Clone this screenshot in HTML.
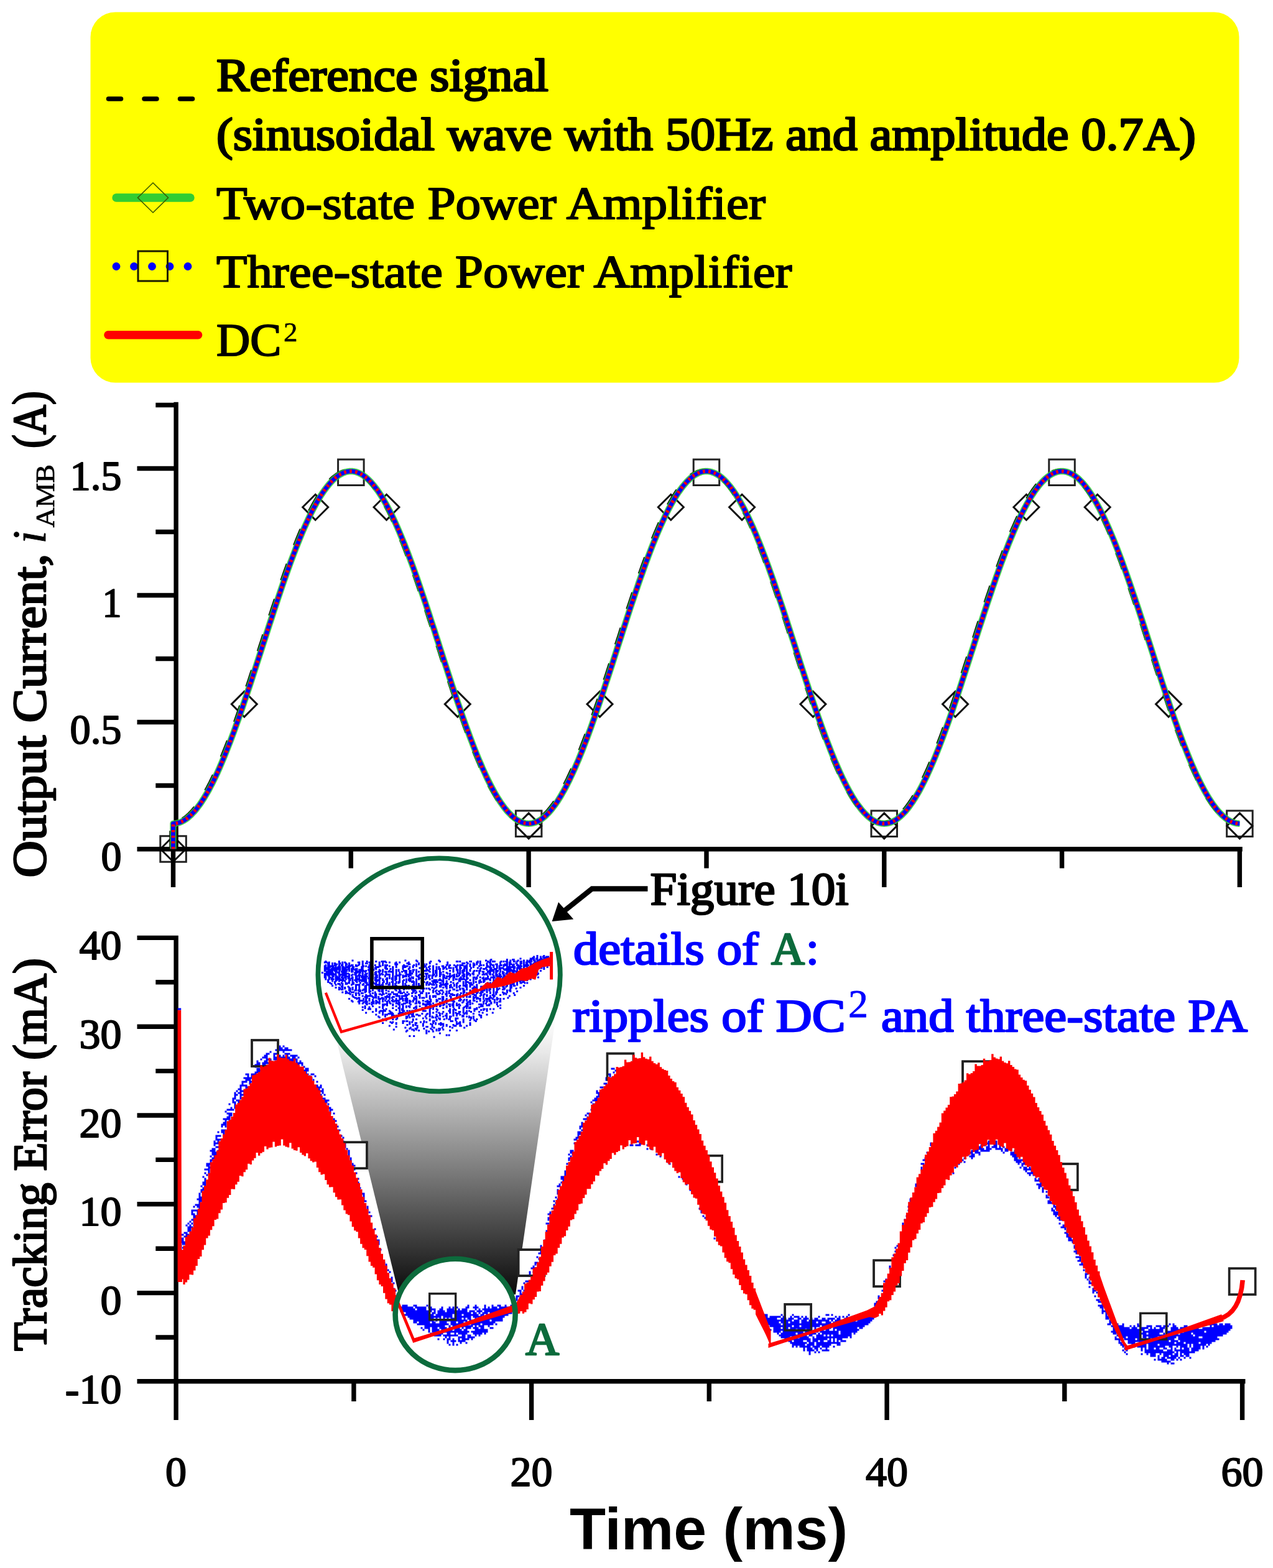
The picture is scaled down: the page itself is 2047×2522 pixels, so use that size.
<!DOCTYPE html>
<html lang="en"><head><meta charset="utf-8"><title>Tracking performance</title>
<style>
html,body{margin:0;padding:0;background:#fff}
body{width:2047px;height:2522px;overflow:hidden}
svg{display:block}
text{font-family:'Liberation Serif','DejaVu Serif',serif;font-weight:normal;fill:#000;stroke:#000;stroke-width:2px;stroke-linejoin:round}
.b{fill:#0000ff;stroke:#0000ff}
.g{fill:#0c6b3c;stroke:#0c6b3c}
.lg{font-size:75px;stroke-width:2.1px}
.lb{font-size:75px;stroke-width:2.9px}
.lw{font-size:75px;stroke-width:2.6px}
.sup{font-size:45px;stroke-width:0.6px}
.sup2{font-size:64px;stroke:#0000ff;stroke-width:0.8px}
.tk{font-size:68px;stroke-width:2px}
.yl{font-size:76px;stroke-width:2.6px}
.it{font-style:italic;stroke-width:0.8px}
.sub{font-size:43px;stroke-width:0.8px}
.xl{font-family:'Liberation Sans','DejaVu Sans',sans-serif;font-weight:bold;font-size:95px;stroke:none}
</style></head>
<body>
<svg width="2047" height="2522" viewBox="0 0 2047 2522">
<rect width="2047" height="2522" fill="#fff"/>
<rect x="145.5" y="19.5" width="1847" height="596" rx="40" ry="40" fill="#ffff00"/>
<path d="M174.5 159H194.5M232 159H252M289.5 159H309.5" stroke="#000" stroke-width="7.5" stroke-linecap="round" fill="none"/>
<path d="M187 318H306" stroke="#32cd32" stroke-width="13.4" stroke-linecap="round" fill="none"/>
<path d="M246 294L270.5 318L246 342L221.5 318Z" stroke="#3a5a00" stroke-width="1.6" fill="none"/>
<circle cx="187" cy="428.5" r="6.4" fill="#0000ff"/>
<circle cx="215.5" cy="428.5" r="6.4" fill="#0000ff"/>
<circle cx="244.5" cy="428.5" r="6.4" fill="#0000ff"/>
<circle cx="273" cy="428.5" r="6.4" fill="#0000ff"/>
<circle cx="302" cy="428.5" r="6.4" fill="#0000ff"/>
<rect x="222" y="404" width="47.5" height="48" stroke="#1a1a00" stroke-width="3" fill="none"/>
<path d="M174 538.8H318.5" stroke="#ff0000" stroke-width="13.6" stroke-linecap="round" fill="none"/>
<text x="348" y="146" class="lb" textLength="534" lengthAdjust="spacingAndGlyphs">Reference signal</text>
<text x="348" y="241" class="lb" textLength="1575" lengthAdjust="spacingAndGlyphs">(sinusoidal wave with 50Hz and amplitude 0.7A)</text>
<text x="348" y="352" class="lg" textLength="883" lengthAdjust="spacingAndGlyphs">Two-state Power Amplifier</text>
<text x="348" y="462" class="lg" textLength="925.5" lengthAdjust="spacingAndGlyphs">Three-state Power Amplifier</text>
<text x="348" y="572" class="lg">DC</text>
<text x="456" y="549" class="sup">2</text>
<path d="M257.8 1344.8h41.5v41.5h-41.5zM543.6 738.9h41.5v41.5h-41.5zM829.4 1304h41.5v41.5h-41.5zM1115.2 738.9h41.5v41.5h-41.5zM1401 1304h41.5v41.5h-41.5zM1686.8 738.9h41.5v41.5h-41.5zM1972.7 1304h41.5v41.5h-41.5z" stroke="#222" stroke-width="3" fill="none"/>
<path d="M278.5 1345l20.5 20.5l-20.5 20.5l-20.5 -20.5zM392.8 1112.1l20.5 20.5l-20.5 20.5l-20.5 -20.5zM507.2 795.3l20.5 20.5l-20.5 20.5l-20.5 -20.5zM621.5 795.3l20.5 20.5l-20.5 20.5l-20.5 -20.5zM735.8 1112.1l20.5 20.5l-20.5 20.5l-20.5 -20.5zM850.1 1307.9l20.5 20.5l-20.5 20.5l-20.5 -20.5zM964.5 1112.1l20.5 20.5l-20.5 20.5l-20.5 -20.5zM1078.8 795.3l20.5 20.5l-20.5 20.5l-20.5 -20.5zM1193.1 795.3l20.5 20.5l-20.5 20.5l-20.5 -20.5zM1307.4 1112.1l20.5 20.5l-20.5 20.5l-20.5 -20.5zM1421.8 1307.9l20.5 20.5l-20.5 20.5l-20.5 -20.5zM1536.1 1112.1l20.5 20.5l-20.5 20.5l-20.5 -20.5zM1650.4 795.3l20.5 20.5l-20.5 20.5l-20.5 -20.5zM1764.7 795.3l20.5 20.5l-20.5 20.5l-20.5 -20.5zM1879.1 1112.1l20.5 20.5l-20.5 20.5l-20.5 -20.5zM1993.4 1307.9l20.5 20.5l-20.5 20.5l-20.5 -20.5z" stroke="#111" stroke-width="3" fill="none"/>
<path d="M283.1 646.8V1369.2M220.5 1365.8H1997.8M220.5 1161.5H283M220.5 957.5H283M220.5 753.5H283M250.3 1263.5H283M250.3 1059.5H283M250.3 855.5H283M250.3 651.5H283M278.5 1365.5V1427M850.1 1365.5V1427M1421.8 1365.5V1427M1993.4 1365.5V1427M564.3 1365.5V1396.5M1136 1365.5V1396.5M1707.6 1365.5V1396.5" stroke="#000" stroke-width="7.4" fill="none"/>
<text x="162.5" y="1399.5" class="tk" textLength="33" lengthAdjust="spacingAndGlyphs">0</text>
<text x="112.5" y="1195.5" class="tk" textLength="83" lengthAdjust="spacingAndGlyphs">0.5</text>
<text x="164.5" y="991.5" class="tk" textLength="31" lengthAdjust="spacingAndGlyphs">1</text>
<text x="112.5" y="787.5" class="tk" textLength="83" lengthAdjust="spacingAndGlyphs">1.5</text>
<path d="M278.5 1365.5L278.5 1324.7L281.4 1324.6L284.2 1324.1L287.1 1323.4L289.9 1322.5L292.8 1321.2L295.6 1319.7L298.5 1317.9L301.4 1315.8L304.2 1313.4L307.1 1310.8L309.9 1307.9L312.8 1304.8L315.7 1301.4L318.5 1297.7L321.4 1293.8L324.2 1289.7L327.1 1285.2L329.9 1280.6L332.8 1275.7L335.7 1270.6L338.5 1265.2L341.4 1259.7L344.2 1253.9L347.1 1247.9L350 1241.7L352.8 1235.3L355.7 1228.7L358.5 1222L361.4 1215L364.2 1207.9L367.1 1200.6L370 1193.2L372.8 1185.6L375.7 1177.9L378.5 1170L381.4 1162L384.3 1153.9L387.1 1145.7L390 1137.3L392.8 1128.9L395.7 1120.4L398.5 1111.8L401.4 1103.2L404.3 1094.4L407.1 1085.7L410 1076.9L412.8 1068L415.7 1059.1L418.6 1050.2L421.4 1041.3L424.3 1032.4L427.1 1023.6L430 1014.7L432.8 1005.8L435.7 997L438.6 988.2L441.4 979.5L444.3 970.9L447.1 962.3L450 953.8L452.8 945.4L455.7 937L458.6 928.8L461.4 920.7L464.3 912.7L467.1 904.8L470 897.1L472.9 889.5L475.7 882.1L478.6 874.8L481.4 867.7L484.3 860.7L487.1 854L490 847.4L492.9 841L495.7 834.8L498.6 828.8L501.4 823L504.3 817.4L507.2 812.1L510 807L512.9 802.1L515.7 797.4L518.6 793L521.4 788.9L524.3 785L527.2 781.3L530 777.9L532.9 774.7L535.7 771.9L538.6 769.2L541.5 766.9L544.3 764.8L547.2 763L550 761.5L552.9 760.2L555.7 759.2L558.6 758.5L561.5 758.1L564.3 758L567.2 758.1L570 758.5L572.9 759.2L575.7 760.2L578.6 761.5L581.5 763L584.3 764.8L587.2 766.9L590 769.2L592.9 771.9L595.8 774.7L598.6 777.9L601.5 781.3L604.3 785L607.2 788.9L610 793L612.9 797.4L615.8 802.1L618.6 807L621.5 812.1L624.3 817.4L627.2 823L630.1 828.8L632.9 834.8L635.8 841L638.6 847.4L641.5 854L644.3 860.7L647.2 867.7L650.1 874.8L652.9 882.1L655.8 889.5L658.6 897.1L661.5 904.8L664.4 912.7L667.2 920.7L670.1 928.8L672.9 937L675.8 945.4L678.6 953.8L681.5 962.3L684.4 970.9L687.2 979.5L690.1 988.2L692.9 997L695.8 1005.8L698.7 1014.7L701.5 1023.6L704.4 1032.4L707.2 1041.3L710.1 1050.2L712.9 1059.1L715.8 1068L718.7 1076.9L721.5 1085.7L724.4 1094.4L727.2 1103.2L730.1 1111.8L732.9 1120.4L735.8 1128.9L738.7 1137.3L741.5 1145.7L744.4 1153.9L747.2 1162L750.1 1170L753 1177.9L755.8 1185.6L758.7 1193.2L761.5 1200.6L764.4 1207.9L767.2 1215L770.1 1222L773 1228.7L775.8 1235.3L778.7 1241.7L781.5 1247.9L784.4 1253.9L787.3 1259.7L790.1 1265.2L793 1270.6L795.8 1275.7L798.7 1280.6L801.5 1285.2L804.4 1289.7L807.3 1293.8L810.1 1297.7L813 1301.4L815.8 1304.8L818.7 1307.9L821.6 1310.8L824.4 1313.4L827.3 1315.8L830.1 1317.9L833 1319.7L835.8 1321.2L838.7 1322.5L841.6 1323.4L844.4 1324.1L847.3 1324.6L850.1 1324.7L853 1324.6L855.8 1324.1L858.7 1323.4L861.6 1322.5L864.4 1321.2L867.3 1319.7L870.1 1317.9L873 1315.8L875.9 1313.4L878.7 1310.8L881.6 1307.9L884.4 1304.8L887.3 1301.4L890.1 1297.7L893 1293.8L895.9 1289.7L898.7 1285.2L901.6 1280.6L904.4 1275.7L907.3 1270.6L910.2 1265.2L913 1259.7L915.9 1253.9L918.7 1247.9L921.6 1241.7L924.4 1235.3L927.3 1228.7L930.2 1222L933 1215L935.9 1207.9L938.7 1200.6L941.6 1193.2L944.5 1185.6L947.3 1177.9L950.2 1170L953 1162L955.9 1153.9L958.7 1145.7L961.6 1137.3L964.5 1128.9L967.3 1120.4L970.2 1111.8L973 1103.2L975.9 1094.4L978.8 1085.7L981.6 1076.9L984.5 1068L987.3 1059.1L990.2 1050.2L993 1041.3L995.9 1032.4L998.8 1023.6L1001.6 1014.7L1004.5 1005.8L1007.3 997L1010.2 988.2L1013 979.5L1015.9 970.9L1018.8 962.3L1021.6 953.8L1024.5 945.4L1027.3 937L1030.2 928.8L1033.1 920.7L1035.9 912.7L1038.8 904.8L1041.6 897.1L1044.5 889.5L1047.3 882.1L1050.2 874.8L1053.1 867.7L1055.9 860.7L1058.8 854L1061.6 847.4L1064.5 841L1067.4 834.8L1070.2 828.8L1073.1 823L1075.9 817.4L1078.8 812.1L1081.6 807L1084.5 802.1L1087.4 797.4L1090.2 793L1093.1 788.9L1095.9 785L1098.8 781.3L1101.7 777.9L1104.5 774.7L1107.4 771.9L1110.2 769.2L1113.1 766.9L1115.9 764.8L1118.8 763L1121.7 761.5L1124.5 760.2L1127.4 759.2L1130.2 758.5L1133.1 758.1L1136 758L1138.8 758.1L1141.7 758.5L1144.5 759.2L1147.4 760.2L1150.2 761.5L1153.1 763L1156 764.8L1158.8 766.9L1161.7 769.2L1164.5 771.9L1167.4 774.7L1170.2 777.9L1173.1 781.3L1176 785L1178.8 788.9L1181.7 793L1184.5 797.4L1187.4 802.1L1190.3 807L1193.1 812.1L1196 817.4L1198.8 823L1201.7 828.8L1204.5 834.8L1207.4 841L1210.3 847.4L1213.1 854L1216 860.7L1218.8 867.7L1221.7 874.8L1224.6 882.1L1227.4 889.5L1230.3 897.1L1233.1 904.8L1236 912.7L1238.8 920.7L1241.7 928.8L1244.6 937L1247.4 945.4L1250.3 953.8L1253.1 962.3L1256 970.9L1258.9 979.5L1261.7 988.2L1264.6 997L1267.4 1005.8L1270.3 1014.7L1273.1 1023.6L1276 1032.4L1278.9 1041.3L1281.7 1050.2L1284.6 1059.1L1287.4 1068L1290.3 1076.9L1293.1 1085.7L1296 1094.4L1298.9 1103.2L1301.7 1111.8L1304.6 1120.4L1307.4 1128.9L1310.3 1137.3L1313.2 1145.7L1316 1153.9L1318.9 1162L1321.7 1170L1324.6 1177.9L1327.4 1185.6L1330.3 1193.2L1333.2 1200.6L1336 1207.9L1338.9 1215L1341.7 1222L1344.6 1228.7L1347.5 1235.3L1350.3 1241.7L1353.2 1247.9L1356 1253.9L1358.9 1259.7L1361.7 1265.2L1364.6 1270.6L1367.5 1275.7L1370.3 1280.6L1373.2 1285.2L1376 1289.7L1378.9 1293.8L1381.8 1297.7L1384.6 1301.4L1387.5 1304.8L1390.3 1307.9L1393.2 1310.8L1396 1313.4L1398.9 1315.8L1401.8 1317.9L1404.6 1319.7L1407.5 1321.2L1410.3 1322.5L1413.2 1323.4L1416.1 1324.1L1418.9 1324.6L1421.8 1324.7L1424.6 1324.6L1427.5 1324.1L1430.3 1323.4L1433.2 1322.5L1436.1 1321.2L1438.9 1319.7L1441.8 1317.9L1444.6 1315.8L1447.5 1313.4L1450.3 1310.8L1453.2 1307.9L1456.1 1304.8L1458.9 1301.4L1461.8 1297.7L1464.6 1293.8L1467.5 1289.7L1470.4 1285.2L1473.2 1280.6L1476.1 1275.7L1478.9 1270.6L1481.8 1265.2L1484.6 1259.7L1487.5 1253.9L1490.4 1247.9L1493.2 1241.7L1496.1 1235.3L1498.9 1228.7L1501.8 1222L1504.7 1215L1507.5 1207.9L1510.4 1200.6L1513.2 1193.2L1516.1 1185.6L1518.9 1177.9L1521.8 1170L1524.7 1162L1527.5 1153.9L1530.4 1145.7L1533.2 1137.3L1536.1 1128.9L1539 1120.4L1541.8 1111.8L1544.7 1103.2L1547.5 1094.4L1550.4 1085.7L1553.2 1076.9L1556.1 1068L1559 1059.1L1561.8 1050.2L1564.7 1041.3L1567.5 1032.4L1570.4 1023.6L1573.2 1014.7L1576.1 1005.8L1579 997L1581.8 988.2L1584.7 979.5L1587.5 970.9L1590.4 962.3L1593.3 953.8L1596.1 945.4L1599 937L1601.8 928.8L1604.7 920.7L1607.5 912.7L1610.4 904.8L1613.3 897.1L1616.1 889.5L1619 882.1L1621.8 874.8L1624.7 867.7L1627.6 860.7L1630.4 854L1633.3 847.4L1636.1 841L1639 834.8L1641.8 828.8L1644.7 823L1647.6 817.4L1650.4 812.1L1653.3 807L1656.1 802.1L1659 797.4L1661.9 793L1664.7 788.9L1667.6 785L1670.4 781.3L1673.3 777.9L1676.1 774.7L1679 771.9L1681.9 769.2L1684.7 766.9L1687.6 764.8L1690.4 763L1693.3 761.5L1696.2 760.2L1699 759.2L1701.9 758.5L1704.7 758.1L1707.6 758L1710.4 758.1L1713.3 758.5L1716.2 759.2L1719 760.2L1721.9 761.5L1724.7 763L1727.6 764.8L1730.4 766.9L1733.3 769.2L1736.2 771.9L1739 774.7L1741.9 777.9L1744.7 781.3L1747.6 785L1750.5 788.9L1753.3 793L1756.2 797.4L1759 802.1L1761.9 807L1764.7 812.1L1767.6 817.4L1770.5 823L1773.3 828.8L1776.2 834.8L1779 841L1781.9 847.4L1784.8 854L1787.6 860.7L1790.5 867.7L1793.3 874.8L1796.2 882.1L1799 889.5L1801.9 897.1L1804.8 904.8L1807.6 912.7L1810.5 920.7L1813.3 928.8L1816.2 937L1819.1 945.4L1821.9 953.8L1824.8 962.3L1827.6 970.9L1830.5 979.5L1833.3 988.2L1836.2 997L1839.1 1005.8L1841.9 1014.7L1844.8 1023.6L1847.6 1032.4L1850.5 1041.3L1853.3 1050.2L1856.2 1059.1L1859.1 1068L1861.9 1076.9L1864.8 1085.7L1867.6 1094.4L1870.5 1103.2L1873.4 1111.8L1876.2 1120.4L1879.1 1128.9L1881.9 1137.3L1884.8 1145.7L1887.6 1153.9L1890.5 1162L1893.4 1170L1896.2 1177.9L1899.1 1185.6L1901.9 1193.2L1904.8 1200.6L1907.7 1207.9L1910.5 1215L1913.4 1222L1916.2 1228.7L1919.1 1235.3L1921.9 1241.7L1924.8 1247.9L1927.7 1253.9L1930.5 1259.7L1933.4 1265.2L1936.2 1270.6L1939.1 1275.7L1942 1280.6L1944.8 1285.2L1947.7 1289.7L1950.5 1293.8L1953.4 1297.7L1956.2 1301.4L1959.1 1304.8L1962 1307.9L1964.8 1310.8L1967.7 1313.4L1970.5 1315.8L1973.4 1317.9L1976.3 1319.7L1979.1 1321.2L1982 1322.5L1984.8 1323.4L1987.7 1324.1L1990.5 1324.6L1993.4 1324.7" transform="translate(-3 -1.2)" stroke="#000" stroke-width="6.5" stroke-dasharray="28 32" fill="none"/>
<path d="M278.5 1365.5L278.5 1324.7L281.4 1324.6L284.2 1324.1L287.1 1323.4L289.9 1322.5L292.8 1321.2L295.6 1319.7L298.5 1317.9L301.4 1315.8L304.2 1313.4L307.1 1310.8L309.9 1307.9L312.8 1304.8L315.7 1301.4L318.5 1297.7L321.4 1293.8L324.2 1289.7L327.1 1285.2L329.9 1280.6L332.8 1275.7L335.7 1270.6L338.5 1265.2L341.4 1259.7L344.2 1253.9L347.1 1247.9L350 1241.7L352.8 1235.3L355.7 1228.7L358.5 1222L361.4 1215L364.2 1207.9L367.1 1200.6L370 1193.2L372.8 1185.6L375.7 1177.9L378.5 1170L381.4 1162L384.3 1153.9L387.1 1145.7L390 1137.3L392.8 1128.9L395.7 1120.4L398.5 1111.8L401.4 1103.2L404.3 1094.4L407.1 1085.7L410 1076.9L412.8 1068L415.7 1059.1L418.6 1050.2L421.4 1041.3L424.3 1032.4L427.1 1023.6L430 1014.7L432.8 1005.8L435.7 997L438.6 988.2L441.4 979.5L444.3 970.9L447.1 962.3L450 953.8L452.8 945.4L455.7 937L458.6 928.8L461.4 920.7L464.3 912.7L467.1 904.8L470 897.1L472.9 889.5L475.7 882.1L478.6 874.8L481.4 867.7L484.3 860.7L487.1 854L490 847.4L492.9 841L495.7 834.8L498.6 828.8L501.4 823L504.3 817.4L507.2 812.1L510 807L512.9 802.1L515.7 797.4L518.6 793L521.4 788.9L524.3 785L527.2 781.3L530 777.9L532.9 774.7L535.7 771.9L538.6 769.2L541.5 766.9L544.3 764.8L547.2 763L550 761.5L552.9 760.2L555.7 759.2L558.6 758.5L561.5 758.1L564.3 758L567.2 758.1L570 758.5L572.9 759.2L575.7 760.2L578.6 761.5L581.5 763L584.3 764.8L587.2 766.9L590 769.2L592.9 771.9L595.8 774.7L598.6 777.9L601.5 781.3L604.3 785L607.2 788.9L610 793L612.9 797.4L615.8 802.1L618.6 807L621.5 812.1L624.3 817.4L627.2 823L630.1 828.8L632.9 834.8L635.8 841L638.6 847.4L641.5 854L644.3 860.7L647.2 867.7L650.1 874.8L652.9 882.1L655.8 889.5L658.6 897.1L661.5 904.8L664.4 912.7L667.2 920.7L670.1 928.8L672.9 937L675.8 945.4L678.6 953.8L681.5 962.3L684.4 970.9L687.2 979.5L690.1 988.2L692.9 997L695.8 1005.8L698.7 1014.7L701.5 1023.6L704.4 1032.4L707.2 1041.3L710.1 1050.2L712.9 1059.1L715.8 1068L718.7 1076.9L721.5 1085.7L724.4 1094.4L727.2 1103.2L730.1 1111.8L732.9 1120.4L735.8 1128.9L738.7 1137.3L741.5 1145.7L744.4 1153.9L747.2 1162L750.1 1170L753 1177.9L755.8 1185.6L758.7 1193.2L761.5 1200.6L764.4 1207.9L767.2 1215L770.1 1222L773 1228.7L775.8 1235.3L778.7 1241.7L781.5 1247.9L784.4 1253.9L787.3 1259.7L790.1 1265.2L793 1270.6L795.8 1275.7L798.7 1280.6L801.5 1285.2L804.4 1289.7L807.3 1293.8L810.1 1297.7L813 1301.4L815.8 1304.8L818.7 1307.9L821.6 1310.8L824.4 1313.4L827.3 1315.8L830.1 1317.9L833 1319.7L835.8 1321.2L838.7 1322.5L841.6 1323.4L844.4 1324.1L847.3 1324.6L850.1 1324.7L853 1324.6L855.8 1324.1L858.7 1323.4L861.6 1322.5L864.4 1321.2L867.3 1319.7L870.1 1317.9L873 1315.8L875.9 1313.4L878.7 1310.8L881.6 1307.9L884.4 1304.8L887.3 1301.4L890.1 1297.7L893 1293.8L895.9 1289.7L898.7 1285.2L901.6 1280.6L904.4 1275.7L907.3 1270.6L910.2 1265.2L913 1259.7L915.9 1253.9L918.7 1247.9L921.6 1241.7L924.4 1235.3L927.3 1228.7L930.2 1222L933 1215L935.9 1207.9L938.7 1200.6L941.6 1193.2L944.5 1185.6L947.3 1177.9L950.2 1170L953 1162L955.9 1153.9L958.7 1145.7L961.6 1137.3L964.5 1128.9L967.3 1120.4L970.2 1111.8L973 1103.2L975.9 1094.4L978.8 1085.7L981.6 1076.9L984.5 1068L987.3 1059.1L990.2 1050.2L993 1041.3L995.9 1032.4L998.8 1023.6L1001.6 1014.7L1004.5 1005.8L1007.3 997L1010.2 988.2L1013 979.5L1015.9 970.9L1018.8 962.3L1021.6 953.8L1024.5 945.4L1027.3 937L1030.2 928.8L1033.1 920.7L1035.9 912.7L1038.8 904.8L1041.6 897.1L1044.5 889.5L1047.3 882.1L1050.2 874.8L1053.1 867.7L1055.9 860.7L1058.8 854L1061.6 847.4L1064.5 841L1067.4 834.8L1070.2 828.8L1073.1 823L1075.9 817.4L1078.8 812.1L1081.6 807L1084.5 802.1L1087.4 797.4L1090.2 793L1093.1 788.9L1095.9 785L1098.8 781.3L1101.7 777.9L1104.5 774.7L1107.4 771.9L1110.2 769.2L1113.1 766.9L1115.9 764.8L1118.8 763L1121.7 761.5L1124.5 760.2L1127.4 759.2L1130.2 758.5L1133.1 758.1L1136 758L1138.8 758.1L1141.7 758.5L1144.5 759.2L1147.4 760.2L1150.2 761.5L1153.1 763L1156 764.8L1158.8 766.9L1161.7 769.2L1164.5 771.9L1167.4 774.7L1170.2 777.9L1173.1 781.3L1176 785L1178.8 788.9L1181.7 793L1184.5 797.4L1187.4 802.1L1190.3 807L1193.1 812.1L1196 817.4L1198.8 823L1201.7 828.8L1204.5 834.8L1207.4 841L1210.3 847.4L1213.1 854L1216 860.7L1218.8 867.7L1221.7 874.8L1224.6 882.1L1227.4 889.5L1230.3 897.1L1233.1 904.8L1236 912.7L1238.8 920.7L1241.7 928.8L1244.6 937L1247.4 945.4L1250.3 953.8L1253.1 962.3L1256 970.9L1258.9 979.5L1261.7 988.2L1264.6 997L1267.4 1005.8L1270.3 1014.7L1273.1 1023.6L1276 1032.4L1278.9 1041.3L1281.7 1050.2L1284.6 1059.1L1287.4 1068L1290.3 1076.9L1293.1 1085.7L1296 1094.4L1298.9 1103.2L1301.7 1111.8L1304.6 1120.4L1307.4 1128.9L1310.3 1137.3L1313.2 1145.7L1316 1153.9L1318.9 1162L1321.7 1170L1324.6 1177.9L1327.4 1185.6L1330.3 1193.2L1333.2 1200.6L1336 1207.9L1338.9 1215L1341.7 1222L1344.6 1228.7L1347.5 1235.3L1350.3 1241.7L1353.2 1247.9L1356 1253.9L1358.9 1259.7L1361.7 1265.2L1364.6 1270.6L1367.5 1275.7L1370.3 1280.6L1373.2 1285.2L1376 1289.7L1378.9 1293.8L1381.8 1297.7L1384.6 1301.4L1387.5 1304.8L1390.3 1307.9L1393.2 1310.8L1396 1313.4L1398.9 1315.8L1401.8 1317.9L1404.6 1319.7L1407.5 1321.2L1410.3 1322.5L1413.2 1323.4L1416.1 1324.1L1418.9 1324.6L1421.8 1324.7L1424.6 1324.6L1427.5 1324.1L1430.3 1323.4L1433.2 1322.5L1436.1 1321.2L1438.9 1319.7L1441.8 1317.9L1444.6 1315.8L1447.5 1313.4L1450.3 1310.8L1453.2 1307.9L1456.1 1304.8L1458.9 1301.4L1461.8 1297.7L1464.6 1293.8L1467.5 1289.7L1470.4 1285.2L1473.2 1280.6L1476.1 1275.7L1478.9 1270.6L1481.8 1265.2L1484.6 1259.7L1487.5 1253.9L1490.4 1247.9L1493.2 1241.7L1496.1 1235.3L1498.9 1228.7L1501.8 1222L1504.7 1215L1507.5 1207.9L1510.4 1200.6L1513.2 1193.2L1516.1 1185.6L1518.9 1177.9L1521.8 1170L1524.7 1162L1527.5 1153.9L1530.4 1145.7L1533.2 1137.3L1536.1 1128.9L1539 1120.4L1541.8 1111.8L1544.7 1103.2L1547.5 1094.4L1550.4 1085.7L1553.2 1076.9L1556.1 1068L1559 1059.1L1561.8 1050.2L1564.7 1041.3L1567.5 1032.4L1570.4 1023.6L1573.2 1014.7L1576.1 1005.8L1579 997L1581.8 988.2L1584.7 979.5L1587.5 970.9L1590.4 962.3L1593.3 953.8L1596.1 945.4L1599 937L1601.8 928.8L1604.7 920.7L1607.5 912.7L1610.4 904.8L1613.3 897.1L1616.1 889.5L1619 882.1L1621.8 874.8L1624.7 867.7L1627.6 860.7L1630.4 854L1633.3 847.4L1636.1 841L1639 834.8L1641.8 828.8L1644.7 823L1647.6 817.4L1650.4 812.1L1653.3 807L1656.1 802.1L1659 797.4L1661.9 793L1664.7 788.9L1667.6 785L1670.4 781.3L1673.3 777.9L1676.1 774.7L1679 771.9L1681.9 769.2L1684.7 766.9L1687.6 764.8L1690.4 763L1693.3 761.5L1696.2 760.2L1699 759.2L1701.9 758.5L1704.7 758.1L1707.6 758L1710.4 758.1L1713.3 758.5L1716.2 759.2L1719 760.2L1721.9 761.5L1724.7 763L1727.6 764.8L1730.4 766.9L1733.3 769.2L1736.2 771.9L1739 774.7L1741.9 777.9L1744.7 781.3L1747.6 785L1750.5 788.9L1753.3 793L1756.2 797.4L1759 802.1L1761.9 807L1764.7 812.1L1767.6 817.4L1770.5 823L1773.3 828.8L1776.2 834.8L1779 841L1781.9 847.4L1784.8 854L1787.6 860.7L1790.5 867.7L1793.3 874.8L1796.2 882.1L1799 889.5L1801.9 897.1L1804.8 904.8L1807.6 912.7L1810.5 920.7L1813.3 928.8L1816.2 937L1819.1 945.4L1821.9 953.8L1824.8 962.3L1827.6 970.9L1830.5 979.5L1833.3 988.2L1836.2 997L1839.1 1005.8L1841.9 1014.7L1844.8 1023.6L1847.6 1032.4L1850.5 1041.3L1853.3 1050.2L1856.2 1059.1L1859.1 1068L1861.9 1076.9L1864.8 1085.7L1867.6 1094.4L1870.5 1103.2L1873.4 1111.8L1876.2 1120.4L1879.1 1128.9L1881.9 1137.3L1884.8 1145.7L1887.6 1153.9L1890.5 1162L1893.4 1170L1896.2 1177.9L1899.1 1185.6L1901.9 1193.2L1904.8 1200.6L1907.7 1207.9L1910.5 1215L1913.4 1222L1916.2 1228.7L1919.1 1235.3L1921.9 1241.7L1924.8 1247.9L1927.7 1253.9L1930.5 1259.7L1933.4 1265.2L1936.2 1270.6L1939.1 1275.7L1942 1280.6L1944.8 1285.2L1947.7 1289.7L1950.5 1293.8L1953.4 1297.7L1956.2 1301.4L1959.1 1304.8L1962 1307.9L1964.8 1310.8L1967.7 1313.4L1970.5 1315.8L1973.4 1317.9L1976.3 1319.7L1979.1 1321.2L1982 1322.5L1984.8 1323.4L1987.7 1324.1L1990.5 1324.6L1993.4 1324.7" stroke="#32cd32" stroke-width="10.5" fill="none" stroke-linejoin="round" opacity="0.85"/>
<path d="M278.5 1365.5L278.5 1324.7L281.4 1324.6L284.2 1324.1L287.1 1323.4L289.9 1322.5L292.8 1321.2L295.6 1319.7L298.5 1317.9L301.4 1315.8L304.2 1313.4L307.1 1310.8L309.9 1307.9L312.8 1304.8L315.7 1301.4L318.5 1297.7L321.4 1293.8L324.2 1289.7L327.1 1285.2L329.9 1280.6L332.8 1275.7L335.7 1270.6L338.5 1265.2L341.4 1259.7L344.2 1253.9L347.1 1247.9L350 1241.7L352.8 1235.3L355.7 1228.7L358.5 1222L361.4 1215L364.2 1207.9L367.1 1200.6L370 1193.2L372.8 1185.6L375.7 1177.9L378.5 1170L381.4 1162L384.3 1153.9L387.1 1145.7L390 1137.3L392.8 1128.9L395.7 1120.4L398.5 1111.8L401.4 1103.2L404.3 1094.4L407.1 1085.7L410 1076.9L412.8 1068L415.7 1059.1L418.6 1050.2L421.4 1041.3L424.3 1032.4L427.1 1023.6L430 1014.7L432.8 1005.8L435.7 997L438.6 988.2L441.4 979.5L444.3 970.9L447.1 962.3L450 953.8L452.8 945.4L455.7 937L458.6 928.8L461.4 920.7L464.3 912.7L467.1 904.8L470 897.1L472.9 889.5L475.7 882.1L478.6 874.8L481.4 867.7L484.3 860.7L487.1 854L490 847.4L492.9 841L495.7 834.8L498.6 828.8L501.4 823L504.3 817.4L507.2 812.1L510 807L512.9 802.1L515.7 797.4L518.6 793L521.4 788.9L524.3 785L527.2 781.3L530 777.9L532.9 774.7L535.7 771.9L538.6 769.2L541.5 766.9L544.3 764.8L547.2 763L550 761.5L552.9 760.2L555.7 759.2L558.6 758.5L561.5 758.1L564.3 758L567.2 758.1L570 758.5L572.9 759.2L575.7 760.2L578.6 761.5L581.5 763L584.3 764.8L587.2 766.9L590 769.2L592.9 771.9L595.8 774.7L598.6 777.9L601.5 781.3L604.3 785L607.2 788.9L610 793L612.9 797.4L615.8 802.1L618.6 807L621.5 812.1L624.3 817.4L627.2 823L630.1 828.8L632.9 834.8L635.8 841L638.6 847.4L641.5 854L644.3 860.7L647.2 867.7L650.1 874.8L652.9 882.1L655.8 889.5L658.6 897.1L661.5 904.8L664.4 912.7L667.2 920.7L670.1 928.8L672.9 937L675.8 945.4L678.6 953.8L681.5 962.3L684.4 970.9L687.2 979.5L690.1 988.2L692.9 997L695.8 1005.8L698.7 1014.7L701.5 1023.6L704.4 1032.4L707.2 1041.3L710.1 1050.2L712.9 1059.1L715.8 1068L718.7 1076.9L721.5 1085.7L724.4 1094.4L727.2 1103.2L730.1 1111.8L732.9 1120.4L735.8 1128.9L738.7 1137.3L741.5 1145.7L744.4 1153.9L747.2 1162L750.1 1170L753 1177.9L755.8 1185.6L758.7 1193.2L761.5 1200.6L764.4 1207.9L767.2 1215L770.1 1222L773 1228.7L775.8 1235.3L778.7 1241.7L781.5 1247.9L784.4 1253.9L787.3 1259.7L790.1 1265.2L793 1270.6L795.8 1275.7L798.7 1280.6L801.5 1285.2L804.4 1289.7L807.3 1293.8L810.1 1297.7L813 1301.4L815.8 1304.8L818.7 1307.9L821.6 1310.8L824.4 1313.4L827.3 1315.8L830.1 1317.9L833 1319.7L835.8 1321.2L838.7 1322.5L841.6 1323.4L844.4 1324.1L847.3 1324.6L850.1 1324.7L853 1324.6L855.8 1324.1L858.7 1323.4L861.6 1322.5L864.4 1321.2L867.3 1319.7L870.1 1317.9L873 1315.8L875.9 1313.4L878.7 1310.8L881.6 1307.9L884.4 1304.8L887.3 1301.4L890.1 1297.7L893 1293.8L895.9 1289.7L898.7 1285.2L901.6 1280.6L904.4 1275.7L907.3 1270.6L910.2 1265.2L913 1259.7L915.9 1253.9L918.7 1247.9L921.6 1241.7L924.4 1235.3L927.3 1228.7L930.2 1222L933 1215L935.9 1207.9L938.7 1200.6L941.6 1193.2L944.5 1185.6L947.3 1177.9L950.2 1170L953 1162L955.9 1153.9L958.7 1145.7L961.6 1137.3L964.5 1128.9L967.3 1120.4L970.2 1111.8L973 1103.2L975.9 1094.4L978.8 1085.7L981.6 1076.9L984.5 1068L987.3 1059.1L990.2 1050.2L993 1041.3L995.9 1032.4L998.8 1023.6L1001.6 1014.7L1004.5 1005.8L1007.3 997L1010.2 988.2L1013 979.5L1015.9 970.9L1018.8 962.3L1021.6 953.8L1024.5 945.4L1027.3 937L1030.2 928.8L1033.1 920.7L1035.9 912.7L1038.8 904.8L1041.6 897.1L1044.5 889.5L1047.3 882.1L1050.2 874.8L1053.1 867.7L1055.9 860.7L1058.8 854L1061.6 847.4L1064.5 841L1067.4 834.8L1070.2 828.8L1073.1 823L1075.9 817.4L1078.8 812.1L1081.6 807L1084.5 802.1L1087.4 797.4L1090.2 793L1093.1 788.9L1095.9 785L1098.8 781.3L1101.7 777.9L1104.5 774.7L1107.4 771.9L1110.2 769.2L1113.1 766.9L1115.9 764.8L1118.8 763L1121.7 761.5L1124.5 760.2L1127.4 759.2L1130.2 758.5L1133.1 758.1L1136 758L1138.8 758.1L1141.7 758.5L1144.5 759.2L1147.4 760.2L1150.2 761.5L1153.1 763L1156 764.8L1158.8 766.9L1161.7 769.2L1164.5 771.9L1167.4 774.7L1170.2 777.9L1173.1 781.3L1176 785L1178.8 788.9L1181.7 793L1184.5 797.4L1187.4 802.1L1190.3 807L1193.1 812.1L1196 817.4L1198.8 823L1201.7 828.8L1204.5 834.8L1207.4 841L1210.3 847.4L1213.1 854L1216 860.7L1218.8 867.7L1221.7 874.8L1224.6 882.1L1227.4 889.5L1230.3 897.1L1233.1 904.8L1236 912.7L1238.8 920.7L1241.7 928.8L1244.6 937L1247.4 945.4L1250.3 953.8L1253.1 962.3L1256 970.9L1258.9 979.5L1261.7 988.2L1264.6 997L1267.4 1005.8L1270.3 1014.7L1273.1 1023.6L1276 1032.4L1278.9 1041.3L1281.7 1050.2L1284.6 1059.1L1287.4 1068L1290.3 1076.9L1293.1 1085.7L1296 1094.4L1298.9 1103.2L1301.7 1111.8L1304.6 1120.4L1307.4 1128.9L1310.3 1137.3L1313.2 1145.7L1316 1153.9L1318.9 1162L1321.7 1170L1324.6 1177.9L1327.4 1185.6L1330.3 1193.2L1333.2 1200.6L1336 1207.9L1338.9 1215L1341.7 1222L1344.6 1228.7L1347.5 1235.3L1350.3 1241.7L1353.2 1247.9L1356 1253.9L1358.9 1259.7L1361.7 1265.2L1364.6 1270.6L1367.5 1275.7L1370.3 1280.6L1373.2 1285.2L1376 1289.7L1378.9 1293.8L1381.8 1297.7L1384.6 1301.4L1387.5 1304.8L1390.3 1307.9L1393.2 1310.8L1396 1313.4L1398.9 1315.8L1401.8 1317.9L1404.6 1319.7L1407.5 1321.2L1410.3 1322.5L1413.2 1323.4L1416.1 1324.1L1418.9 1324.6L1421.8 1324.7L1424.6 1324.6L1427.5 1324.1L1430.3 1323.4L1433.2 1322.5L1436.1 1321.2L1438.9 1319.7L1441.8 1317.9L1444.6 1315.8L1447.5 1313.4L1450.3 1310.8L1453.2 1307.9L1456.1 1304.8L1458.9 1301.4L1461.8 1297.7L1464.6 1293.8L1467.5 1289.7L1470.4 1285.2L1473.2 1280.6L1476.1 1275.7L1478.9 1270.6L1481.8 1265.2L1484.6 1259.7L1487.5 1253.9L1490.4 1247.9L1493.2 1241.7L1496.1 1235.3L1498.9 1228.7L1501.8 1222L1504.7 1215L1507.5 1207.9L1510.4 1200.6L1513.2 1193.2L1516.1 1185.6L1518.9 1177.9L1521.8 1170L1524.7 1162L1527.5 1153.9L1530.4 1145.7L1533.2 1137.3L1536.1 1128.9L1539 1120.4L1541.8 1111.8L1544.7 1103.2L1547.5 1094.4L1550.4 1085.7L1553.2 1076.9L1556.1 1068L1559 1059.1L1561.8 1050.2L1564.7 1041.3L1567.5 1032.4L1570.4 1023.6L1573.2 1014.7L1576.1 1005.8L1579 997L1581.8 988.2L1584.7 979.5L1587.5 970.9L1590.4 962.3L1593.3 953.8L1596.1 945.4L1599 937L1601.8 928.8L1604.7 920.7L1607.5 912.7L1610.4 904.8L1613.3 897.1L1616.1 889.5L1619 882.1L1621.8 874.8L1624.7 867.7L1627.6 860.7L1630.4 854L1633.3 847.4L1636.1 841L1639 834.8L1641.8 828.8L1644.7 823L1647.6 817.4L1650.4 812.1L1653.3 807L1656.1 802.1L1659 797.4L1661.9 793L1664.7 788.9L1667.6 785L1670.4 781.3L1673.3 777.9L1676.1 774.7L1679 771.9L1681.9 769.2L1684.7 766.9L1687.6 764.8L1690.4 763L1693.3 761.5L1696.2 760.2L1699 759.2L1701.9 758.5L1704.7 758.1L1707.6 758L1710.4 758.1L1713.3 758.5L1716.2 759.2L1719 760.2L1721.9 761.5L1724.7 763L1727.6 764.8L1730.4 766.9L1733.3 769.2L1736.2 771.9L1739 774.7L1741.9 777.9L1744.7 781.3L1747.6 785L1750.5 788.9L1753.3 793L1756.2 797.4L1759 802.1L1761.9 807L1764.7 812.1L1767.6 817.4L1770.5 823L1773.3 828.8L1776.2 834.8L1779 841L1781.9 847.4L1784.8 854L1787.6 860.7L1790.5 867.7L1793.3 874.8L1796.2 882.1L1799 889.5L1801.9 897.1L1804.8 904.8L1807.6 912.7L1810.5 920.7L1813.3 928.8L1816.2 937L1819.1 945.4L1821.9 953.8L1824.8 962.3L1827.6 970.9L1830.5 979.5L1833.3 988.2L1836.2 997L1839.1 1005.8L1841.9 1014.7L1844.8 1023.6L1847.6 1032.4L1850.5 1041.3L1853.3 1050.2L1856.2 1059.1L1859.1 1068L1861.9 1076.9L1864.8 1085.7L1867.6 1094.4L1870.5 1103.2L1873.4 1111.8L1876.2 1120.4L1879.1 1128.9L1881.9 1137.3L1884.8 1145.7L1887.6 1153.9L1890.5 1162L1893.4 1170L1896.2 1177.9L1899.1 1185.6L1901.9 1193.2L1904.8 1200.6L1907.7 1207.9L1910.5 1215L1913.4 1222L1916.2 1228.7L1919.1 1235.3L1921.9 1241.7L1924.8 1247.9L1927.7 1253.9L1930.5 1259.7L1933.4 1265.2L1936.2 1270.6L1939.1 1275.7L1942 1280.6L1944.8 1285.2L1947.7 1289.7L1950.5 1293.8L1953.4 1297.7L1956.2 1301.4L1959.1 1304.8L1962 1307.9L1964.8 1310.8L1967.7 1313.4L1970.5 1315.8L1973.4 1317.9L1976.3 1319.7L1979.1 1321.2L1982 1322.5L1984.8 1323.4L1987.7 1324.1L1990.5 1324.6L1993.4 1324.7" stroke="#0000ff" stroke-width="7" fill="none" stroke-linejoin="round"/>
<path d="M278.5 1365.5L278.5 1324.7L281.4 1324.6L284.2 1324.1L287.1 1323.4L289.9 1322.5L292.8 1321.2L295.6 1319.7L298.5 1317.9L301.4 1315.8L304.2 1313.4L307.1 1310.8L309.9 1307.9L312.8 1304.8L315.7 1301.4L318.5 1297.7L321.4 1293.8L324.2 1289.7L327.1 1285.2L329.9 1280.6L332.8 1275.7L335.7 1270.6L338.5 1265.2L341.4 1259.7L344.2 1253.9L347.1 1247.9L350 1241.7L352.8 1235.3L355.7 1228.7L358.5 1222L361.4 1215L364.2 1207.9L367.1 1200.6L370 1193.2L372.8 1185.6L375.7 1177.9L378.5 1170L381.4 1162L384.3 1153.9L387.1 1145.7L390 1137.3L392.8 1128.9L395.7 1120.4L398.5 1111.8L401.4 1103.2L404.3 1094.4L407.1 1085.7L410 1076.9L412.8 1068L415.7 1059.1L418.6 1050.2L421.4 1041.3L424.3 1032.4L427.1 1023.6L430 1014.7L432.8 1005.8L435.7 997L438.6 988.2L441.4 979.5L444.3 970.9L447.1 962.3L450 953.8L452.8 945.4L455.7 937L458.6 928.8L461.4 920.7L464.3 912.7L467.1 904.8L470 897.1L472.9 889.5L475.7 882.1L478.6 874.8L481.4 867.7L484.3 860.7L487.1 854L490 847.4L492.9 841L495.7 834.8L498.6 828.8L501.4 823L504.3 817.4L507.2 812.1L510 807L512.9 802.1L515.7 797.4L518.6 793L521.4 788.9L524.3 785L527.2 781.3L530 777.9L532.9 774.7L535.7 771.9L538.6 769.2L541.5 766.9L544.3 764.8L547.2 763L550 761.5L552.9 760.2L555.7 759.2L558.6 758.5L561.5 758.1L564.3 758L567.2 758.1L570 758.5L572.9 759.2L575.7 760.2L578.6 761.5L581.5 763L584.3 764.8L587.2 766.9L590 769.2L592.9 771.9L595.8 774.7L598.6 777.9L601.5 781.3L604.3 785L607.2 788.9L610 793L612.9 797.4L615.8 802.1L618.6 807L621.5 812.1L624.3 817.4L627.2 823L630.1 828.8L632.9 834.8L635.8 841L638.6 847.4L641.5 854L644.3 860.7L647.2 867.7L650.1 874.8L652.9 882.1L655.8 889.5L658.6 897.1L661.5 904.8L664.4 912.7L667.2 920.7L670.1 928.8L672.9 937L675.8 945.4L678.6 953.8L681.5 962.3L684.4 970.9L687.2 979.5L690.1 988.2L692.9 997L695.8 1005.8L698.7 1014.7L701.5 1023.6L704.4 1032.4L707.2 1041.3L710.1 1050.2L712.9 1059.1L715.8 1068L718.7 1076.9L721.5 1085.7L724.4 1094.4L727.2 1103.2L730.1 1111.8L732.9 1120.4L735.8 1128.9L738.7 1137.3L741.5 1145.7L744.4 1153.9L747.2 1162L750.1 1170L753 1177.9L755.8 1185.6L758.7 1193.2L761.5 1200.6L764.4 1207.9L767.2 1215L770.1 1222L773 1228.7L775.8 1235.3L778.7 1241.7L781.5 1247.9L784.4 1253.9L787.3 1259.7L790.1 1265.2L793 1270.6L795.8 1275.7L798.7 1280.6L801.5 1285.2L804.4 1289.7L807.3 1293.8L810.1 1297.7L813 1301.4L815.8 1304.8L818.7 1307.9L821.6 1310.8L824.4 1313.4L827.3 1315.8L830.1 1317.9L833 1319.7L835.8 1321.2L838.7 1322.5L841.6 1323.4L844.4 1324.1L847.3 1324.6L850.1 1324.7L853 1324.6L855.8 1324.1L858.7 1323.4L861.6 1322.5L864.4 1321.2L867.3 1319.7L870.1 1317.9L873 1315.8L875.9 1313.4L878.7 1310.8L881.6 1307.9L884.4 1304.8L887.3 1301.4L890.1 1297.7L893 1293.8L895.9 1289.7L898.7 1285.2L901.6 1280.6L904.4 1275.7L907.3 1270.6L910.2 1265.2L913 1259.7L915.9 1253.9L918.7 1247.9L921.6 1241.7L924.4 1235.3L927.3 1228.7L930.2 1222L933 1215L935.9 1207.9L938.7 1200.6L941.6 1193.2L944.5 1185.6L947.3 1177.9L950.2 1170L953 1162L955.9 1153.9L958.7 1145.7L961.6 1137.3L964.5 1128.9L967.3 1120.4L970.2 1111.8L973 1103.2L975.9 1094.4L978.8 1085.7L981.6 1076.9L984.5 1068L987.3 1059.1L990.2 1050.2L993 1041.3L995.9 1032.4L998.8 1023.6L1001.6 1014.7L1004.5 1005.8L1007.3 997L1010.2 988.2L1013 979.5L1015.9 970.9L1018.8 962.3L1021.6 953.8L1024.5 945.4L1027.3 937L1030.2 928.8L1033.1 920.7L1035.9 912.7L1038.8 904.8L1041.6 897.1L1044.5 889.5L1047.3 882.1L1050.2 874.8L1053.1 867.7L1055.9 860.7L1058.8 854L1061.6 847.4L1064.5 841L1067.4 834.8L1070.2 828.8L1073.1 823L1075.9 817.4L1078.8 812.1L1081.6 807L1084.5 802.1L1087.4 797.4L1090.2 793L1093.1 788.9L1095.9 785L1098.8 781.3L1101.7 777.9L1104.5 774.7L1107.4 771.9L1110.2 769.2L1113.1 766.9L1115.9 764.8L1118.8 763L1121.7 761.5L1124.5 760.2L1127.4 759.2L1130.2 758.5L1133.1 758.1L1136 758L1138.8 758.1L1141.7 758.5L1144.5 759.2L1147.4 760.2L1150.2 761.5L1153.1 763L1156 764.8L1158.8 766.9L1161.7 769.2L1164.5 771.9L1167.4 774.7L1170.2 777.9L1173.1 781.3L1176 785L1178.8 788.9L1181.7 793L1184.5 797.4L1187.4 802.1L1190.3 807L1193.1 812.1L1196 817.4L1198.8 823L1201.7 828.8L1204.5 834.8L1207.4 841L1210.3 847.4L1213.1 854L1216 860.7L1218.8 867.7L1221.7 874.8L1224.6 882.1L1227.4 889.5L1230.3 897.1L1233.1 904.8L1236 912.7L1238.8 920.7L1241.7 928.8L1244.6 937L1247.4 945.4L1250.3 953.8L1253.1 962.3L1256 970.9L1258.9 979.5L1261.7 988.2L1264.6 997L1267.4 1005.8L1270.3 1014.7L1273.1 1023.6L1276 1032.4L1278.9 1041.3L1281.7 1050.2L1284.6 1059.1L1287.4 1068L1290.3 1076.9L1293.1 1085.7L1296 1094.4L1298.9 1103.2L1301.7 1111.8L1304.6 1120.4L1307.4 1128.9L1310.3 1137.3L1313.2 1145.7L1316 1153.9L1318.9 1162L1321.7 1170L1324.6 1177.9L1327.4 1185.6L1330.3 1193.2L1333.2 1200.6L1336 1207.9L1338.9 1215L1341.7 1222L1344.6 1228.7L1347.5 1235.3L1350.3 1241.7L1353.2 1247.9L1356 1253.9L1358.9 1259.7L1361.7 1265.2L1364.6 1270.6L1367.5 1275.7L1370.3 1280.6L1373.2 1285.2L1376 1289.7L1378.9 1293.8L1381.8 1297.7L1384.6 1301.4L1387.5 1304.8L1390.3 1307.9L1393.2 1310.8L1396 1313.4L1398.9 1315.8L1401.8 1317.9L1404.6 1319.7L1407.5 1321.2L1410.3 1322.5L1413.2 1323.4L1416.1 1324.1L1418.9 1324.6L1421.8 1324.7L1424.6 1324.6L1427.5 1324.1L1430.3 1323.4L1433.2 1322.5L1436.1 1321.2L1438.9 1319.7L1441.8 1317.9L1444.6 1315.8L1447.5 1313.4L1450.3 1310.8L1453.2 1307.9L1456.1 1304.8L1458.9 1301.4L1461.8 1297.7L1464.6 1293.8L1467.5 1289.7L1470.4 1285.2L1473.2 1280.6L1476.1 1275.7L1478.9 1270.6L1481.8 1265.2L1484.6 1259.7L1487.5 1253.9L1490.4 1247.9L1493.2 1241.7L1496.1 1235.3L1498.9 1228.7L1501.8 1222L1504.7 1215L1507.5 1207.9L1510.4 1200.6L1513.2 1193.2L1516.1 1185.6L1518.9 1177.9L1521.8 1170L1524.7 1162L1527.5 1153.9L1530.4 1145.7L1533.2 1137.3L1536.1 1128.9L1539 1120.4L1541.8 1111.8L1544.7 1103.2L1547.5 1094.4L1550.4 1085.7L1553.2 1076.9L1556.1 1068L1559 1059.1L1561.8 1050.2L1564.7 1041.3L1567.5 1032.4L1570.4 1023.6L1573.2 1014.7L1576.1 1005.8L1579 997L1581.8 988.2L1584.7 979.5L1587.5 970.9L1590.4 962.3L1593.3 953.8L1596.1 945.4L1599 937L1601.8 928.8L1604.7 920.7L1607.5 912.7L1610.4 904.8L1613.3 897.1L1616.1 889.5L1619 882.1L1621.8 874.8L1624.7 867.7L1627.6 860.7L1630.4 854L1633.3 847.4L1636.1 841L1639 834.8L1641.8 828.8L1644.7 823L1647.6 817.4L1650.4 812.1L1653.3 807L1656.1 802.1L1659 797.4L1661.9 793L1664.7 788.9L1667.6 785L1670.4 781.3L1673.3 777.9L1676.1 774.7L1679 771.9L1681.9 769.2L1684.7 766.9L1687.6 764.8L1690.4 763L1693.3 761.5L1696.2 760.2L1699 759.2L1701.9 758.5L1704.7 758.1L1707.6 758L1710.4 758.1L1713.3 758.5L1716.2 759.2L1719 760.2L1721.9 761.5L1724.7 763L1727.6 764.8L1730.4 766.9L1733.3 769.2L1736.2 771.9L1739 774.7L1741.9 777.9L1744.7 781.3L1747.6 785L1750.5 788.9L1753.3 793L1756.2 797.4L1759 802.1L1761.9 807L1764.7 812.1L1767.6 817.4L1770.5 823L1773.3 828.8L1776.2 834.8L1779 841L1781.9 847.4L1784.8 854L1787.6 860.7L1790.5 867.7L1793.3 874.8L1796.2 882.1L1799 889.5L1801.9 897.1L1804.8 904.8L1807.6 912.7L1810.5 920.7L1813.3 928.8L1816.2 937L1819.1 945.4L1821.9 953.8L1824.8 962.3L1827.6 970.9L1830.5 979.5L1833.3 988.2L1836.2 997L1839.1 1005.8L1841.9 1014.7L1844.8 1023.6L1847.6 1032.4L1850.5 1041.3L1853.3 1050.2L1856.2 1059.1L1859.1 1068L1861.9 1076.9L1864.8 1085.7L1867.6 1094.4L1870.5 1103.2L1873.4 1111.8L1876.2 1120.4L1879.1 1128.9L1881.9 1137.3L1884.8 1145.7L1887.6 1153.9L1890.5 1162L1893.4 1170L1896.2 1177.9L1899.1 1185.6L1901.9 1193.2L1904.8 1200.6L1907.7 1207.9L1910.5 1215L1913.4 1222L1916.2 1228.7L1919.1 1235.3L1921.9 1241.7L1924.8 1247.9L1927.7 1253.9L1930.5 1259.7L1933.4 1265.2L1936.2 1270.6L1939.1 1275.7L1942 1280.6L1944.8 1285.2L1947.7 1289.7L1950.5 1293.8L1953.4 1297.7L1956.2 1301.4L1959.1 1304.8L1962 1307.9L1964.8 1310.8L1967.7 1313.4L1970.5 1315.8L1973.4 1317.9L1976.3 1319.7L1979.1 1321.2L1982 1322.5L1984.8 1323.4L1987.7 1324.1L1990.5 1324.6L1993.4 1324.7" stroke="#ff0000" stroke-width="5.5" stroke-dasharray="3.6 5.4" fill="none" stroke-linejoin="round"/>
<defs><linearGradient id="cg" x1="0" y1="0" x2="0" y2="1"><stop offset="0" stop-color="#fff"/><stop offset="0.12" stop-color="#e8e8e8"/><stop offset="1" stop-color="#0a0a0a"/></linearGradient></defs>
<path d="M533 1640L893 1640L829 2082L640 2076Z" fill="url(#cg)"/>
<ellipse cx="706.1" cy="1567.9" rx="194.7" ry="187.5" fill="#fff"/>
<ellipse cx="732.1" cy="2114.4" rx="96.5" ry="89.7" fill="#fff"/>
<path d="M405 1673h42v42h-42zM547.9 1837.3h42v42h-42zM690.7 2080.7h42v42h-42zM833.6 2010h42v42h-42zM976.5 1694.5h42v42h-42zM1119.3 1858.7h42v42h-42zM1262.2 2097.7h42v42h-42zM1405.1 2027.2h42v42h-42zM1548 1707.3h42v42h-42zM1690.8 1872h42v42h-42zM1833.7 2112.4h42v42h-42zM1976.6 2040.3h42v42h-42z" stroke="#222" stroke-width="3.4" fill="#fff"/>
<path d="M1012.5 1840.5h3v3h-3zM1015.5 1840.5h3v3h-3zM1021.5 1834.5h3v3h-3zM1021.5 1840.5h3v3h-3zM1024.5 1834.5h3v3h-3zM1024.5 1840.5h3v3h-3zM1027.5 1837.5h3v3h-3zM1027.5 1840.5h3v3h-3zM1030.5 1834.5h3v3h-3zM1030.5 1837.5h3v3h-3zM1039.5 1840.5h3v3h-3zM1039.5 1846.5h3v3h-3zM1042.5 1840.5h3v3h-3zM1045.5 1843.5h3v3h-3zM1045.5 1846.5h3v3h-3zM1054.5 1855.5h3v3h-3zM1060.5 1858.5h3v3h-3zM1072.5 1867.5h3v3h-3zM1075.5 1870.5h3v3h-3zM1090.5 1891.5h3v3h-3zM1096.5 1894.5h3v3h-3zM1102.5 1903.5h3v3h-3zM1108.5 1912.5h3v3h-3zM1111.5 1915.5h3v3h-3zM1123.5 1942.5h3v3h-3zM1126.5 1945.5h3v3h-3zM1126.5 1948.5h3v3h-3zM1129.5 1954.5h3v3h-3zM1132.5 1957.5h3v3h-3zM1147.5 1990.5h3v3h-3zM1225.5 2116.5h3v3h-3zM1225.5 2119.5h3v3h-3zM1225.5 2122.5h3v3h-3zM1228.5 2113.5h3v3h-3zM1228.5 2116.5h3v3h-3zM1228.5 2119.5h3v3h-3zM1228.5 2122.5h3v3h-3zM1231.5 2113.5h3v3h-3zM1231.5 2116.5h3v3h-3zM1231.5 2119.5h3v3h-3zM1231.5 2122.5h3v3h-3zM1231.5 2125.5h3v3h-3zM1231.5 2128.5h3v3h-3zM1234.5 2119.5h3v3h-3zM1234.5 2122.5h3v3h-3zM1234.5 2125.5h3v3h-3zM1234.5 2128.5h3v3h-3zM1237.5 2116.5h3v3h-3zM1237.5 2119.5h3v3h-3zM1237.5 2122.5h3v3h-3zM1237.5 2125.5h3v3h-3zM1237.5 2128.5h3v3h-3zM1237.5 2131.5h3v3h-3zM1237.5 2137.5h3v3h-3zM1240.5 2116.5h3v3h-3zM1240.5 2119.5h3v3h-3zM1240.5 2122.5h3v3h-3zM1240.5 2125.5h3v3h-3zM1240.5 2128.5h3v3h-3zM1240.5 2131.5h3v3h-3zM1243.5 2116.5h3v3h-3zM1243.5 2119.5h3v3h-3zM1243.5 2122.5h3v3h-3zM1243.5 2125.5h3v3h-3zM1243.5 2128.5h3v3h-3zM1243.5 2131.5h3v3h-3zM1243.5 2134.5h3v3h-3zM1243.5 2137.5h3v3h-3zM1243.5 2140.5h3v3h-3zM1246.5 2116.5h3v3h-3zM1246.5 2119.5h3v3h-3zM1246.5 2122.5h3v3h-3zM1246.5 2125.5h3v3h-3zM1246.5 2128.5h3v3h-3zM1246.5 2131.5h3v3h-3zM1246.5 2134.5h3v3h-3zM1246.5 2137.5h3v3h-3zM1246.5 2140.5h3v3h-3zM1249.5 2116.5h3v3h-3zM1249.5 2122.5h3v3h-3zM1249.5 2125.5h3v3h-3zM1249.5 2128.5h3v3h-3zM1249.5 2131.5h3v3h-3zM1249.5 2134.5h3v3h-3zM1249.5 2137.5h3v3h-3zM1249.5 2140.5h3v3h-3zM1249.5 2143.5h3v3h-3zM1252.5 2116.5h3v3h-3zM1252.5 2122.5h3v3h-3zM1252.5 2128.5h3v3h-3zM1252.5 2131.5h3v3h-3zM1252.5 2134.5h3v3h-3zM1252.5 2137.5h3v3h-3zM1252.5 2140.5h3v3h-3zM1252.5 2146.5h3v3h-3zM1255.5 2113.5h3v3h-3zM1255.5 2119.5h3v3h-3zM1255.5 2122.5h3v3h-3zM1255.5 2125.5h3v3h-3zM1255.5 2131.5h3v3h-3zM1255.5 2137.5h3v3h-3zM1255.5 2143.5h3v3h-3zM1255.5 2146.5h3v3h-3zM1255.5 2149.5h3v3h-3zM1258.5 2116.5h3v3h-3zM1258.5 2119.5h3v3h-3zM1258.5 2122.5h3v3h-3zM1258.5 2125.5h3v3h-3zM1258.5 2128.5h3v3h-3zM1258.5 2131.5h3v3h-3zM1258.5 2134.5h3v3h-3zM1258.5 2137.5h3v3h-3zM1258.5 2140.5h3v3h-3zM1258.5 2143.5h3v3h-3zM1258.5 2146.5h3v3h-3zM1258.5 2149.5h3v3h-3zM1261.5 2119.5h3v3h-3zM1261.5 2122.5h3v3h-3zM1261.5 2125.5h3v3h-3zM1261.5 2128.5h3v3h-3zM1261.5 2131.5h3v3h-3zM1261.5 2134.5h3v3h-3zM1261.5 2137.5h3v3h-3zM1261.5 2140.5h3v3h-3zM1261.5 2143.5h3v3h-3zM1261.5 2146.5h3v3h-3zM1261.5 2149.5h3v3h-3zM1261.5 2152.5h3v3h-3zM1261.5 2155.5h3v3h-3zM1264.5 2122.5h3v3h-3zM1264.5 2125.5h3v3h-3zM1264.5 2128.5h3v3h-3zM1264.5 2131.5h3v3h-3zM1264.5 2134.5h3v3h-3zM1264.5 2137.5h3v3h-3zM1264.5 2140.5h3v3h-3zM1264.5 2143.5h3v3h-3zM1264.5 2146.5h3v3h-3zM1264.5 2149.5h3v3h-3zM1264.5 2152.5h3v3h-3zM1267.5 2119.5h3v3h-3zM1267.5 2122.5h3v3h-3zM1267.5 2128.5h3v3h-3zM1267.5 2131.5h3v3h-3zM1267.5 2137.5h3v3h-3zM1267.5 2140.5h3v3h-3zM1267.5 2143.5h3v3h-3zM1267.5 2146.5h3v3h-3zM1267.5 2149.5h3v3h-3zM1267.5 2155.5h3v3h-3zM1270.5 2116.5h3v3h-3zM1270.5 2119.5h3v3h-3zM1270.5 2122.5h3v3h-3zM1270.5 2125.5h3v3h-3zM1270.5 2128.5h3v3h-3zM1270.5 2131.5h3v3h-3zM1270.5 2134.5h3v3h-3zM1270.5 2137.5h3v3h-3zM1270.5 2140.5h3v3h-3zM1270.5 2143.5h3v3h-3zM1270.5 2146.5h3v3h-3zM1270.5 2155.5h3v3h-3zM1270.5 2158.5h3v3h-3zM1273.5 2113.5h3v3h-3zM1273.5 2119.5h3v3h-3zM1273.5 2125.5h3v3h-3zM1273.5 2128.5h3v3h-3zM1273.5 2134.5h3v3h-3zM1273.5 2137.5h3v3h-3zM1273.5 2140.5h3v3h-3zM1273.5 2143.5h3v3h-3zM1273.5 2146.5h3v3h-3zM1273.5 2149.5h3v3h-3zM1273.5 2152.5h3v3h-3zM1273.5 2158.5h3v3h-3zM1273.5 2161.5h3v3h-3zM1273.5 2164.5h3v3h-3zM1276.5 2116.5h3v3h-3zM1276.5 2122.5h3v3h-3zM1276.5 2125.5h3v3h-3zM1276.5 2128.5h3v3h-3zM1276.5 2131.5h3v3h-3zM1276.5 2134.5h3v3h-3zM1276.5 2137.5h3v3h-3zM1276.5 2140.5h3v3h-3zM1276.5 2143.5h3v3h-3zM1276.5 2146.5h3v3h-3zM1276.5 2149.5h3v3h-3zM1276.5 2152.5h3v3h-3zM1276.5 2155.5h3v3h-3zM1276.5 2158.5h3v3h-3zM1276.5 2161.5h3v3h-3zM1279.5 2116.5h3v3h-3zM1279.5 2122.5h3v3h-3zM1279.5 2125.5h3v3h-3zM1279.5 2128.5h3v3h-3zM1279.5 2131.5h3v3h-3zM1279.5 2134.5h3v3h-3zM1279.5 2140.5h3v3h-3zM1279.5 2146.5h3v3h-3zM1279.5 2149.5h3v3h-3zM1279.5 2152.5h3v3h-3zM1279.5 2155.5h3v3h-3zM1279.5 2158.5h3v3h-3zM1279.5 2161.5h3v3h-3zM1279.5 2164.5h3v3h-3zM1282.5 2116.5h3v3h-3zM1282.5 2119.5h3v3h-3zM1282.5 2122.5h3v3h-3zM1282.5 2125.5h3v3h-3zM1282.5 2128.5h3v3h-3zM1282.5 2131.5h3v3h-3zM1282.5 2134.5h3v3h-3zM1282.5 2137.5h3v3h-3zM1282.5 2140.5h3v3h-3zM1282.5 2143.5h3v3h-3zM1282.5 2146.5h3v3h-3zM1282.5 2152.5h3v3h-3zM1282.5 2155.5h3v3h-3zM1282.5 2158.5h3v3h-3zM1282.5 2161.5h3v3h-3zM1285.5 2119.5h3v3h-3zM1285.5 2128.5h3v3h-3zM1285.5 2134.5h3v3h-3zM1285.5 2137.5h3v3h-3zM1285.5 2140.5h3v3h-3zM1285.5 2143.5h3v3h-3zM1285.5 2146.5h3v3h-3zM1285.5 2149.5h3v3h-3zM1285.5 2152.5h3v3h-3zM1285.5 2155.5h3v3h-3zM1285.5 2158.5h3v3h-3zM1285.5 2161.5h3v3h-3zM1285.5 2164.5h3v3h-3zM1288.5 2116.5h3v3h-3zM1288.5 2122.5h3v3h-3zM1288.5 2125.5h3v3h-3zM1288.5 2128.5h3v3h-3zM1288.5 2131.5h3v3h-3zM1288.5 2134.5h3v3h-3zM1288.5 2137.5h3v3h-3zM1288.5 2140.5h3v3h-3zM1288.5 2143.5h3v3h-3zM1288.5 2146.5h3v3h-3zM1288.5 2149.5h3v3h-3zM1288.5 2152.5h3v3h-3zM1288.5 2155.5h3v3h-3zM1288.5 2158.5h3v3h-3zM1288.5 2161.5h3v3h-3zM1288.5 2164.5h3v3h-3zM1291.5 2119.5h3v3h-3zM1291.5 2122.5h3v3h-3zM1291.5 2125.5h3v3h-3zM1291.5 2128.5h3v3h-3zM1291.5 2131.5h3v3h-3zM1291.5 2134.5h3v3h-3zM1291.5 2137.5h3v3h-3zM1291.5 2143.5h3v3h-3zM1291.5 2146.5h3v3h-3zM1291.5 2149.5h3v3h-3zM1291.5 2152.5h3v3h-3zM1291.5 2158.5h3v3h-3zM1291.5 2161.5h3v3h-3zM1291.5 2164.5h3v3h-3zM1291.5 2167.5h3v3h-3zM1291.5 2170.5h3v3h-3zM1294.5 2116.5h3v3h-3zM1294.5 2119.5h3v3h-3zM1294.5 2122.5h3v3h-3zM1294.5 2125.5h3v3h-3zM1294.5 2128.5h3v3h-3zM1294.5 2131.5h3v3h-3zM1294.5 2134.5h3v3h-3zM1294.5 2140.5h3v3h-3zM1294.5 2143.5h3v3h-3zM1294.5 2146.5h3v3h-3zM1294.5 2149.5h3v3h-3zM1294.5 2152.5h3v3h-3zM1294.5 2158.5h3v3h-3zM1294.5 2164.5h3v3h-3zM1297.5 2119.5h3v3h-3zM1297.5 2125.5h3v3h-3zM1297.5 2128.5h3v3h-3zM1297.5 2131.5h3v3h-3zM1297.5 2134.5h3v3h-3zM1297.5 2137.5h3v3h-3zM1297.5 2140.5h3v3h-3zM1297.5 2143.5h3v3h-3zM1297.5 2149.5h3v3h-3zM1297.5 2152.5h3v3h-3zM1297.5 2155.5h3v3h-3zM1297.5 2161.5h3v3h-3zM1297.5 2164.5h3v3h-3zM1297.5 2167.5h3v3h-3zM1297.5 2170.5h3v3h-3zM1300.5 2122.5h3v3h-3zM1300.5 2125.5h3v3h-3zM1300.5 2128.5h3v3h-3zM1300.5 2131.5h3v3h-3zM1300.5 2134.5h3v3h-3zM1300.5 2137.5h3v3h-3zM1300.5 2140.5h3v3h-3zM1300.5 2143.5h3v3h-3zM1300.5 2146.5h3v3h-3zM1300.5 2152.5h3v3h-3zM1300.5 2155.5h3v3h-3zM1300.5 2158.5h3v3h-3zM1300.5 2161.5h3v3h-3zM1300.5 2164.5h3v3h-3zM1300.5 2167.5h3v3h-3zM1300.5 2170.5h3v3h-3zM1300.5 2173.5h3v3h-3zM1300.5 2176.5h3v3h-3zM1303.5 2119.5h3v3h-3zM1303.5 2122.5h3v3h-3zM1303.5 2125.5h3v3h-3zM1303.5 2128.5h3v3h-3zM1303.5 2131.5h3v3h-3zM1303.5 2134.5h3v3h-3zM1303.5 2137.5h3v3h-3zM1303.5 2140.5h3v3h-3zM1303.5 2143.5h3v3h-3zM1303.5 2146.5h3v3h-3zM1303.5 2158.5h3v3h-3zM1303.5 2161.5h3v3h-3zM1303.5 2167.5h3v3h-3zM1303.5 2170.5h3v3h-3zM1306.5 2122.5h3v3h-3zM1306.5 2125.5h3v3h-3zM1306.5 2128.5h3v3h-3zM1306.5 2131.5h3v3h-3zM1306.5 2140.5h3v3h-3zM1306.5 2143.5h3v3h-3zM1306.5 2149.5h3v3h-3zM1306.5 2152.5h3v3h-3zM1306.5 2155.5h3v3h-3zM1306.5 2158.5h3v3h-3zM1306.5 2161.5h3v3h-3zM1306.5 2164.5h3v3h-3zM1306.5 2170.5h3v3h-3zM1309.5 2119.5h3v3h-3zM1309.5 2122.5h3v3h-3zM1309.5 2125.5h3v3h-3zM1309.5 2128.5h3v3h-3zM1309.5 2131.5h3v3h-3zM1309.5 2134.5h3v3h-3zM1309.5 2137.5h3v3h-3zM1309.5 2143.5h3v3h-3zM1309.5 2152.5h3v3h-3zM1309.5 2155.5h3v3h-3zM1309.5 2164.5h3v3h-3zM1309.5 2167.5h3v3h-3zM1309.5 2173.5h3v3h-3zM1312.5 2119.5h3v3h-3zM1312.5 2122.5h3v3h-3zM1312.5 2128.5h3v3h-3zM1312.5 2131.5h3v3h-3zM1312.5 2140.5h3v3h-3zM1312.5 2146.5h3v3h-3zM1312.5 2149.5h3v3h-3zM1312.5 2152.5h3v3h-3zM1312.5 2155.5h3v3h-3zM1312.5 2158.5h3v3h-3zM1312.5 2161.5h3v3h-3zM1312.5 2164.5h3v3h-3zM1312.5 2167.5h3v3h-3zM1312.5 2170.5h3v3h-3zM1315.5 2116.5h3v3h-3zM1315.5 2122.5h3v3h-3zM1315.5 2125.5h3v3h-3zM1315.5 2128.5h3v3h-3zM1315.5 2131.5h3v3h-3zM1315.5 2137.5h3v3h-3zM1315.5 2143.5h3v3h-3zM1315.5 2146.5h3v3h-3zM1315.5 2149.5h3v3h-3zM1315.5 2152.5h3v3h-3zM1315.5 2158.5h3v3h-3zM1315.5 2161.5h3v3h-3zM1315.5 2164.5h3v3h-3zM1315.5 2173.5h3v3h-3zM1318.5 2122.5h3v3h-3zM1318.5 2125.5h3v3h-3zM1318.5 2128.5h3v3h-3zM1318.5 2134.5h3v3h-3zM1318.5 2137.5h3v3h-3zM1318.5 2140.5h3v3h-3zM1318.5 2146.5h3v3h-3zM1318.5 2149.5h3v3h-3zM1318.5 2152.5h3v3h-3zM1318.5 2155.5h3v3h-3zM1318.5 2158.5h3v3h-3zM1318.5 2161.5h3v3h-3zM1318.5 2167.5h3v3h-3zM1321.5 2119.5h3v3h-3zM1321.5 2122.5h3v3h-3zM1321.5 2128.5h3v3h-3zM1321.5 2131.5h3v3h-3zM1321.5 2134.5h3v3h-3zM1321.5 2137.5h3v3h-3zM1321.5 2140.5h3v3h-3zM1321.5 2143.5h3v3h-3zM1321.5 2146.5h3v3h-3zM1321.5 2149.5h3v3h-3zM1321.5 2152.5h3v3h-3zM1321.5 2155.5h3v3h-3zM1321.5 2158.5h3v3h-3zM1321.5 2161.5h3v3h-3zM1321.5 2164.5h3v3h-3zM1321.5 2170.5h3v3h-3zM1324.5 2119.5h3v3h-3zM1324.5 2122.5h3v3h-3zM1324.5 2128.5h3v3h-3zM1324.5 2131.5h3v3h-3zM1324.5 2134.5h3v3h-3zM1324.5 2140.5h3v3h-3zM1324.5 2143.5h3v3h-3zM1324.5 2149.5h3v3h-3zM1324.5 2152.5h3v3h-3zM1324.5 2158.5h3v3h-3zM1324.5 2161.5h3v3h-3zM1324.5 2164.5h3v3h-3zM1324.5 2170.5h3v3h-3zM1327.5 2113.5h3v3h-3zM1327.5 2122.5h3v3h-3zM1327.5 2125.5h3v3h-3zM1327.5 2128.5h3v3h-3zM1327.5 2131.5h3v3h-3zM1327.5 2134.5h3v3h-3zM1327.5 2137.5h3v3h-3zM1327.5 2140.5h3v3h-3zM1327.5 2143.5h3v3h-3zM1327.5 2146.5h3v3h-3zM1327.5 2149.5h3v3h-3zM1327.5 2152.5h3v3h-3zM1327.5 2158.5h3v3h-3zM1327.5 2161.5h3v3h-3zM1327.5 2164.5h3v3h-3zM1327.5 2167.5h3v3h-3zM1327.5 2170.5h3v3h-3zM1330.5 2113.5h3v3h-3zM1330.5 2119.5h3v3h-3zM1330.5 2122.5h3v3h-3zM1330.5 2125.5h3v3h-3zM1330.5 2128.5h3v3h-3zM1330.5 2131.5h3v3h-3zM1330.5 2134.5h3v3h-3zM1330.5 2137.5h3v3h-3zM1330.5 2140.5h3v3h-3zM1330.5 2143.5h3v3h-3zM1330.5 2149.5h3v3h-3zM1330.5 2155.5h3v3h-3zM1330.5 2158.5h3v3h-3zM1330.5 2161.5h3v3h-3zM1330.5 2164.5h3v3h-3zM1330.5 2170.5h3v3h-3zM1333.5 2119.5h3v3h-3zM1333.5 2125.5h3v3h-3zM1333.5 2128.5h3v3h-3zM1333.5 2131.5h3v3h-3zM1333.5 2134.5h3v3h-3zM1333.5 2140.5h3v3h-3zM1333.5 2143.5h3v3h-3zM1333.5 2146.5h3v3h-3zM1333.5 2149.5h3v3h-3zM1333.5 2152.5h3v3h-3zM1333.5 2155.5h3v3h-3zM1333.5 2158.5h3v3h-3zM1333.5 2161.5h3v3h-3zM1336.5 2113.5h3v3h-3zM1336.5 2119.5h3v3h-3zM1336.5 2122.5h3v3h-3zM1336.5 2128.5h3v3h-3zM1336.5 2131.5h3v3h-3zM1336.5 2140.5h3v3h-3zM1336.5 2143.5h3v3h-3zM1336.5 2149.5h3v3h-3zM1336.5 2158.5h3v3h-3zM1339.5 2119.5h3v3h-3zM1339.5 2125.5h3v3h-3zM1339.5 2128.5h3v3h-3zM1339.5 2131.5h3v3h-3zM1339.5 2134.5h3v3h-3zM1339.5 2137.5h3v3h-3zM1339.5 2140.5h3v3h-3zM1339.5 2143.5h3v3h-3zM1339.5 2146.5h3v3h-3zM1339.5 2149.5h3v3h-3zM1339.5 2152.5h3v3h-3zM1339.5 2155.5h3v3h-3zM1339.5 2158.5h3v3h-3zM1339.5 2164.5h3v3h-3zM1342.5 2116.5h3v3h-3zM1342.5 2122.5h3v3h-3zM1342.5 2125.5h3v3h-3zM1342.5 2128.5h3v3h-3zM1342.5 2131.5h3v3h-3zM1342.5 2134.5h3v3h-3zM1342.5 2140.5h3v3h-3zM1342.5 2143.5h3v3h-3zM1342.5 2146.5h3v3h-3zM1342.5 2149.5h3v3h-3zM1342.5 2158.5h3v3h-3zM1345.5 2119.5h3v3h-3zM1345.5 2122.5h3v3h-3zM1345.5 2125.5h3v3h-3zM1345.5 2128.5h3v3h-3zM1345.5 2131.5h3v3h-3zM1345.5 2134.5h3v3h-3zM1345.5 2137.5h3v3h-3zM1345.5 2140.5h3v3h-3zM1345.5 2143.5h3v3h-3zM1345.5 2146.5h3v3h-3zM1345.5 2149.5h3v3h-3zM1345.5 2152.5h3v3h-3zM1345.5 2155.5h3v3h-3zM1345.5 2158.5h3v3h-3zM1345.5 2161.5h3v3h-3zM1348.5 2116.5h3v3h-3zM1348.5 2119.5h3v3h-3zM1348.5 2122.5h3v3h-3zM1348.5 2125.5h3v3h-3zM1348.5 2128.5h3v3h-3zM1348.5 2131.5h3v3h-3zM1348.5 2134.5h3v3h-3zM1348.5 2137.5h3v3h-3zM1348.5 2146.5h3v3h-3zM1348.5 2149.5h3v3h-3zM1348.5 2152.5h3v3h-3zM1348.5 2158.5h3v3h-3zM1348.5 2161.5h3v3h-3zM1351.5 2122.5h3v3h-3zM1351.5 2125.5h3v3h-3zM1351.5 2128.5h3v3h-3zM1351.5 2131.5h3v3h-3zM1351.5 2134.5h3v3h-3zM1351.5 2137.5h3v3h-3zM1351.5 2140.5h3v3h-3zM1351.5 2143.5h3v3h-3zM1351.5 2146.5h3v3h-3zM1351.5 2149.5h3v3h-3zM1351.5 2152.5h3v3h-3zM1351.5 2155.5h3v3h-3zM1354.5 2116.5h3v3h-3zM1354.5 2122.5h3v3h-3zM1354.5 2128.5h3v3h-3zM1354.5 2131.5h3v3h-3zM1354.5 2134.5h3v3h-3zM1354.5 2137.5h3v3h-3zM1354.5 2140.5h3v3h-3zM1354.5 2143.5h3v3h-3zM1354.5 2146.5h3v3h-3zM1354.5 2149.5h3v3h-3zM1354.5 2155.5h3v3h-3zM1357.5 2119.5h3v3h-3zM1357.5 2122.5h3v3h-3zM1357.5 2128.5h3v3h-3zM1357.5 2131.5h3v3h-3zM1357.5 2134.5h3v3h-3zM1357.5 2137.5h3v3h-3zM1357.5 2140.5h3v3h-3zM1357.5 2143.5h3v3h-3zM1357.5 2146.5h3v3h-3zM1357.5 2149.5h3v3h-3zM1357.5 2155.5h3v3h-3zM1360.5 2116.5h3v3h-3zM1360.5 2119.5h3v3h-3zM1360.5 2122.5h3v3h-3zM1360.5 2125.5h3v3h-3zM1360.5 2128.5h3v3h-3zM1360.5 2131.5h3v3h-3zM1360.5 2134.5h3v3h-3zM1360.5 2137.5h3v3h-3zM1360.5 2140.5h3v3h-3zM1360.5 2143.5h3v3h-3zM1360.5 2146.5h3v3h-3zM1360.5 2149.5h3v3h-3zM1363.5 2113.5h3v3h-3zM1363.5 2119.5h3v3h-3zM1363.5 2122.5h3v3h-3zM1363.5 2125.5h3v3h-3zM1363.5 2128.5h3v3h-3zM1363.5 2131.5h3v3h-3zM1363.5 2134.5h3v3h-3zM1363.5 2137.5h3v3h-3zM1363.5 2140.5h3v3h-3zM1363.5 2143.5h3v3h-3zM1363.5 2146.5h3v3h-3zM1366.5 2122.5h3v3h-3zM1366.5 2125.5h3v3h-3zM1366.5 2128.5h3v3h-3zM1366.5 2131.5h3v3h-3zM1366.5 2134.5h3v3h-3zM1366.5 2137.5h3v3h-3zM1366.5 2140.5h3v3h-3zM1366.5 2143.5h3v3h-3zM1366.5 2146.5h3v3h-3zM1366.5 2149.5h3v3h-3zM1369.5 2116.5h3v3h-3zM1369.5 2119.5h3v3h-3zM1369.5 2122.5h3v3h-3zM1369.5 2125.5h3v3h-3zM1369.5 2128.5h3v3h-3zM1369.5 2131.5h3v3h-3zM1369.5 2134.5h3v3h-3zM1369.5 2137.5h3v3h-3zM1369.5 2140.5h3v3h-3zM1372.5 2116.5h3v3h-3zM1372.5 2119.5h3v3h-3zM1372.5 2122.5h3v3h-3zM1372.5 2125.5h3v3h-3zM1372.5 2128.5h3v3h-3zM1372.5 2131.5h3v3h-3zM1372.5 2134.5h3v3h-3zM1372.5 2137.5h3v3h-3zM1372.5 2140.5h3v3h-3zM1372.5 2143.5h3v3h-3zM1375.5 2119.5h3v3h-3zM1375.5 2125.5h3v3h-3zM1375.5 2128.5h3v3h-3zM1375.5 2131.5h3v3h-3zM1375.5 2134.5h3v3h-3zM1375.5 2137.5h3v3h-3zM1375.5 2140.5h3v3h-3zM1378.5 2116.5h3v3h-3zM1378.5 2119.5h3v3h-3zM1378.5 2122.5h3v3h-3zM1378.5 2125.5h3v3h-3zM1378.5 2128.5h3v3h-3zM1378.5 2131.5h3v3h-3zM1378.5 2137.5h3v3h-3zM1381.5 2119.5h3v3h-3zM1381.5 2122.5h3v3h-3zM1381.5 2125.5h3v3h-3zM1381.5 2128.5h3v3h-3zM1381.5 2131.5h3v3h-3zM1381.5 2134.5h3v3h-3zM1384.5 2116.5h3v3h-3zM1384.5 2119.5h3v3h-3zM1384.5 2122.5h3v3h-3zM1384.5 2125.5h3v3h-3zM1384.5 2128.5h3v3h-3zM1384.5 2131.5h3v3h-3zM1384.5 2134.5h3v3h-3zM1387.5 2116.5h3v3h-3zM1387.5 2119.5h3v3h-3zM1387.5 2122.5h3v3h-3zM1387.5 2125.5h3v3h-3zM1387.5 2128.5h3v3h-3zM1387.5 2131.5h3v3h-3zM1390.5 2113.5h3v3h-3zM1390.5 2116.5h3v3h-3zM1390.5 2119.5h3v3h-3zM1390.5 2122.5h3v3h-3zM1390.5 2125.5h3v3h-3zM1390.5 2128.5h3v3h-3zM1393.5 2113.5h3v3h-3zM1393.5 2116.5h3v3h-3zM1393.5 2119.5h3v3h-3zM1393.5 2122.5h3v3h-3zM1393.5 2125.5h3v3h-3zM1393.5 2128.5h3v3h-3zM1396.5 2116.5h3v3h-3zM1396.5 2119.5h3v3h-3zM1396.5 2122.5h3v3h-3zM1396.5 2125.5h3v3h-3zM1399.5 2113.5h3v3h-3zM1399.5 2116.5h3v3h-3zM1399.5 2119.5h3v3h-3zM1399.5 2122.5h3v3h-3zM1402.5 2116.5h3v3h-3zM1402.5 2119.5h3v3h-3zM1405.5 2095.5h3v3h-3zM1405.5 2098.5h3v3h-3zM1408.5 2092.5h3v3h-3zM1408.5 2095.5h3v3h-3zM1411.5 2083.5h3v3h-3zM1411.5 2086.5h3v3h-3zM1417.5 2074.5h3v3h-3zM1420.5 2059.5h3v3h-3zM1423.5 2056.5h3v3h-3zM1423.5 2059.5h3v3h-3zM1423.5 2062.5h3v3h-3zM1429.5 2035.5h3v3h-3zM1429.5 2038.5h3v3h-3zM1435.5 2017.5h3v3h-3zM1438.5 2005.5h3v3h-3zM1438.5 2011.5h3v3h-3zM1441.5 2002.5h3v3h-3zM1447.5 1984.5h3v3h-3zM1450.5 1966.5h3v3h-3zM1450.5 1969.5h3v3h-3zM1453.5 1960.5h3v3h-3zM1456.5 1954.5h3v3h-3zM1459.5 1939.5h3v3h-3zM1459.5 1945.5h3v3h-3zM1462.5 1927.5h3v3h-3zM1462.5 1930.5h3v3h-3zM1471.5 1903.5h3v3h-3zM1471.5 1906.5h3v3h-3zM1474.5 1897.5h3v3h-3zM1480.5 1870.5h3v3h-3zM1480.5 1876.5h3v3h-3zM1480.5 1879.5h3v3h-3zM1483.5 1864.5h3v3h-3zM1483.5 1870.5h3v3h-3zM1486.5 1861.5h3v3h-3zM1486.5 1864.5h3v3h-3zM1489.5 1852.5h3v3h-3zM1495.5 1837.5h3v3h-3zM1495.5 1840.5h3v3h-3zM1528.5 1882.5h3v3h-3zM1531.5 1885.5h3v3h-3zM1534.5 1876.5h3v3h-3zM1540.5 1870.5h3v3h-3zM1543.5 1867.5h3v3h-3zM1546.5 1864.5h3v3h-3zM1549.5 1861.5h3v3h-3zM1549.5 1867.5h3v3h-3zM1555.5 1855.5h3v3h-3zM1558.5 1852.5h3v3h-3zM1558.5 1858.5h3v3h-3zM1561.5 1849.5h3v3h-3zM1561.5 1852.5h3v3h-3zM1561.5 1855.5h3v3h-3zM1561.5 1858.5h3v3h-3zM1561.5 1861.5h3v3h-3zM1564.5 1846.5h3v3h-3zM1564.5 1849.5h3v3h-3zM1564.5 1855.5h3v3h-3zM1564.5 1858.5h3v3h-3zM1567.5 1843.5h3v3h-3zM1567.5 1846.5h3v3h-3zM1567.5 1849.5h3v3h-3zM1567.5 1852.5h3v3h-3zM1570.5 1846.5h3v3h-3zM1570.5 1849.5h3v3h-3zM1570.5 1852.5h3v3h-3zM1573.5 1843.5h3v3h-3zM1573.5 1846.5h3v3h-3zM1573.5 1852.5h3v3h-3zM1573.5 1855.5h3v3h-3zM1576.5 1840.5h3v3h-3zM1576.5 1843.5h3v3h-3zM1576.5 1846.5h3v3h-3zM1576.5 1849.5h3v3h-3zM1579.5 1840.5h3v3h-3zM1579.5 1846.5h3v3h-3zM1579.5 1849.5h3v3h-3zM1582.5 1837.5h3v3h-3zM1582.5 1840.5h3v3h-3zM1582.5 1849.5h3v3h-3zM1585.5 1837.5h3v3h-3zM1585.5 1843.5h3v3h-3zM1585.5 1846.5h3v3h-3zM1585.5 1849.5h3v3h-3zM1588.5 1834.5h3v3h-3zM1588.5 1837.5h3v3h-3zM1588.5 1840.5h3v3h-3zM1588.5 1843.5h3v3h-3zM1588.5 1846.5h3v3h-3zM1588.5 1849.5h3v3h-3zM1591.5 1837.5h3v3h-3zM1591.5 1846.5h3v3h-3zM1594.5 1843.5h3v3h-3zM1597.5 1834.5h3v3h-3zM1597.5 1837.5h3v3h-3zM1597.5 1840.5h3v3h-3zM1597.5 1843.5h3v3h-3zM1600.5 1834.5h3v3h-3zM1600.5 1837.5h3v3h-3zM1600.5 1840.5h3v3h-3zM1600.5 1843.5h3v3h-3zM1600.5 1846.5h3v3h-3zM1603.5 1846.5h3v3h-3zM1606.5 1837.5h3v3h-3zM1606.5 1840.5h3v3h-3zM1606.5 1843.5h3v3h-3zM1606.5 1846.5h3v3h-3zM1609.5 1846.5h3v3h-3zM1609.5 1849.5h3v3h-3zM1612.5 1843.5h3v3h-3zM1612.5 1852.5h3v3h-3zM1615.5 1846.5h3v3h-3zM1615.5 1849.5h3v3h-3zM1618.5 1843.5h3v3h-3zM1618.5 1846.5h3v3h-3zM1618.5 1849.5h3v3h-3zM1621.5 1843.5h3v3h-3zM1621.5 1846.5h3v3h-3zM1624.5 1846.5h3v3h-3zM1624.5 1852.5h3v3h-3zM1624.5 1855.5h3v3h-3zM1627.5 1852.5h3v3h-3zM1627.5 1855.5h3v3h-3zM1627.5 1858.5h3v3h-3zM1630.5 1849.5h3v3h-3zM1630.5 1852.5h3v3h-3zM1630.5 1855.5h3v3h-3zM1630.5 1858.5h3v3h-3zM1630.5 1861.5h3v3h-3zM1630.5 1864.5h3v3h-3zM1633.5 1855.5h3v3h-3zM1633.5 1858.5h3v3h-3zM1633.5 1861.5h3v3h-3zM1633.5 1864.5h3v3h-3zM1633.5 1867.5h3v3h-3zM1636.5 1858.5h3v3h-3zM1636.5 1864.5h3v3h-3zM1636.5 1867.5h3v3h-3zM1636.5 1870.5h3v3h-3zM1639.5 1864.5h3v3h-3zM1639.5 1867.5h3v3h-3zM1639.5 1876.5h3v3h-3zM1642.5 1864.5h3v3h-3zM1642.5 1870.5h3v3h-3zM1642.5 1873.5h3v3h-3zM1645.5 1867.5h3v3h-3zM1645.5 1870.5h3v3h-3zM1645.5 1876.5h3v3h-3zM1645.5 1879.5h3v3h-3zM1648.5 1870.5h3v3h-3zM1648.5 1876.5h3v3h-3zM1648.5 1879.5h3v3h-3zM1648.5 1882.5h3v3h-3zM1651.5 1873.5h3v3h-3zM1651.5 1879.5h3v3h-3zM1651.5 1885.5h3v3h-3zM1654.5 1876.5h3v3h-3zM1654.5 1879.5h3v3h-3zM1654.5 1885.5h3v3h-3zM1654.5 1888.5h3v3h-3zM1657.5 1879.5h3v3h-3zM1657.5 1882.5h3v3h-3zM1657.5 1885.5h3v3h-3zM1660.5 1882.5h3v3h-3zM1660.5 1885.5h3v3h-3zM1660.5 1888.5h3v3h-3zM1663.5 1888.5h3v3h-3zM1663.5 1894.5h3v3h-3zM1663.5 1897.5h3v3h-3zM1666.5 1897.5h3v3h-3zM1666.5 1903.5h3v3h-3zM1669.5 1894.5h3v3h-3zM1669.5 1897.5h3v3h-3zM1669.5 1903.5h3v3h-3zM1669.5 1906.5h3v3h-3zM1669.5 1909.5h3v3h-3zM1672.5 1897.5h3v3h-3zM1672.5 1900.5h3v3h-3zM1672.5 1903.5h3v3h-3zM1672.5 1906.5h3v3h-3zM1675.5 1903.5h3v3h-3zM1675.5 1909.5h3v3h-3zM1675.5 1912.5h3v3h-3zM1675.5 1915.5h3v3h-3zM1678.5 1909.5h3v3h-3zM1681.5 1915.5h3v3h-3zM1681.5 1921.5h3v3h-3zM1681.5 1924.5h3v3h-3zM1684.5 1924.5h3v3h-3zM1684.5 1930.5h3v3h-3zM1684.5 1933.5h3v3h-3zM1687.5 1927.5h3v3h-3zM1687.5 1930.5h3v3h-3zM1687.5 1933.5h3v3h-3zM1690.5 1933.5h3v3h-3zM1690.5 1942.5h3v3h-3zM1690.5 1945.5h3v3h-3zM1693.5 1936.5h3v3h-3zM1693.5 1939.5h3v3h-3zM1693.5 1945.5h3v3h-3zM1693.5 1948.5h3v3h-3zM1693.5 1951.5h3v3h-3zM1696.5 1939.5h3v3h-3zM1696.5 1942.5h3v3h-3zM1696.5 1948.5h3v3h-3zM1696.5 1951.5h3v3h-3zM1696.5 1954.5h3v3h-3zM1699.5 1948.5h3v3h-3zM1699.5 1951.5h3v3h-3zM1699.5 1957.5h3v3h-3zM1702.5 1954.5h3v3h-3zM1702.5 1957.5h3v3h-3zM1702.5 1960.5h3v3h-3zM1702.5 1966.5h3v3h-3zM1705.5 1957.5h3v3h-3zM1705.5 1960.5h3v3h-3zM1705.5 1972.5h3v3h-3zM1708.5 1960.5h3v3h-3zM1708.5 1969.5h3v3h-3zM1708.5 1972.5h3v3h-3zM1711.5 1969.5h3v3h-3zM1711.5 1972.5h3v3h-3zM1711.5 1975.5h3v3h-3zM1711.5 1981.5h3v3h-3zM1714.5 1978.5h3v3h-3zM1714.5 1981.5h3v3h-3zM1714.5 1984.5h3v3h-3zM1714.5 1987.5h3v3h-3zM1717.5 1984.5h3v3h-3zM1717.5 1987.5h3v3h-3zM1717.5 1990.5h3v3h-3zM1717.5 1993.5h3v3h-3zM1720.5 1984.5h3v3h-3zM1720.5 1987.5h3v3h-3zM1720.5 1990.5h3v3h-3zM1720.5 1993.5h3v3h-3zM1723.5 1993.5h3v3h-3zM1723.5 1996.5h3v3h-3zM1726.5 2002.5h3v3h-3zM1726.5 2005.5h3v3h-3zM1726.5 2011.5h3v3h-3zM1729.5 2008.5h3v3h-3zM1729.5 2011.5h3v3h-3zM1729.5 2014.5h3v3h-3zM1729.5 2020.5h3v3h-3zM1732.5 2014.5h3v3h-3zM1732.5 2020.5h3v3h-3zM1732.5 2026.5h3v3h-3zM1735.5 2020.5h3v3h-3zM1735.5 2023.5h3v3h-3zM1735.5 2026.5h3v3h-3zM1735.5 2032.5h3v3h-3zM1738.5 2029.5h3v3h-3zM1738.5 2032.5h3v3h-3zM1741.5 2032.5h3v3h-3zM1741.5 2035.5h3v3h-3zM1741.5 2041.5h3v3h-3zM1744.5 2047.5h3v3h-3zM1744.5 2050.5h3v3h-3zM1744.5 2053.5h3v3h-3zM1747.5 2047.5h3v3h-3zM1747.5 2056.5h3v3h-3zM1750.5 2053.5h3v3h-3zM1750.5 2059.5h3v3h-3zM1750.5 2062.5h3v3h-3zM1750.5 2068.5h3v3h-3zM1753.5 2062.5h3v3h-3zM1756.5 2071.5h3v3h-3zM1756.5 2074.5h3v3h-3zM1756.5 2077.5h3v3h-3zM1759.5 2074.5h3v3h-3zM1759.5 2083.5h3v3h-3zM1762.5 2077.5h3v3h-3zM1762.5 2089.5h3v3h-3zM1765.5 2083.5h3v3h-3zM1765.5 2089.5h3v3h-3zM1765.5 2092.5h3v3h-3zM1765.5 2098.5h3v3h-3zM1768.5 2092.5h3v3h-3zM1768.5 2098.5h3v3h-3zM1768.5 2101.5h3v3h-3zM1771.5 2095.5h3v3h-3zM1771.5 2098.5h3v3h-3zM1771.5 2101.5h3v3h-3zM1771.5 2104.5h3v3h-3zM1771.5 2107.5h3v3h-3zM1771.5 2110.5h3v3h-3zM1774.5 2107.5h3v3h-3zM1777.5 2107.5h3v3h-3zM1777.5 2110.5h3v3h-3zM1777.5 2113.5h3v3h-3zM1777.5 2116.5h3v3h-3zM1777.5 2119.5h3v3h-3zM1780.5 2116.5h3v3h-3zM1780.5 2119.5h3v3h-3zM1780.5 2128.5h3v3h-3zM1783.5 2122.5h3v3h-3zM1783.5 2125.5h3v3h-3zM1783.5 2128.5h3v3h-3zM1786.5 2125.5h3v3h-3zM1786.5 2131.5h3v3h-3zM1786.5 2140.5h3v3h-3zM1789.5 2125.5h3v3h-3zM1789.5 2128.5h3v3h-3zM1789.5 2131.5h3v3h-3zM1789.5 2134.5h3v3h-3zM1789.5 2137.5h3v3h-3zM1789.5 2140.5h3v3h-3zM1789.5 2143.5h3v3h-3zM1792.5 2131.5h3v3h-3zM1792.5 2134.5h3v3h-3zM1792.5 2137.5h3v3h-3zM1792.5 2140.5h3v3h-3zM1792.5 2143.5h3v3h-3zM1792.5 2149.5h3v3h-3zM1792.5 2152.5h3v3h-3zM1795.5 2128.5h3v3h-3zM1795.5 2131.5h3v3h-3zM1795.5 2134.5h3v3h-3zM1795.5 2137.5h3v3h-3zM1795.5 2140.5h3v3h-3zM1795.5 2146.5h3v3h-3zM1795.5 2152.5h3v3h-3zM1798.5 2131.5h3v3h-3zM1798.5 2134.5h3v3h-3zM1798.5 2137.5h3v3h-3zM1798.5 2140.5h3v3h-3zM1798.5 2143.5h3v3h-3zM1798.5 2146.5h3v3h-3zM1798.5 2152.5h3v3h-3zM1798.5 2155.5h3v3h-3zM1798.5 2158.5h3v3h-3zM1801.5 2131.5h3v3h-3zM1801.5 2134.5h3v3h-3zM1801.5 2137.5h3v3h-3zM1801.5 2140.5h3v3h-3zM1801.5 2143.5h3v3h-3zM1801.5 2146.5h3v3h-3zM1801.5 2152.5h3v3h-3zM1801.5 2158.5h3v3h-3zM1801.5 2161.5h3v3h-3zM1804.5 2128.5h3v3h-3zM1804.5 2131.5h3v3h-3zM1804.5 2134.5h3v3h-3zM1804.5 2137.5h3v3h-3zM1804.5 2140.5h3v3h-3zM1804.5 2143.5h3v3h-3zM1804.5 2146.5h3v3h-3zM1804.5 2149.5h3v3h-3zM1804.5 2161.5h3v3h-3zM1804.5 2164.5h3v3h-3zM1804.5 2170.5h3v3h-3zM1807.5 2134.5h3v3h-3zM1807.5 2137.5h3v3h-3zM1807.5 2140.5h3v3h-3zM1807.5 2143.5h3v3h-3zM1807.5 2146.5h3v3h-3zM1807.5 2149.5h3v3h-3zM1807.5 2152.5h3v3h-3zM1807.5 2167.5h3v3h-3zM1807.5 2173.5h3v3h-3zM1810.5 2134.5h3v3h-3zM1810.5 2137.5h3v3h-3zM1810.5 2140.5h3v3h-3zM1810.5 2143.5h3v3h-3zM1810.5 2146.5h3v3h-3zM1810.5 2152.5h3v3h-3zM1810.5 2164.5h3v3h-3zM1810.5 2170.5h3v3h-3zM1810.5 2176.5h3v3h-3zM1813.5 2134.5h3v3h-3zM1813.5 2137.5h3v3h-3zM1813.5 2140.5h3v3h-3zM1813.5 2143.5h3v3h-3zM1813.5 2146.5h3v3h-3zM1813.5 2149.5h3v3h-3zM1813.5 2152.5h3v3h-3zM1813.5 2155.5h3v3h-3zM1813.5 2158.5h3v3h-3zM1816.5 2131.5h3v3h-3zM1816.5 2137.5h3v3h-3zM1816.5 2140.5h3v3h-3zM1816.5 2143.5h3v3h-3zM1816.5 2146.5h3v3h-3zM1816.5 2149.5h3v3h-3zM1816.5 2152.5h3v3h-3zM1816.5 2155.5h3v3h-3zM1816.5 2158.5h3v3h-3zM1819.5 2134.5h3v3h-3zM1819.5 2137.5h3v3h-3zM1819.5 2140.5h3v3h-3zM1819.5 2143.5h3v3h-3zM1819.5 2146.5h3v3h-3zM1819.5 2149.5h3v3h-3zM1819.5 2152.5h3v3h-3zM1819.5 2155.5h3v3h-3zM1819.5 2158.5h3v3h-3zM1819.5 2161.5h3v3h-3zM1822.5 2131.5h3v3h-3zM1822.5 2134.5h3v3h-3zM1822.5 2137.5h3v3h-3zM1822.5 2140.5h3v3h-3zM1822.5 2143.5h3v3h-3zM1822.5 2146.5h3v3h-3zM1822.5 2149.5h3v3h-3zM1822.5 2152.5h3v3h-3zM1822.5 2155.5h3v3h-3zM1822.5 2158.5h3v3h-3zM1822.5 2161.5h3v3h-3zM1822.5 2164.5h3v3h-3zM1825.5 2134.5h3v3h-3zM1825.5 2137.5h3v3h-3zM1825.5 2140.5h3v3h-3zM1825.5 2143.5h3v3h-3zM1825.5 2146.5h3v3h-3zM1825.5 2149.5h3v3h-3zM1825.5 2155.5h3v3h-3zM1825.5 2161.5h3v3h-3zM1828.5 2128.5h3v3h-3zM1828.5 2131.5h3v3h-3zM1828.5 2137.5h3v3h-3zM1828.5 2140.5h3v3h-3zM1828.5 2143.5h3v3h-3zM1828.5 2146.5h3v3h-3zM1828.5 2149.5h3v3h-3zM1828.5 2152.5h3v3h-3zM1828.5 2155.5h3v3h-3zM1828.5 2164.5h3v3h-3zM1831.5 2131.5h3v3h-3zM1831.5 2137.5h3v3h-3zM1831.5 2140.5h3v3h-3zM1831.5 2143.5h3v3h-3zM1831.5 2146.5h3v3h-3zM1831.5 2149.5h3v3h-3zM1831.5 2152.5h3v3h-3zM1831.5 2155.5h3v3h-3zM1831.5 2158.5h3v3h-3zM1831.5 2161.5h3v3h-3zM1831.5 2164.5h3v3h-3zM1834.5 2134.5h3v3h-3zM1834.5 2137.5h3v3h-3zM1834.5 2143.5h3v3h-3zM1834.5 2152.5h3v3h-3zM1834.5 2155.5h3v3h-3zM1834.5 2158.5h3v3h-3zM1834.5 2161.5h3v3h-3zM1834.5 2164.5h3v3h-3zM1834.5 2167.5h3v3h-3zM1834.5 2170.5h3v3h-3zM1834.5 2176.5h3v3h-3zM1837.5 2134.5h3v3h-3zM1837.5 2137.5h3v3h-3zM1837.5 2140.5h3v3h-3zM1837.5 2143.5h3v3h-3zM1837.5 2146.5h3v3h-3zM1837.5 2149.5h3v3h-3zM1837.5 2155.5h3v3h-3zM1837.5 2158.5h3v3h-3zM1837.5 2161.5h3v3h-3zM1837.5 2164.5h3v3h-3zM1840.5 2134.5h3v3h-3zM1840.5 2140.5h3v3h-3zM1840.5 2143.5h3v3h-3zM1840.5 2146.5h3v3h-3zM1840.5 2149.5h3v3h-3zM1840.5 2152.5h3v3h-3zM1840.5 2155.5h3v3h-3zM1840.5 2158.5h3v3h-3zM1840.5 2161.5h3v3h-3zM1840.5 2164.5h3v3h-3zM1840.5 2167.5h3v3h-3zM1840.5 2170.5h3v3h-3zM1840.5 2173.5h3v3h-3zM1843.5 2131.5h3v3h-3zM1843.5 2134.5h3v3h-3zM1843.5 2140.5h3v3h-3zM1843.5 2146.5h3v3h-3zM1843.5 2152.5h3v3h-3zM1843.5 2155.5h3v3h-3zM1843.5 2158.5h3v3h-3zM1843.5 2170.5h3v3h-3zM1843.5 2173.5h3v3h-3zM1843.5 2176.5h3v3h-3zM1846.5 2131.5h3v3h-3zM1846.5 2137.5h3v3h-3zM1846.5 2140.5h3v3h-3zM1846.5 2143.5h3v3h-3zM1846.5 2146.5h3v3h-3zM1846.5 2149.5h3v3h-3zM1846.5 2152.5h3v3h-3zM1846.5 2155.5h3v3h-3zM1846.5 2158.5h3v3h-3zM1846.5 2161.5h3v3h-3zM1846.5 2164.5h3v3h-3zM1846.5 2167.5h3v3h-3zM1846.5 2170.5h3v3h-3zM1846.5 2173.5h3v3h-3zM1849.5 2131.5h3v3h-3zM1849.5 2134.5h3v3h-3zM1849.5 2137.5h3v3h-3zM1849.5 2140.5h3v3h-3zM1849.5 2143.5h3v3h-3zM1849.5 2146.5h3v3h-3zM1849.5 2149.5h3v3h-3zM1849.5 2155.5h3v3h-3zM1849.5 2158.5h3v3h-3zM1849.5 2161.5h3v3h-3zM1849.5 2164.5h3v3h-3zM1849.5 2167.5h3v3h-3zM1849.5 2170.5h3v3h-3zM1849.5 2173.5h3v3h-3zM1849.5 2176.5h3v3h-3zM1849.5 2179.5h3v3h-3zM1852.5 2137.5h3v3h-3zM1852.5 2140.5h3v3h-3zM1852.5 2143.5h3v3h-3zM1852.5 2146.5h3v3h-3zM1852.5 2149.5h3v3h-3zM1852.5 2152.5h3v3h-3zM1852.5 2155.5h3v3h-3zM1852.5 2158.5h3v3h-3zM1852.5 2161.5h3v3h-3zM1852.5 2164.5h3v3h-3zM1852.5 2167.5h3v3h-3zM1852.5 2170.5h3v3h-3zM1852.5 2173.5h3v3h-3zM1852.5 2176.5h3v3h-3zM1852.5 2179.5h3v3h-3zM1855.5 2134.5h3v3h-3zM1855.5 2137.5h3v3h-3zM1855.5 2140.5h3v3h-3zM1855.5 2143.5h3v3h-3zM1855.5 2146.5h3v3h-3zM1855.5 2149.5h3v3h-3zM1855.5 2152.5h3v3h-3zM1855.5 2155.5h3v3h-3zM1855.5 2158.5h3v3h-3zM1855.5 2161.5h3v3h-3zM1855.5 2164.5h3v3h-3zM1855.5 2170.5h3v3h-3zM1855.5 2173.5h3v3h-3zM1855.5 2176.5h3v3h-3zM1855.5 2179.5h3v3h-3zM1855.5 2185.5h3v3h-3zM1858.5 2131.5h3v3h-3zM1858.5 2137.5h3v3h-3zM1858.5 2140.5h3v3h-3zM1858.5 2143.5h3v3h-3zM1858.5 2146.5h3v3h-3zM1858.5 2149.5h3v3h-3zM1858.5 2152.5h3v3h-3zM1858.5 2155.5h3v3h-3zM1858.5 2158.5h3v3h-3zM1858.5 2161.5h3v3h-3zM1858.5 2164.5h3v3h-3zM1858.5 2167.5h3v3h-3zM1858.5 2170.5h3v3h-3zM1858.5 2173.5h3v3h-3zM1861.5 2131.5h3v3h-3zM1861.5 2137.5h3v3h-3zM1861.5 2140.5h3v3h-3zM1861.5 2143.5h3v3h-3zM1861.5 2146.5h3v3h-3zM1861.5 2152.5h3v3h-3zM1861.5 2155.5h3v3h-3zM1861.5 2158.5h3v3h-3zM1861.5 2164.5h3v3h-3zM1861.5 2167.5h3v3h-3zM1861.5 2170.5h3v3h-3zM1861.5 2173.5h3v3h-3zM1861.5 2179.5h3v3h-3zM1861.5 2182.5h3v3h-3zM1861.5 2185.5h3v3h-3zM1864.5 2131.5h3v3h-3zM1864.5 2134.5h3v3h-3zM1864.5 2137.5h3v3h-3zM1864.5 2140.5h3v3h-3zM1864.5 2146.5h3v3h-3zM1864.5 2149.5h3v3h-3zM1864.5 2155.5h3v3h-3zM1864.5 2158.5h3v3h-3zM1864.5 2161.5h3v3h-3zM1864.5 2164.5h3v3h-3zM1864.5 2170.5h3v3h-3zM1864.5 2173.5h3v3h-3zM1864.5 2176.5h3v3h-3zM1864.5 2185.5h3v3h-3zM1867.5 2134.5h3v3h-3zM1867.5 2137.5h3v3h-3zM1867.5 2140.5h3v3h-3zM1867.5 2146.5h3v3h-3zM1867.5 2149.5h3v3h-3zM1867.5 2152.5h3v3h-3zM1867.5 2155.5h3v3h-3zM1867.5 2158.5h3v3h-3zM1867.5 2161.5h3v3h-3zM1867.5 2164.5h3v3h-3zM1867.5 2170.5h3v3h-3zM1867.5 2173.5h3v3h-3zM1867.5 2182.5h3v3h-3zM1867.5 2185.5h3v3h-3zM1867.5 2188.5h3v3h-3zM1870.5 2131.5h3v3h-3zM1870.5 2134.5h3v3h-3zM1870.5 2143.5h3v3h-3zM1870.5 2146.5h3v3h-3zM1870.5 2149.5h3v3h-3zM1870.5 2152.5h3v3h-3zM1870.5 2155.5h3v3h-3zM1870.5 2158.5h3v3h-3zM1870.5 2161.5h3v3h-3zM1870.5 2164.5h3v3h-3zM1870.5 2167.5h3v3h-3zM1870.5 2173.5h3v3h-3zM1870.5 2176.5h3v3h-3zM1870.5 2179.5h3v3h-3zM1870.5 2182.5h3v3h-3zM1870.5 2185.5h3v3h-3zM1870.5 2188.5h3v3h-3zM1873.5 2131.5h3v3h-3zM1873.5 2137.5h3v3h-3zM1873.5 2140.5h3v3h-3zM1873.5 2146.5h3v3h-3zM1873.5 2149.5h3v3h-3zM1873.5 2152.5h3v3h-3zM1873.5 2155.5h3v3h-3zM1873.5 2158.5h3v3h-3zM1873.5 2161.5h3v3h-3zM1873.5 2167.5h3v3h-3zM1873.5 2173.5h3v3h-3zM1873.5 2176.5h3v3h-3zM1873.5 2179.5h3v3h-3zM1873.5 2185.5h3v3h-3zM1873.5 2188.5h3v3h-3zM1876.5 2131.5h3v3h-3zM1876.5 2140.5h3v3h-3zM1876.5 2143.5h3v3h-3zM1876.5 2146.5h3v3h-3zM1876.5 2149.5h3v3h-3zM1876.5 2152.5h3v3h-3zM1876.5 2155.5h3v3h-3zM1876.5 2158.5h3v3h-3zM1876.5 2161.5h3v3h-3zM1876.5 2170.5h3v3h-3zM1876.5 2173.5h3v3h-3zM1876.5 2176.5h3v3h-3zM1876.5 2179.5h3v3h-3zM1876.5 2182.5h3v3h-3zM1876.5 2188.5h3v3h-3zM1876.5 2191.5h3v3h-3zM1879.5 2128.5h3v3h-3zM1879.5 2140.5h3v3h-3zM1879.5 2143.5h3v3h-3zM1879.5 2146.5h3v3h-3zM1879.5 2149.5h3v3h-3zM1879.5 2152.5h3v3h-3zM1879.5 2158.5h3v3h-3zM1879.5 2161.5h3v3h-3zM1879.5 2164.5h3v3h-3zM1879.5 2170.5h3v3h-3zM1879.5 2173.5h3v3h-3zM1879.5 2176.5h3v3h-3zM1879.5 2182.5h3v3h-3zM1879.5 2188.5h3v3h-3zM1882.5 2134.5h3v3h-3zM1882.5 2137.5h3v3h-3zM1882.5 2140.5h3v3h-3zM1882.5 2143.5h3v3h-3zM1882.5 2146.5h3v3h-3zM1882.5 2149.5h3v3h-3zM1882.5 2152.5h3v3h-3zM1882.5 2155.5h3v3h-3zM1882.5 2158.5h3v3h-3zM1882.5 2161.5h3v3h-3zM1882.5 2164.5h3v3h-3zM1882.5 2167.5h3v3h-3zM1882.5 2170.5h3v3h-3zM1882.5 2173.5h3v3h-3zM1882.5 2176.5h3v3h-3zM1882.5 2179.5h3v3h-3zM1882.5 2182.5h3v3h-3zM1882.5 2185.5h3v3h-3zM1882.5 2191.5h3v3h-3zM1885.5 2128.5h3v3h-3zM1885.5 2131.5h3v3h-3zM1885.5 2134.5h3v3h-3zM1885.5 2137.5h3v3h-3zM1885.5 2140.5h3v3h-3zM1885.5 2143.5h3v3h-3zM1885.5 2146.5h3v3h-3zM1885.5 2149.5h3v3h-3zM1885.5 2152.5h3v3h-3zM1885.5 2155.5h3v3h-3zM1885.5 2158.5h3v3h-3zM1885.5 2161.5h3v3h-3zM1885.5 2173.5h3v3h-3zM1885.5 2179.5h3v3h-3zM1885.5 2182.5h3v3h-3zM1885.5 2185.5h3v3h-3zM1885.5 2191.5h3v3h-3zM1888.5 2131.5h3v3h-3zM1888.5 2134.5h3v3h-3zM1888.5 2137.5h3v3h-3zM1888.5 2140.5h3v3h-3zM1888.5 2143.5h3v3h-3zM1888.5 2146.5h3v3h-3zM1888.5 2149.5h3v3h-3zM1888.5 2155.5h3v3h-3zM1888.5 2161.5h3v3h-3zM1888.5 2167.5h3v3h-3zM1888.5 2170.5h3v3h-3zM1888.5 2176.5h3v3h-3zM1888.5 2179.5h3v3h-3zM1888.5 2182.5h3v3h-3zM1891.5 2134.5h3v3h-3zM1891.5 2137.5h3v3h-3zM1891.5 2143.5h3v3h-3zM1891.5 2146.5h3v3h-3zM1891.5 2155.5h3v3h-3zM1891.5 2158.5h3v3h-3zM1891.5 2161.5h3v3h-3zM1891.5 2164.5h3v3h-3zM1891.5 2170.5h3v3h-3zM1891.5 2173.5h3v3h-3zM1891.5 2176.5h3v3h-3zM1891.5 2179.5h3v3h-3zM1891.5 2185.5h3v3h-3zM1894.5 2137.5h3v3h-3zM1894.5 2140.5h3v3h-3zM1894.5 2146.5h3v3h-3zM1894.5 2149.5h3v3h-3zM1894.5 2152.5h3v3h-3zM1894.5 2158.5h3v3h-3zM1894.5 2161.5h3v3h-3zM1894.5 2170.5h3v3h-3zM1894.5 2182.5h3v3h-3zM1897.5 2134.5h3v3h-3zM1897.5 2137.5h3v3h-3zM1897.5 2140.5h3v3h-3zM1897.5 2143.5h3v3h-3zM1897.5 2146.5h3v3h-3zM1897.5 2149.5h3v3h-3zM1897.5 2152.5h3v3h-3zM1897.5 2155.5h3v3h-3zM1897.5 2158.5h3v3h-3zM1897.5 2161.5h3v3h-3zM1897.5 2164.5h3v3h-3zM1897.5 2167.5h3v3h-3zM1897.5 2170.5h3v3h-3zM1897.5 2173.5h3v3h-3zM1897.5 2176.5h3v3h-3zM1897.5 2179.5h3v3h-3zM1897.5 2185.5h3v3h-3zM1900.5 2134.5h3v3h-3zM1900.5 2137.5h3v3h-3zM1900.5 2143.5h3v3h-3zM1900.5 2146.5h3v3h-3zM1900.5 2149.5h3v3h-3zM1900.5 2152.5h3v3h-3zM1900.5 2155.5h3v3h-3zM1900.5 2158.5h3v3h-3zM1900.5 2161.5h3v3h-3zM1900.5 2164.5h3v3h-3zM1900.5 2170.5h3v3h-3zM1900.5 2173.5h3v3h-3zM1900.5 2179.5h3v3h-3zM1903.5 2131.5h3v3h-3zM1903.5 2134.5h3v3h-3zM1903.5 2137.5h3v3h-3zM1903.5 2140.5h3v3h-3zM1903.5 2143.5h3v3h-3zM1903.5 2146.5h3v3h-3zM1903.5 2149.5h3v3h-3zM1903.5 2152.5h3v3h-3zM1903.5 2155.5h3v3h-3zM1903.5 2161.5h3v3h-3zM1903.5 2164.5h3v3h-3zM1903.5 2167.5h3v3h-3zM1903.5 2170.5h3v3h-3zM1903.5 2173.5h3v3h-3zM1903.5 2176.5h3v3h-3zM1903.5 2182.5h3v3h-3zM1906.5 2131.5h3v3h-3zM1906.5 2134.5h3v3h-3zM1906.5 2140.5h3v3h-3zM1906.5 2143.5h3v3h-3zM1906.5 2146.5h3v3h-3zM1906.5 2149.5h3v3h-3zM1906.5 2152.5h3v3h-3zM1906.5 2155.5h3v3h-3zM1906.5 2158.5h3v3h-3zM1906.5 2161.5h3v3h-3zM1906.5 2164.5h3v3h-3zM1906.5 2167.5h3v3h-3zM1906.5 2170.5h3v3h-3zM1906.5 2173.5h3v3h-3zM1906.5 2176.5h3v3h-3zM1906.5 2179.5h3v3h-3zM1909.5 2134.5h3v3h-3zM1909.5 2137.5h3v3h-3zM1909.5 2140.5h3v3h-3zM1909.5 2143.5h3v3h-3zM1909.5 2146.5h3v3h-3zM1909.5 2149.5h3v3h-3zM1909.5 2152.5h3v3h-3zM1909.5 2155.5h3v3h-3zM1909.5 2158.5h3v3h-3zM1909.5 2167.5h3v3h-3zM1909.5 2170.5h3v3h-3zM1909.5 2173.5h3v3h-3zM1909.5 2176.5h3v3h-3zM1909.5 2179.5h3v3h-3zM1912.5 2134.5h3v3h-3zM1912.5 2137.5h3v3h-3zM1912.5 2140.5h3v3h-3zM1912.5 2143.5h3v3h-3zM1912.5 2146.5h3v3h-3zM1912.5 2149.5h3v3h-3zM1912.5 2152.5h3v3h-3zM1912.5 2155.5h3v3h-3zM1912.5 2158.5h3v3h-3zM1912.5 2161.5h3v3h-3zM1912.5 2164.5h3v3h-3zM1912.5 2173.5h3v3h-3zM1912.5 2182.5h3v3h-3zM1915.5 2137.5h3v3h-3zM1915.5 2140.5h3v3h-3zM1915.5 2146.5h3v3h-3zM1915.5 2149.5h3v3h-3zM1915.5 2152.5h3v3h-3zM1915.5 2155.5h3v3h-3zM1915.5 2158.5h3v3h-3zM1915.5 2167.5h3v3h-3zM1915.5 2170.5h3v3h-3zM1915.5 2173.5h3v3h-3zM1918.5 2131.5h3v3h-3zM1918.5 2134.5h3v3h-3zM1918.5 2137.5h3v3h-3zM1918.5 2140.5h3v3h-3zM1918.5 2143.5h3v3h-3zM1918.5 2149.5h3v3h-3zM1918.5 2152.5h3v3h-3zM1918.5 2155.5h3v3h-3zM1918.5 2158.5h3v3h-3zM1918.5 2161.5h3v3h-3zM1918.5 2164.5h3v3h-3zM1918.5 2167.5h3v3h-3zM1918.5 2170.5h3v3h-3zM1918.5 2173.5h3v3h-3zM1921.5 2131.5h3v3h-3zM1921.5 2134.5h3v3h-3zM1921.5 2137.5h3v3h-3zM1921.5 2140.5h3v3h-3zM1921.5 2143.5h3v3h-3zM1921.5 2146.5h3v3h-3zM1921.5 2149.5h3v3h-3zM1921.5 2152.5h3v3h-3zM1921.5 2155.5h3v3h-3zM1921.5 2158.5h3v3h-3zM1921.5 2161.5h3v3h-3zM1921.5 2164.5h3v3h-3zM1921.5 2167.5h3v3h-3zM1921.5 2170.5h3v3h-3zM1924.5 2131.5h3v3h-3zM1924.5 2134.5h3v3h-3zM1924.5 2137.5h3v3h-3zM1924.5 2140.5h3v3h-3zM1924.5 2143.5h3v3h-3zM1924.5 2146.5h3v3h-3zM1924.5 2149.5h3v3h-3zM1924.5 2152.5h3v3h-3zM1924.5 2155.5h3v3h-3zM1924.5 2158.5h3v3h-3zM1924.5 2161.5h3v3h-3zM1924.5 2164.5h3v3h-3zM1924.5 2167.5h3v3h-3zM1924.5 2170.5h3v3h-3zM1927.5 2137.5h3v3h-3zM1927.5 2140.5h3v3h-3zM1927.5 2143.5h3v3h-3zM1927.5 2146.5h3v3h-3zM1927.5 2152.5h3v3h-3zM1927.5 2155.5h3v3h-3zM1927.5 2161.5h3v3h-3zM1927.5 2164.5h3v3h-3zM1927.5 2167.5h3v3h-3zM1930.5 2137.5h3v3h-3zM1930.5 2140.5h3v3h-3zM1930.5 2143.5h3v3h-3zM1930.5 2146.5h3v3h-3zM1930.5 2152.5h3v3h-3zM1930.5 2155.5h3v3h-3zM1930.5 2158.5h3v3h-3zM1930.5 2161.5h3v3h-3zM1933.5 2128.5h3v3h-3zM1933.5 2134.5h3v3h-3zM1933.5 2137.5h3v3h-3zM1933.5 2140.5h3v3h-3zM1933.5 2143.5h3v3h-3zM1933.5 2146.5h3v3h-3zM1933.5 2149.5h3v3h-3zM1933.5 2152.5h3v3h-3zM1933.5 2155.5h3v3h-3zM1933.5 2158.5h3v3h-3zM1933.5 2161.5h3v3h-3zM1933.5 2164.5h3v3h-3zM1933.5 2167.5h3v3h-3zM1936.5 2134.5h3v3h-3zM1936.5 2137.5h3v3h-3zM1936.5 2143.5h3v3h-3zM1936.5 2146.5h3v3h-3zM1936.5 2149.5h3v3h-3zM1936.5 2152.5h3v3h-3zM1936.5 2155.5h3v3h-3zM1936.5 2158.5h3v3h-3zM1936.5 2161.5h3v3h-3zM1939.5 2134.5h3v3h-3zM1939.5 2137.5h3v3h-3zM1939.5 2140.5h3v3h-3zM1939.5 2143.5h3v3h-3zM1939.5 2146.5h3v3h-3zM1939.5 2149.5h3v3h-3zM1939.5 2152.5h3v3h-3zM1939.5 2155.5h3v3h-3zM1939.5 2158.5h3v3h-3zM1939.5 2164.5h3v3h-3zM1942.5 2128.5h3v3h-3zM1942.5 2134.5h3v3h-3zM1942.5 2137.5h3v3h-3zM1942.5 2140.5h3v3h-3zM1942.5 2143.5h3v3h-3zM1942.5 2146.5h3v3h-3zM1942.5 2149.5h3v3h-3zM1942.5 2152.5h3v3h-3zM1942.5 2155.5h3v3h-3zM1942.5 2158.5h3v3h-3zM1942.5 2161.5h3v3h-3zM1945.5 2128.5h3v3h-3zM1945.5 2131.5h3v3h-3zM1945.5 2134.5h3v3h-3zM1945.5 2137.5h3v3h-3zM1945.5 2140.5h3v3h-3zM1945.5 2143.5h3v3h-3zM1945.5 2146.5h3v3h-3zM1945.5 2149.5h3v3h-3zM1945.5 2152.5h3v3h-3zM1945.5 2155.5h3v3h-3zM1945.5 2158.5h3v3h-3zM1948.5 2128.5h3v3h-3zM1948.5 2134.5h3v3h-3zM1948.5 2137.5h3v3h-3zM1948.5 2140.5h3v3h-3zM1948.5 2143.5h3v3h-3zM1948.5 2146.5h3v3h-3zM1948.5 2149.5h3v3h-3zM1948.5 2152.5h3v3h-3zM1948.5 2155.5h3v3h-3zM1951.5 2128.5h3v3h-3zM1951.5 2131.5h3v3h-3zM1951.5 2134.5h3v3h-3zM1951.5 2137.5h3v3h-3zM1951.5 2140.5h3v3h-3zM1951.5 2143.5h3v3h-3zM1951.5 2146.5h3v3h-3zM1951.5 2149.5h3v3h-3zM1951.5 2152.5h3v3h-3zM1951.5 2155.5h3v3h-3zM1954.5 2128.5h3v3h-3zM1954.5 2131.5h3v3h-3zM1954.5 2134.5h3v3h-3zM1954.5 2137.5h3v3h-3zM1954.5 2140.5h3v3h-3zM1954.5 2143.5h3v3h-3zM1954.5 2146.5h3v3h-3zM1954.5 2149.5h3v3h-3zM1954.5 2152.5h3v3h-3zM1957.5 2131.5h3v3h-3zM1957.5 2134.5h3v3h-3zM1957.5 2137.5h3v3h-3zM1957.5 2140.5h3v3h-3zM1957.5 2143.5h3v3h-3zM1957.5 2146.5h3v3h-3zM1957.5 2152.5h3v3h-3zM1960.5 2128.5h3v3h-3zM1960.5 2131.5h3v3h-3zM1960.5 2134.5h3v3h-3zM1960.5 2137.5h3v3h-3zM1960.5 2140.5h3v3h-3zM1960.5 2143.5h3v3h-3zM1960.5 2146.5h3v3h-3zM1963.5 2128.5h3v3h-3zM1963.5 2131.5h3v3h-3zM1963.5 2134.5h3v3h-3zM1963.5 2137.5h3v3h-3zM1963.5 2140.5h3v3h-3zM1963.5 2143.5h3v3h-3zM1963.5 2146.5h3v3h-3zM1966.5 2131.5h3v3h-3zM1966.5 2134.5h3v3h-3zM1966.5 2137.5h3v3h-3zM1966.5 2140.5h3v3h-3zM1966.5 2143.5h3v3h-3zM1969.5 2128.5h3v3h-3zM1969.5 2131.5h3v3h-3zM1969.5 2134.5h3v3h-3zM1969.5 2137.5h3v3h-3zM1969.5 2140.5h3v3h-3zM1969.5 2143.5h3v3h-3zM1972.5 2128.5h3v3h-3zM1972.5 2131.5h3v3h-3zM1972.5 2134.5h3v3h-3zM1972.5 2137.5h3v3h-3zM1972.5 2140.5h3v3h-3zM1975.5 2128.5h3v3h-3zM1975.5 2131.5h3v3h-3zM1975.5 2134.5h3v3h-3zM1975.5 2137.5h3v3h-3zM1978.5 2131.5h3v3h-3zM1978.5 2134.5h3v3h-3zM283.5 1999.5h3v3h-3zM283.5 2008.5h3v3h-3zM283.5 2011.5h3v3h-3zM283.5 2014.5h3v3h-3zM283.5 2017.5h3v3h-3zM286.5 1990.5h3v3h-3zM286.5 1993.5h3v3h-3zM286.5 1996.5h3v3h-3zM286.5 1999.5h3v3h-3zM286.5 2005.5h3v3h-3zM286.5 2008.5h3v3h-3zM286.5 2011.5h3v3h-3zM286.5 2014.5h3v3h-3zM289.5 1984.5h3v3h-3zM289.5 1990.5h3v3h-3zM289.5 1993.5h3v3h-3zM289.5 1996.5h3v3h-3zM289.5 2002.5h3v3h-3zM289.5 2008.5h3v3h-3zM289.5 2011.5h3v3h-3zM292.5 1984.5h3v3h-3zM292.5 1990.5h3v3h-3zM292.5 1993.5h3v3h-3zM292.5 1996.5h3v3h-3zM292.5 1999.5h3v3h-3zM292.5 2005.5h3v3h-3zM295.5 1981.5h3v3h-3zM295.5 1987.5h3v3h-3zM295.5 1996.5h3v3h-3zM295.5 1999.5h3v3h-3zM298.5 1969.5h3v3h-3zM298.5 1981.5h3v3h-3zM298.5 1984.5h3v3h-3zM298.5 1987.5h3v3h-3zM298.5 1990.5h3v3h-3zM298.5 1993.5h3v3h-3zM301.5 1966.5h3v3h-3zM301.5 1972.5h3v3h-3zM301.5 1975.5h3v3h-3zM301.5 1978.5h3v3h-3zM301.5 1984.5h3v3h-3zM304.5 1963.5h3v3h-3zM304.5 1969.5h3v3h-3zM304.5 1972.5h3v3h-3zM304.5 1975.5h3v3h-3zM304.5 1978.5h3v3h-3zM307.5 1945.5h3v3h-3zM307.5 1948.5h3v3h-3zM307.5 1951.5h3v3h-3zM307.5 1960.5h3v3h-3zM307.5 1966.5h3v3h-3zM307.5 1972.5h3v3h-3zM310.5 1939.5h3v3h-3zM310.5 1945.5h3v3h-3zM310.5 1951.5h3v3h-3zM310.5 1954.5h3v3h-3zM310.5 1957.5h3v3h-3zM310.5 1960.5h3v3h-3zM310.5 1963.5h3v3h-3zM310.5 1969.5h3v3h-3zM313.5 1936.5h3v3h-3zM313.5 1945.5h3v3h-3zM313.5 1954.5h3v3h-3zM313.5 1957.5h3v3h-3zM313.5 1960.5h3v3h-3zM316.5 1927.5h3v3h-3zM316.5 1936.5h3v3h-3zM316.5 1939.5h3v3h-3zM316.5 1945.5h3v3h-3zM316.5 1948.5h3v3h-3zM316.5 1951.5h3v3h-3zM319.5 1918.5h3v3h-3zM319.5 1921.5h3v3h-3zM319.5 1924.5h3v3h-3zM319.5 1927.5h3v3h-3zM319.5 1930.5h3v3h-3zM319.5 1933.5h3v3h-3zM319.5 1936.5h3v3h-3zM319.5 1939.5h3v3h-3zM319.5 1942.5h3v3h-3zM322.5 1906.5h3v3h-3zM322.5 1912.5h3v3h-3zM322.5 1915.5h3v3h-3zM322.5 1924.5h3v3h-3zM322.5 1927.5h3v3h-3zM322.5 1930.5h3v3h-3zM325.5 1891.5h3v3h-3zM325.5 1900.5h3v3h-3zM325.5 1903.5h3v3h-3zM325.5 1909.5h3v3h-3zM325.5 1912.5h3v3h-3zM325.5 1918.5h3v3h-3zM328.5 1879.5h3v3h-3zM328.5 1885.5h3v3h-3zM328.5 1894.5h3v3h-3zM328.5 1897.5h3v3h-3zM328.5 1900.5h3v3h-3zM328.5 1903.5h3v3h-3zM328.5 1906.5h3v3h-3zM331.5 1870.5h3v3h-3zM331.5 1873.5h3v3h-3zM331.5 1879.5h3v3h-3zM331.5 1888.5h3v3h-3zM334.5 1870.5h3v3h-3zM334.5 1873.5h3v3h-3zM334.5 1876.5h3v3h-3zM334.5 1879.5h3v3h-3zM334.5 1882.5h3v3h-3zM334.5 1885.5h3v3h-3zM337.5 1849.5h3v3h-3zM337.5 1858.5h3v3h-3zM337.5 1864.5h3v3h-3zM337.5 1867.5h3v3h-3zM337.5 1870.5h3v3h-3zM337.5 1876.5h3v3h-3zM340.5 1846.5h3v3h-3zM340.5 1849.5h3v3h-3zM340.5 1852.5h3v3h-3zM340.5 1855.5h3v3h-3zM340.5 1861.5h3v3h-3zM340.5 1864.5h3v3h-3zM340.5 1870.5h3v3h-3zM343.5 1834.5h3v3h-3zM343.5 1837.5h3v3h-3zM343.5 1840.5h3v3h-3zM343.5 1846.5h3v3h-3zM343.5 1849.5h3v3h-3zM343.5 1852.5h3v3h-3zM343.5 1855.5h3v3h-3zM343.5 1858.5h3v3h-3zM343.5 1861.5h3v3h-3zM346.5 1825.5h3v3h-3zM346.5 1828.5h3v3h-3zM346.5 1831.5h3v3h-3zM346.5 1837.5h3v3h-3zM346.5 1843.5h3v3h-3zM346.5 1852.5h3v3h-3zM346.5 1855.5h3v3h-3zM349.5 1819.5h3v3h-3zM349.5 1825.5h3v3h-3zM349.5 1831.5h3v3h-3zM349.5 1834.5h3v3h-3zM349.5 1837.5h3v3h-3zM349.5 1843.5h3v3h-3zM349.5 1849.5h3v3h-3zM352.5 1825.5h3v3h-3zM352.5 1831.5h3v3h-3zM352.5 1837.5h3v3h-3zM355.5 1807.5h3v3h-3zM355.5 1810.5h3v3h-3zM355.5 1816.5h3v3h-3zM355.5 1819.5h3v3h-3zM358.5 1798.5h3v3h-3zM358.5 1804.5h3v3h-3zM358.5 1807.5h3v3h-3zM358.5 1816.5h3v3h-3zM358.5 1819.5h3v3h-3zM358.5 1822.5h3v3h-3zM358.5 1825.5h3v3h-3zM361.5 1786.5h3v3h-3zM361.5 1798.5h3v3h-3zM361.5 1801.5h3v3h-3zM361.5 1804.5h3v3h-3zM361.5 1807.5h3v3h-3zM361.5 1810.5h3v3h-3zM361.5 1816.5h3v3h-3zM364.5 1783.5h3v3h-3zM364.5 1789.5h3v3h-3zM364.5 1795.5h3v3h-3zM364.5 1798.5h3v3h-3zM367.5 1774.5h3v3h-3zM367.5 1783.5h3v3h-3zM367.5 1789.5h3v3h-3zM367.5 1792.5h3v3h-3zM367.5 1795.5h3v3h-3zM367.5 1798.5h3v3h-3zM367.5 1801.5h3v3h-3zM367.5 1804.5h3v3h-3zM367.5 1807.5h3v3h-3zM370.5 1780.5h3v3h-3zM370.5 1783.5h3v3h-3zM370.5 1789.5h3v3h-3zM370.5 1792.5h3v3h-3zM373.5 1765.5h3v3h-3zM373.5 1768.5h3v3h-3zM373.5 1771.5h3v3h-3zM373.5 1783.5h3v3h-3zM376.5 1756.5h3v3h-3zM376.5 1759.5h3v3h-3zM376.5 1762.5h3v3h-3zM376.5 1765.5h3v3h-3zM376.5 1771.5h3v3h-3zM376.5 1774.5h3v3h-3zM376.5 1777.5h3v3h-3zM376.5 1780.5h3v3h-3zM379.5 1753.5h3v3h-3zM379.5 1759.5h3v3h-3zM379.5 1768.5h3v3h-3zM379.5 1777.5h3v3h-3zM382.5 1750.5h3v3h-3zM382.5 1756.5h3v3h-3zM382.5 1768.5h3v3h-3zM382.5 1771.5h3v3h-3zM385.5 1744.5h3v3h-3zM385.5 1747.5h3v3h-3zM385.5 1750.5h3v3h-3zM385.5 1753.5h3v3h-3zM385.5 1756.5h3v3h-3zM385.5 1759.5h3v3h-3zM385.5 1762.5h3v3h-3zM385.5 1765.5h3v3h-3zM388.5 1738.5h3v3h-3zM388.5 1741.5h3v3h-3zM388.5 1744.5h3v3h-3zM388.5 1753.5h3v3h-3zM388.5 1759.5h3v3h-3zM391.5 1732.5h3v3h-3zM391.5 1738.5h3v3h-3zM391.5 1744.5h3v3h-3zM391.5 1753.5h3v3h-3zM391.5 1756.5h3v3h-3zM391.5 1759.5h3v3h-3zM394.5 1726.5h3v3h-3zM394.5 1732.5h3v3h-3zM394.5 1735.5h3v3h-3zM394.5 1738.5h3v3h-3zM394.5 1744.5h3v3h-3zM394.5 1747.5h3v3h-3zM394.5 1750.5h3v3h-3zM394.5 1753.5h3v3h-3zM397.5 1726.5h3v3h-3zM397.5 1729.5h3v3h-3zM397.5 1732.5h3v3h-3zM397.5 1735.5h3v3h-3zM397.5 1747.5h3v3h-3zM400.5 1732.5h3v3h-3zM400.5 1735.5h3v3h-3zM400.5 1738.5h3v3h-3zM400.5 1741.5h3v3h-3zM403.5 1726.5h3v3h-3zM403.5 1729.5h3v3h-3zM403.5 1732.5h3v3h-3zM403.5 1738.5h3v3h-3zM406.5 1726.5h3v3h-3zM406.5 1729.5h3v3h-3zM409.5 1711.5h3v3h-3zM409.5 1714.5h3v3h-3zM409.5 1723.5h3v3h-3zM409.5 1726.5h3v3h-3zM409.5 1729.5h3v3h-3zM412.5 1705.5h3v3h-3zM412.5 1708.5h3v3h-3zM412.5 1711.5h3v3h-3zM412.5 1717.5h3v3h-3zM412.5 1720.5h3v3h-3zM412.5 1723.5h3v3h-3zM415.5 1708.5h3v3h-3zM415.5 1711.5h3v3h-3zM415.5 1717.5h3v3h-3zM415.5 1720.5h3v3h-3zM415.5 1723.5h3v3h-3zM418.5 1702.5h3v3h-3zM418.5 1714.5h3v3h-3zM418.5 1720.5h3v3h-3zM421.5 1699.5h3v3h-3zM421.5 1708.5h3v3h-3zM421.5 1711.5h3v3h-3zM421.5 1714.5h3v3h-3zM424.5 1696.5h3v3h-3zM424.5 1699.5h3v3h-3zM424.5 1705.5h3v3h-3zM424.5 1708.5h3v3h-3zM424.5 1711.5h3v3h-3zM427.5 1693.5h3v3h-3zM427.5 1696.5h3v3h-3zM427.5 1699.5h3v3h-3zM427.5 1702.5h3v3h-3zM427.5 1705.5h3v3h-3zM427.5 1708.5h3v3h-3zM430.5 1693.5h3v3h-3zM430.5 1702.5h3v3h-3zM430.5 1708.5h3v3h-3zM433.5 1690.5h3v3h-3zM433.5 1702.5h3v3h-3zM433.5 1705.5h3v3h-3zM433.5 1708.5h3v3h-3zM439.5 1693.5h3v3h-3zM439.5 1696.5h3v3h-3zM439.5 1699.5h3v3h-3zM439.5 1702.5h3v3h-3zM442.5 1687.5h3v3h-3zM442.5 1693.5h3v3h-3zM442.5 1699.5h3v3h-3zM442.5 1702.5h3v3h-3zM445.5 1684.5h3v3h-3zM445.5 1696.5h3v3h-3zM445.5 1699.5h3v3h-3zM445.5 1702.5h3v3h-3zM448.5 1681.5h3v3h-3zM448.5 1684.5h3v3h-3zM448.5 1687.5h3v3h-3zM448.5 1696.5h3v3h-3zM448.5 1699.5h3v3h-3zM451.5 1684.5h3v3h-3zM451.5 1687.5h3v3h-3zM451.5 1699.5h3v3h-3zM454.5 1681.5h3v3h-3zM454.5 1687.5h3v3h-3zM454.5 1690.5h3v3h-3zM454.5 1696.5h3v3h-3zM454.5 1699.5h3v3h-3zM457.5 1684.5h3v3h-3zM457.5 1687.5h3v3h-3zM457.5 1693.5h3v3h-3zM457.5 1699.5h3v3h-3zM460.5 1684.5h3v3h-3zM460.5 1687.5h3v3h-3zM460.5 1693.5h3v3h-3zM460.5 1696.5h3v3h-3zM460.5 1699.5h3v3h-3zM460.5 1702.5h3v3h-3zM463.5 1687.5h3v3h-3zM463.5 1693.5h3v3h-3zM463.5 1699.5h3v3h-3zM463.5 1702.5h3v3h-3zM463.5 1705.5h3v3h-3zM466.5 1687.5h3v3h-3zM466.5 1696.5h3v3h-3zM466.5 1702.5h3v3h-3zM466.5 1705.5h3v3h-3zM469.5 1696.5h3v3h-3zM469.5 1699.5h3v3h-3zM469.5 1702.5h3v3h-3zM469.5 1705.5h3v3h-3zM469.5 1708.5h3v3h-3zM472.5 1696.5h3v3h-3zM472.5 1699.5h3v3h-3zM472.5 1702.5h3v3h-3zM475.5 1696.5h3v3h-3zM475.5 1702.5h3v3h-3zM475.5 1705.5h3v3h-3zM475.5 1708.5h3v3h-3zM475.5 1711.5h3v3h-3zM478.5 1699.5h3v3h-3zM478.5 1708.5h3v3h-3zM478.5 1711.5h3v3h-3zM481.5 1705.5h3v3h-3zM481.5 1708.5h3v3h-3zM484.5 1708.5h3v3h-3zM484.5 1711.5h3v3h-3zM484.5 1717.5h3v3h-3zM487.5 1714.5h3v3h-3zM487.5 1720.5h3v3h-3zM490.5 1717.5h3v3h-3zM490.5 1720.5h3v3h-3zM490.5 1723.5h3v3h-3zM490.5 1726.5h3v3h-3zM493.5 1717.5h3v3h-3zM493.5 1720.5h3v3h-3zM493.5 1726.5h3v3h-3zM496.5 1729.5h3v3h-3zM499.5 1726.5h3v3h-3zM499.5 1732.5h3v3h-3zM502.5 1726.5h3v3h-3zM502.5 1735.5h3v3h-3zM505.5 1729.5h3v3h-3zM508.5 1738.5h3v3h-3zM508.5 1744.5h3v3h-3zM508.5 1747.5h3v3h-3zM508.5 1750.5h3v3h-3zM511.5 1747.5h3v3h-3zM511.5 1750.5h3v3h-3zM511.5 1753.5h3v3h-3zM514.5 1744.5h3v3h-3zM514.5 1747.5h3v3h-3zM514.5 1753.5h3v3h-3zM514.5 1759.5h3v3h-3zM517.5 1750.5h3v3h-3zM517.5 1753.5h3v3h-3zM517.5 1756.5h3v3h-3zM517.5 1765.5h3v3h-3zM520.5 1759.5h3v3h-3zM520.5 1765.5h3v3h-3zM520.5 1768.5h3v3h-3zM520.5 1771.5h3v3h-3zM523.5 1768.5h3v3h-3zM523.5 1771.5h3v3h-3zM523.5 1777.5h3v3h-3zM526.5 1768.5h3v3h-3zM526.5 1774.5h3v3h-3zM526.5 1780.5h3v3h-3zM529.5 1780.5h3v3h-3zM529.5 1783.5h3v3h-3zM529.5 1786.5h3v3h-3zM529.5 1789.5h3v3h-3zM532.5 1783.5h3v3h-3zM535.5 1789.5h3v3h-3zM535.5 1798.5h3v3h-3zM535.5 1801.5h3v3h-3zM538.5 1801.5h3v3h-3zM538.5 1807.5h3v3h-3zM541.5 1810.5h3v3h-3zM541.5 1816.5h3v3h-3zM544.5 1816.5h3v3h-3zM547.5 1825.5h3v3h-3zM550.5 1828.5h3v3h-3zM550.5 1834.5h3v3h-3zM553.5 1837.5h3v3h-3zM553.5 1840.5h3v3h-3zM553.5 1843.5h3v3h-3zM556.5 1846.5h3v3h-3zM559.5 1849.5h3v3h-3zM559.5 1852.5h3v3h-3zM559.5 1855.5h3v3h-3zM559.5 1858.5h3v3h-3zM562.5 1861.5h3v3h-3zM562.5 1864.5h3v3h-3zM562.5 1867.5h3v3h-3zM565.5 1870.5h3v3h-3zM565.5 1873.5h3v3h-3zM568.5 1873.5h3v3h-3zM568.5 1879.5h3v3h-3zM571.5 1885.5h3v3h-3zM574.5 1894.5h3v3h-3zM574.5 1900.5h3v3h-3zM577.5 1909.5h3v3h-3zM580.5 1918.5h3v3h-3zM583.5 1918.5h3v3h-3zM583.5 1921.5h3v3h-3zM583.5 1924.5h3v3h-3zM583.5 1927.5h3v3h-3zM583.5 1930.5h3v3h-3zM586.5 1930.5h3v3h-3zM589.5 1939.5h3v3h-3zM589.5 1942.5h3v3h-3zM589.5 1945.5h3v3h-3zM592.5 1948.5h3v3h-3zM592.5 1954.5h3v3h-3zM595.5 1954.5h3v3h-3zM601.5 1975.5h3v3h-3zM604.5 1987.5h3v3h-3zM604.5 1993.5h3v3h-3zM607.5 1993.5h3v3h-3zM607.5 1996.5h3v3h-3zM607.5 1999.5h3v3h-3zM610.5 2008.5h3v3h-3zM616.5 2029.5h3v3h-3zM619.5 2032.5h3v3h-3zM619.5 2035.5h3v3h-3zM619.5 2038.5h3v3h-3zM622.5 2041.5h3v3h-3zM625.5 2044.5h3v3h-3zM628.5 2053.5h3v3h-3zM628.5 2056.5h3v3h-3zM628.5 2059.5h3v3h-3zM631.5 2062.5h3v3h-3zM631.5 2071.5h3v3h-3zM634.5 2074.5h3v3h-3zM637.5 2080.5h3v3h-3zM637.5 2083.5h3v3h-3zM637.5 2086.5h3v3h-3zM643.5 2098.5h3v3h-3zM643.5 2101.5h3v3h-3zM643.5 2104.5h3v3h-3zM646.5 2101.5h3v3h-3zM646.5 2104.5h3v3h-3zM646.5 2107.5h3v3h-3zM649.5 2101.5h3v3h-3zM649.5 2104.5h3v3h-3zM649.5 2107.5h3v3h-3zM649.5 2110.5h3v3h-3zM649.5 2113.5h3v3h-3zM652.5 2101.5h3v3h-3zM652.5 2104.5h3v3h-3zM652.5 2107.5h3v3h-3zM652.5 2110.5h3v3h-3zM652.5 2119.5h3v3h-3zM655.5 2101.5h3v3h-3zM655.5 2104.5h3v3h-3zM655.5 2107.5h3v3h-3zM655.5 2110.5h3v3h-3zM655.5 2113.5h3v3h-3zM655.5 2116.5h3v3h-3zM655.5 2122.5h3v3h-3zM658.5 2101.5h3v3h-3zM658.5 2104.5h3v3h-3zM658.5 2107.5h3v3h-3zM658.5 2110.5h3v3h-3zM658.5 2113.5h3v3h-3zM658.5 2116.5h3v3h-3zM658.5 2119.5h3v3h-3zM658.5 2131.5h3v3h-3zM661.5 2098.5h3v3h-3zM661.5 2101.5h3v3h-3zM661.5 2104.5h3v3h-3zM661.5 2107.5h3v3h-3zM661.5 2110.5h3v3h-3zM661.5 2113.5h3v3h-3zM661.5 2116.5h3v3h-3zM661.5 2119.5h3v3h-3zM661.5 2122.5h3v3h-3zM664.5 2101.5h3v3h-3zM664.5 2104.5h3v3h-3zM664.5 2107.5h3v3h-3zM664.5 2110.5h3v3h-3zM664.5 2113.5h3v3h-3zM664.5 2116.5h3v3h-3zM664.5 2119.5h3v3h-3zM664.5 2122.5h3v3h-3zM664.5 2125.5h3v3h-3zM664.5 2140.5h3v3h-3zM667.5 2101.5h3v3h-3zM667.5 2104.5h3v3h-3zM667.5 2107.5h3v3h-3zM667.5 2110.5h3v3h-3zM667.5 2113.5h3v3h-3zM667.5 2119.5h3v3h-3zM667.5 2122.5h3v3h-3zM667.5 2125.5h3v3h-3zM670.5 2101.5h3v3h-3zM670.5 2104.5h3v3h-3zM670.5 2107.5h3v3h-3zM670.5 2110.5h3v3h-3zM670.5 2113.5h3v3h-3zM670.5 2116.5h3v3h-3zM670.5 2119.5h3v3h-3zM670.5 2122.5h3v3h-3zM670.5 2125.5h3v3h-3zM673.5 2101.5h3v3h-3zM673.5 2104.5h3v3h-3zM673.5 2107.5h3v3h-3zM673.5 2110.5h3v3h-3zM673.5 2113.5h3v3h-3zM673.5 2116.5h3v3h-3zM673.5 2119.5h3v3h-3zM673.5 2122.5h3v3h-3zM673.5 2125.5h3v3h-3zM673.5 2128.5h3v3h-3zM673.5 2131.5h3v3h-3zM676.5 2107.5h3v3h-3zM676.5 2110.5h3v3h-3zM676.5 2113.5h3v3h-3zM676.5 2116.5h3v3h-3zM676.5 2119.5h3v3h-3zM676.5 2122.5h3v3h-3zM676.5 2125.5h3v3h-3zM676.5 2131.5h3v3h-3zM679.5 2104.5h3v3h-3zM679.5 2107.5h3v3h-3zM679.5 2110.5h3v3h-3zM679.5 2113.5h3v3h-3zM679.5 2116.5h3v3h-3zM679.5 2119.5h3v3h-3zM679.5 2122.5h3v3h-3zM679.5 2125.5h3v3h-3zM679.5 2128.5h3v3h-3zM682.5 2104.5h3v3h-3zM682.5 2107.5h3v3h-3zM682.5 2110.5h3v3h-3zM682.5 2113.5h3v3h-3zM682.5 2116.5h3v3h-3zM682.5 2119.5h3v3h-3zM682.5 2122.5h3v3h-3zM682.5 2128.5h3v3h-3zM682.5 2131.5h3v3h-3zM682.5 2137.5h3v3h-3zM682.5 2140.5h3v3h-3zM685.5 2101.5h3v3h-3zM685.5 2110.5h3v3h-3zM685.5 2113.5h3v3h-3zM685.5 2116.5h3v3h-3zM685.5 2119.5h3v3h-3zM685.5 2122.5h3v3h-3zM685.5 2125.5h3v3h-3zM685.5 2131.5h3v3h-3zM685.5 2134.5h3v3h-3zM685.5 2137.5h3v3h-3zM688.5 2101.5h3v3h-3zM688.5 2107.5h3v3h-3zM688.5 2110.5h3v3h-3zM688.5 2113.5h3v3h-3zM688.5 2116.5h3v3h-3zM688.5 2119.5h3v3h-3zM688.5 2122.5h3v3h-3zM688.5 2125.5h3v3h-3zM688.5 2128.5h3v3h-3zM688.5 2131.5h3v3h-3zM688.5 2134.5h3v3h-3zM688.5 2137.5h3v3h-3zM688.5 2140.5h3v3h-3zM691.5 2104.5h3v3h-3zM691.5 2107.5h3v3h-3zM691.5 2110.5h3v3h-3zM691.5 2113.5h3v3h-3zM691.5 2116.5h3v3h-3zM691.5 2119.5h3v3h-3zM691.5 2122.5h3v3h-3zM691.5 2125.5h3v3h-3zM691.5 2128.5h3v3h-3zM691.5 2131.5h3v3h-3zM691.5 2134.5h3v3h-3zM691.5 2143.5h3v3h-3zM694.5 2107.5h3v3h-3zM694.5 2110.5h3v3h-3zM694.5 2113.5h3v3h-3zM694.5 2119.5h3v3h-3zM694.5 2122.5h3v3h-3zM694.5 2128.5h3v3h-3zM694.5 2131.5h3v3h-3zM694.5 2134.5h3v3h-3zM694.5 2140.5h3v3h-3zM697.5 2101.5h3v3h-3zM697.5 2107.5h3v3h-3zM697.5 2110.5h3v3h-3zM697.5 2113.5h3v3h-3zM697.5 2119.5h3v3h-3zM697.5 2122.5h3v3h-3zM697.5 2125.5h3v3h-3zM697.5 2128.5h3v3h-3zM697.5 2131.5h3v3h-3zM697.5 2134.5h3v3h-3zM697.5 2137.5h3v3h-3zM697.5 2140.5h3v3h-3zM697.5 2143.5h3v3h-3zM697.5 2146.5h3v3h-3zM700.5 2107.5h3v3h-3zM700.5 2110.5h3v3h-3zM700.5 2113.5h3v3h-3zM700.5 2116.5h3v3h-3zM700.5 2119.5h3v3h-3zM700.5 2122.5h3v3h-3zM700.5 2128.5h3v3h-3zM700.5 2131.5h3v3h-3zM700.5 2134.5h3v3h-3zM700.5 2137.5h3v3h-3zM700.5 2140.5h3v3h-3zM700.5 2143.5h3v3h-3zM703.5 2104.5h3v3h-3zM703.5 2110.5h3v3h-3zM703.5 2113.5h3v3h-3zM703.5 2116.5h3v3h-3zM703.5 2119.5h3v3h-3zM703.5 2122.5h3v3h-3zM703.5 2125.5h3v3h-3zM703.5 2128.5h3v3h-3zM703.5 2131.5h3v3h-3zM703.5 2134.5h3v3h-3zM703.5 2140.5h3v3h-3zM703.5 2143.5h3v3h-3zM706.5 2104.5h3v3h-3zM706.5 2110.5h3v3h-3zM706.5 2116.5h3v3h-3zM706.5 2119.5h3v3h-3zM706.5 2122.5h3v3h-3zM706.5 2125.5h3v3h-3zM706.5 2128.5h3v3h-3zM706.5 2131.5h3v3h-3zM706.5 2134.5h3v3h-3zM706.5 2137.5h3v3h-3zM706.5 2140.5h3v3h-3zM706.5 2143.5h3v3h-3zM709.5 2104.5h3v3h-3zM709.5 2110.5h3v3h-3zM709.5 2113.5h3v3h-3zM709.5 2116.5h3v3h-3zM709.5 2122.5h3v3h-3zM709.5 2131.5h3v3h-3zM709.5 2140.5h3v3h-3zM709.5 2143.5h3v3h-3zM709.5 2146.5h3v3h-3zM709.5 2149.5h3v3h-3zM712.5 2107.5h3v3h-3zM712.5 2110.5h3v3h-3zM712.5 2113.5h3v3h-3zM712.5 2119.5h3v3h-3zM712.5 2125.5h3v3h-3zM712.5 2128.5h3v3h-3zM712.5 2131.5h3v3h-3zM712.5 2134.5h3v3h-3zM712.5 2137.5h3v3h-3zM712.5 2140.5h3v3h-3zM712.5 2143.5h3v3h-3zM712.5 2149.5h3v3h-3zM712.5 2152.5h3v3h-3zM712.5 2155.5h3v3h-3zM715.5 2110.5h3v3h-3zM715.5 2113.5h3v3h-3zM715.5 2116.5h3v3h-3zM715.5 2119.5h3v3h-3zM715.5 2122.5h3v3h-3zM715.5 2125.5h3v3h-3zM715.5 2128.5h3v3h-3zM715.5 2131.5h3v3h-3zM715.5 2134.5h3v3h-3zM715.5 2137.5h3v3h-3zM715.5 2140.5h3v3h-3zM715.5 2146.5h3v3h-3zM715.5 2152.5h3v3h-3zM718.5 2101.5h3v3h-3zM718.5 2104.5h3v3h-3zM718.5 2107.5h3v3h-3zM718.5 2110.5h3v3h-3zM718.5 2113.5h3v3h-3zM718.5 2116.5h3v3h-3zM718.5 2119.5h3v3h-3zM718.5 2122.5h3v3h-3zM718.5 2125.5h3v3h-3zM718.5 2131.5h3v3h-3zM718.5 2134.5h3v3h-3zM718.5 2137.5h3v3h-3zM718.5 2143.5h3v3h-3zM718.5 2146.5h3v3h-3zM718.5 2149.5h3v3h-3zM718.5 2158.5h3v3h-3zM721.5 2104.5h3v3h-3zM721.5 2113.5h3v3h-3zM721.5 2116.5h3v3h-3zM721.5 2122.5h3v3h-3zM721.5 2125.5h3v3h-3zM721.5 2128.5h3v3h-3zM721.5 2134.5h3v3h-3zM721.5 2137.5h3v3h-3zM721.5 2140.5h3v3h-3zM721.5 2143.5h3v3h-3zM721.5 2146.5h3v3h-3zM721.5 2152.5h3v3h-3zM721.5 2155.5h3v3h-3zM721.5 2158.5h3v3h-3zM724.5 2104.5h3v3h-3zM724.5 2110.5h3v3h-3zM724.5 2113.5h3v3h-3zM724.5 2119.5h3v3h-3zM724.5 2122.5h3v3h-3zM724.5 2125.5h3v3h-3zM724.5 2128.5h3v3h-3zM724.5 2134.5h3v3h-3zM724.5 2137.5h3v3h-3zM724.5 2140.5h3v3h-3zM724.5 2143.5h3v3h-3zM724.5 2146.5h3v3h-3zM724.5 2152.5h3v3h-3zM724.5 2155.5h3v3h-3zM724.5 2158.5h3v3h-3zM727.5 2107.5h3v3h-3zM727.5 2110.5h3v3h-3zM727.5 2113.5h3v3h-3zM727.5 2116.5h3v3h-3zM727.5 2119.5h3v3h-3zM727.5 2122.5h3v3h-3zM727.5 2128.5h3v3h-3zM727.5 2134.5h3v3h-3zM727.5 2137.5h3v3h-3zM727.5 2143.5h3v3h-3zM727.5 2146.5h3v3h-3zM727.5 2149.5h3v3h-3zM727.5 2152.5h3v3h-3zM727.5 2158.5h3v3h-3zM730.5 2107.5h3v3h-3zM730.5 2113.5h3v3h-3zM730.5 2116.5h3v3h-3zM730.5 2122.5h3v3h-3zM730.5 2125.5h3v3h-3zM730.5 2128.5h3v3h-3zM730.5 2131.5h3v3h-3zM730.5 2134.5h3v3h-3zM730.5 2137.5h3v3h-3zM730.5 2140.5h3v3h-3zM730.5 2143.5h3v3h-3zM730.5 2146.5h3v3h-3zM730.5 2152.5h3v3h-3zM730.5 2155.5h3v3h-3zM733.5 2104.5h3v3h-3zM733.5 2107.5h3v3h-3zM733.5 2110.5h3v3h-3zM733.5 2113.5h3v3h-3zM733.5 2119.5h3v3h-3zM733.5 2122.5h3v3h-3zM733.5 2125.5h3v3h-3zM733.5 2128.5h3v3h-3zM733.5 2131.5h3v3h-3zM733.5 2134.5h3v3h-3zM733.5 2140.5h3v3h-3zM733.5 2146.5h3v3h-3zM733.5 2155.5h3v3h-3zM733.5 2161.5h3v3h-3zM736.5 2098.5h3v3h-3zM736.5 2104.5h3v3h-3zM736.5 2107.5h3v3h-3zM736.5 2110.5h3v3h-3zM736.5 2113.5h3v3h-3zM736.5 2116.5h3v3h-3zM736.5 2119.5h3v3h-3zM736.5 2122.5h3v3h-3zM736.5 2131.5h3v3h-3zM736.5 2134.5h3v3h-3zM736.5 2137.5h3v3h-3zM736.5 2140.5h3v3h-3zM736.5 2143.5h3v3h-3zM736.5 2146.5h3v3h-3zM736.5 2149.5h3v3h-3zM736.5 2152.5h3v3h-3zM739.5 2101.5h3v3h-3zM739.5 2104.5h3v3h-3zM739.5 2107.5h3v3h-3zM739.5 2110.5h3v3h-3zM739.5 2116.5h3v3h-3zM739.5 2119.5h3v3h-3zM739.5 2122.5h3v3h-3zM739.5 2125.5h3v3h-3zM739.5 2128.5h3v3h-3zM739.5 2131.5h3v3h-3zM739.5 2134.5h3v3h-3zM739.5 2146.5h3v3h-3zM739.5 2149.5h3v3h-3zM739.5 2152.5h3v3h-3zM739.5 2155.5h3v3h-3zM742.5 2104.5h3v3h-3zM742.5 2110.5h3v3h-3zM742.5 2113.5h3v3h-3zM742.5 2116.5h3v3h-3zM742.5 2119.5h3v3h-3zM742.5 2122.5h3v3h-3zM742.5 2125.5h3v3h-3zM742.5 2128.5h3v3h-3zM742.5 2131.5h3v3h-3zM742.5 2134.5h3v3h-3zM742.5 2137.5h3v3h-3zM742.5 2140.5h3v3h-3zM742.5 2143.5h3v3h-3zM742.5 2146.5h3v3h-3zM742.5 2155.5h3v3h-3zM745.5 2101.5h3v3h-3zM745.5 2110.5h3v3h-3zM745.5 2113.5h3v3h-3zM745.5 2116.5h3v3h-3zM745.5 2119.5h3v3h-3zM745.5 2122.5h3v3h-3zM745.5 2131.5h3v3h-3zM745.5 2137.5h3v3h-3zM745.5 2140.5h3v3h-3zM745.5 2143.5h3v3h-3zM745.5 2146.5h3v3h-3zM745.5 2149.5h3v3h-3zM748.5 2101.5h3v3h-3zM748.5 2107.5h3v3h-3zM748.5 2110.5h3v3h-3zM748.5 2113.5h3v3h-3zM748.5 2116.5h3v3h-3zM748.5 2119.5h3v3h-3zM748.5 2125.5h3v3h-3zM748.5 2128.5h3v3h-3zM748.5 2131.5h3v3h-3zM748.5 2134.5h3v3h-3zM748.5 2140.5h3v3h-3zM748.5 2143.5h3v3h-3zM748.5 2149.5h3v3h-3zM751.5 2107.5h3v3h-3zM751.5 2116.5h3v3h-3zM751.5 2122.5h3v3h-3zM751.5 2125.5h3v3h-3zM751.5 2128.5h3v3h-3zM751.5 2131.5h3v3h-3zM751.5 2134.5h3v3h-3zM751.5 2137.5h3v3h-3zM751.5 2140.5h3v3h-3zM751.5 2143.5h3v3h-3zM751.5 2146.5h3v3h-3zM751.5 2149.5h3v3h-3zM751.5 2152.5h3v3h-3zM754.5 2101.5h3v3h-3zM754.5 2107.5h3v3h-3zM754.5 2110.5h3v3h-3zM754.5 2113.5h3v3h-3zM754.5 2116.5h3v3h-3zM754.5 2119.5h3v3h-3zM754.5 2125.5h3v3h-3zM754.5 2128.5h3v3h-3zM754.5 2131.5h3v3h-3zM754.5 2134.5h3v3h-3zM754.5 2137.5h3v3h-3zM754.5 2143.5h3v3h-3zM754.5 2146.5h3v3h-3zM757.5 2101.5h3v3h-3zM757.5 2107.5h3v3h-3zM757.5 2110.5h3v3h-3zM757.5 2113.5h3v3h-3zM757.5 2116.5h3v3h-3zM757.5 2122.5h3v3h-3zM757.5 2125.5h3v3h-3zM757.5 2128.5h3v3h-3zM757.5 2131.5h3v3h-3zM757.5 2134.5h3v3h-3zM757.5 2137.5h3v3h-3zM757.5 2140.5h3v3h-3zM757.5 2143.5h3v3h-3zM757.5 2149.5h3v3h-3zM757.5 2152.5h3v3h-3zM760.5 2107.5h3v3h-3zM760.5 2110.5h3v3h-3zM760.5 2113.5h3v3h-3zM760.5 2116.5h3v3h-3zM760.5 2119.5h3v3h-3zM760.5 2122.5h3v3h-3zM760.5 2128.5h3v3h-3zM760.5 2131.5h3v3h-3zM760.5 2134.5h3v3h-3zM760.5 2140.5h3v3h-3zM760.5 2146.5h3v3h-3zM760.5 2149.5h3v3h-3zM763.5 2104.5h3v3h-3zM763.5 2113.5h3v3h-3zM763.5 2116.5h3v3h-3zM763.5 2119.5h3v3h-3zM763.5 2131.5h3v3h-3zM763.5 2134.5h3v3h-3zM763.5 2137.5h3v3h-3zM763.5 2140.5h3v3h-3zM763.5 2143.5h3v3h-3zM763.5 2146.5h3v3h-3zM763.5 2149.5h3v3h-3zM763.5 2152.5h3v3h-3zM766.5 2098.5h3v3h-3zM766.5 2101.5h3v3h-3zM766.5 2107.5h3v3h-3zM766.5 2110.5h3v3h-3zM766.5 2113.5h3v3h-3zM766.5 2116.5h3v3h-3zM766.5 2119.5h3v3h-3zM766.5 2122.5h3v3h-3zM766.5 2125.5h3v3h-3zM766.5 2128.5h3v3h-3zM766.5 2131.5h3v3h-3zM766.5 2134.5h3v3h-3zM766.5 2137.5h3v3h-3zM766.5 2140.5h3v3h-3zM766.5 2143.5h3v3h-3zM766.5 2146.5h3v3h-3zM769.5 2104.5h3v3h-3zM769.5 2110.5h3v3h-3zM769.5 2113.5h3v3h-3zM769.5 2116.5h3v3h-3zM769.5 2119.5h3v3h-3zM769.5 2122.5h3v3h-3zM769.5 2125.5h3v3h-3zM769.5 2128.5h3v3h-3zM769.5 2131.5h3v3h-3zM769.5 2134.5h3v3h-3zM769.5 2137.5h3v3h-3zM769.5 2143.5h3v3h-3zM769.5 2146.5h3v3h-3zM769.5 2149.5h3v3h-3zM772.5 2104.5h3v3h-3zM772.5 2107.5h3v3h-3zM772.5 2110.5h3v3h-3zM772.5 2113.5h3v3h-3zM772.5 2116.5h3v3h-3zM772.5 2122.5h3v3h-3zM772.5 2125.5h3v3h-3zM772.5 2128.5h3v3h-3zM772.5 2131.5h3v3h-3zM772.5 2134.5h3v3h-3zM772.5 2137.5h3v3h-3zM772.5 2140.5h3v3h-3zM775.5 2101.5h3v3h-3zM775.5 2104.5h3v3h-3zM775.5 2107.5h3v3h-3zM775.5 2110.5h3v3h-3zM775.5 2113.5h3v3h-3zM775.5 2116.5h3v3h-3zM775.5 2119.5h3v3h-3zM775.5 2122.5h3v3h-3zM775.5 2125.5h3v3h-3zM778.5 2101.5h3v3h-3zM778.5 2104.5h3v3h-3zM778.5 2107.5h3v3h-3zM778.5 2110.5h3v3h-3zM778.5 2113.5h3v3h-3zM778.5 2116.5h3v3h-3zM778.5 2119.5h3v3h-3zM778.5 2122.5h3v3h-3zM778.5 2125.5h3v3h-3zM778.5 2134.5h3v3h-3zM778.5 2137.5h3v3h-3zM778.5 2140.5h3v3h-3zM781.5 2101.5h3v3h-3zM781.5 2104.5h3v3h-3zM781.5 2107.5h3v3h-3zM781.5 2110.5h3v3h-3zM781.5 2113.5h3v3h-3zM781.5 2116.5h3v3h-3zM781.5 2119.5h3v3h-3zM781.5 2122.5h3v3h-3zM781.5 2125.5h3v3h-3zM781.5 2128.5h3v3h-3zM781.5 2131.5h3v3h-3zM781.5 2134.5h3v3h-3zM781.5 2140.5h3v3h-3zM784.5 2104.5h3v3h-3zM784.5 2107.5h3v3h-3zM784.5 2110.5h3v3h-3zM784.5 2113.5h3v3h-3zM784.5 2116.5h3v3h-3zM784.5 2119.5h3v3h-3zM784.5 2122.5h3v3h-3zM784.5 2128.5h3v3h-3zM784.5 2131.5h3v3h-3zM784.5 2134.5h3v3h-3zM787.5 2098.5h3v3h-3zM787.5 2101.5h3v3h-3zM787.5 2104.5h3v3h-3zM787.5 2107.5h3v3h-3zM787.5 2110.5h3v3h-3zM787.5 2113.5h3v3h-3zM787.5 2119.5h3v3h-3zM787.5 2122.5h3v3h-3zM787.5 2125.5h3v3h-3zM787.5 2128.5h3v3h-3zM787.5 2131.5h3v3h-3zM790.5 2104.5h3v3h-3zM790.5 2107.5h3v3h-3zM790.5 2110.5h3v3h-3zM790.5 2113.5h3v3h-3zM790.5 2116.5h3v3h-3zM790.5 2119.5h3v3h-3zM790.5 2122.5h3v3h-3zM790.5 2125.5h3v3h-3zM790.5 2128.5h3v3h-3zM790.5 2131.5h3v3h-3zM793.5 2104.5h3v3h-3zM793.5 2107.5h3v3h-3zM793.5 2110.5h3v3h-3zM793.5 2113.5h3v3h-3zM793.5 2116.5h3v3h-3zM793.5 2119.5h3v3h-3zM793.5 2122.5h3v3h-3zM793.5 2125.5h3v3h-3zM796.5 2101.5h3v3h-3zM796.5 2104.5h3v3h-3zM796.5 2107.5h3v3h-3zM796.5 2110.5h3v3h-3zM796.5 2113.5h3v3h-3zM796.5 2116.5h3v3h-3zM796.5 2119.5h3v3h-3zM796.5 2122.5h3v3h-3zM796.5 2125.5h3v3h-3zM796.5 2128.5h3v3h-3zM796.5 2131.5h3v3h-3zM799.5 2098.5h3v3h-3zM799.5 2101.5h3v3h-3zM799.5 2107.5h3v3h-3zM799.5 2110.5h3v3h-3zM799.5 2113.5h3v3h-3zM799.5 2116.5h3v3h-3zM799.5 2119.5h3v3h-3zM799.5 2125.5h3v3h-3zM802.5 2101.5h3v3h-3zM802.5 2104.5h3v3h-3zM802.5 2107.5h3v3h-3zM802.5 2110.5h3v3h-3zM802.5 2113.5h3v3h-3zM802.5 2116.5h3v3h-3zM802.5 2119.5h3v3h-3zM802.5 2122.5h3v3h-3zM805.5 2101.5h3v3h-3zM805.5 2104.5h3v3h-3zM805.5 2107.5h3v3h-3zM805.5 2110.5h3v3h-3zM805.5 2113.5h3v3h-3zM805.5 2116.5h3v3h-3zM805.5 2119.5h3v3h-3zM808.5 2098.5h3v3h-3zM808.5 2101.5h3v3h-3zM808.5 2104.5h3v3h-3zM808.5 2107.5h3v3h-3zM808.5 2110.5h3v3h-3zM808.5 2113.5h3v3h-3zM808.5 2116.5h3v3h-3zM811.5 2101.5h3v3h-3zM811.5 2104.5h3v3h-3zM811.5 2107.5h3v3h-3zM811.5 2110.5h3v3h-3zM811.5 2113.5h3v3h-3zM811.5 2116.5h3v3h-3zM814.5 2101.5h3v3h-3zM814.5 2104.5h3v3h-3zM814.5 2107.5h3v3h-3zM814.5 2110.5h3v3h-3zM814.5 2113.5h3v3h-3zM817.5 2101.5h3v3h-3zM817.5 2104.5h3v3h-3zM817.5 2107.5h3v3h-3zM817.5 2110.5h3v3h-3zM820.5 2098.5h3v3h-3zM820.5 2101.5h3v3h-3zM820.5 2104.5h3v3h-3zM820.5 2107.5h3v3h-3zM823.5 2104.5h3v3h-3zM823.5 2107.5h3v3h-3zM829.5 2083.5h3v3h-3zM829.5 2086.5h3v3h-3zM829.5 2089.5h3v3h-3zM829.5 2095.5h3v3h-3zM832.5 2074.5h3v3h-3zM832.5 2083.5h3v3h-3zM835.5 2074.5h3v3h-3zM835.5 2077.5h3v3h-3zM835.5 2080.5h3v3h-3zM835.5 2086.5h3v3h-3zM838.5 2068.5h3v3h-3zM838.5 2071.5h3v3h-3zM838.5 2080.5h3v3h-3zM841.5 2062.5h3v3h-3zM841.5 2074.5h3v3h-3zM844.5 2059.5h3v3h-3zM844.5 2068.5h3v3h-3zM847.5 2050.5h3v3h-3zM847.5 2059.5h3v3h-3zM850.5 2044.5h3v3h-3zM850.5 2047.5h3v3h-3zM853.5 2038.5h3v3h-3zM853.5 2053.5h3v3h-3zM856.5 2035.5h3v3h-3zM856.5 2038.5h3v3h-3zM856.5 2044.5h3v3h-3zM859.5 2029.5h3v3h-3zM859.5 2032.5h3v3h-3zM859.5 2038.5h3v3h-3zM859.5 2041.5h3v3h-3zM862.5 2020.5h3v3h-3zM862.5 2029.5h3v3h-3zM865.5 2014.5h3v3h-3zM865.5 2023.5h3v3h-3zM868.5 2002.5h3v3h-3zM868.5 2005.5h3v3h-3zM868.5 2011.5h3v3h-3zM868.5 2014.5h3v3h-3zM874.5 1993.5h3v3h-3zM877.5 1966.5h3v3h-3zM877.5 1978.5h3v3h-3zM880.5 1951.5h3v3h-3zM880.5 1957.5h3v3h-3zM880.5 1960.5h3v3h-3zM880.5 1966.5h3v3h-3zM883.5 1948.5h3v3h-3zM883.5 1951.5h3v3h-3zM883.5 1957.5h3v3h-3zM886.5 1942.5h3v3h-3zM889.5 1930.5h3v3h-3zM889.5 1936.5h3v3h-3zM889.5 1939.5h3v3h-3zM889.5 1942.5h3v3h-3zM892.5 1924.5h3v3h-3zM892.5 1933.5h3v3h-3zM895.5 1906.5h3v3h-3zM895.5 1912.5h3v3h-3zM895.5 1915.5h3v3h-3zM895.5 1918.5h3v3h-3zM895.5 1927.5h3v3h-3zM898.5 1903.5h3v3h-3zM898.5 1906.5h3v3h-3zM901.5 1891.5h3v3h-3zM901.5 1894.5h3v3h-3zM901.5 1900.5h3v3h-3zM901.5 1909.5h3v3h-3zM904.5 1891.5h3v3h-3zM904.5 1894.5h3v3h-3zM904.5 1897.5h3v3h-3zM904.5 1900.5h3v3h-3zM907.5 1882.5h3v3h-3zM907.5 1885.5h3v3h-3zM907.5 1888.5h3v3h-3zM907.5 1891.5h3v3h-3zM910.5 1870.5h3v3h-3zM910.5 1876.5h3v3h-3zM913.5 1855.5h3v3h-3zM913.5 1861.5h3v3h-3zM913.5 1864.5h3v3h-3zM916.5 1849.5h3v3h-3zM916.5 1852.5h3v3h-3zM916.5 1858.5h3v3h-3zM916.5 1861.5h3v3h-3zM919.5 1849.5h3v3h-3zM919.5 1852.5h3v3h-3zM919.5 1855.5h3v3h-3zM922.5 1831.5h3v3h-3zM922.5 1837.5h3v3h-3zM925.5 1828.5h3v3h-3zM925.5 1831.5h3v3h-3zM925.5 1837.5h3v3h-3zM928.5 1819.5h3v3h-3zM928.5 1822.5h3v3h-3zM928.5 1825.5h3v3h-3zM928.5 1828.5h3v3h-3zM931.5 1810.5h3v3h-3zM931.5 1813.5h3v3h-3zM931.5 1819.5h3v3h-3zM931.5 1822.5h3v3h-3zM934.5 1804.5h3v3h-3zM934.5 1807.5h3v3h-3zM934.5 1810.5h3v3h-3zM934.5 1816.5h3v3h-3zM937.5 1798.5h3v3h-3zM937.5 1810.5h3v3h-3zM940.5 1792.5h3v3h-3zM940.5 1798.5h3v3h-3zM943.5 1789.5h3v3h-3zM943.5 1795.5h3v3h-3zM943.5 1798.5h3v3h-3zM946.5 1789.5h3v3h-3zM946.5 1792.5h3v3h-3zM949.5 1771.5h3v3h-3zM949.5 1783.5h3v3h-3zM952.5 1768.5h3v3h-3zM952.5 1774.5h3v3h-3zM952.5 1777.5h3v3h-3zM955.5 1765.5h3v3h-3zM955.5 1768.5h3v3h-3zM955.5 1774.5h3v3h-3zM958.5 1753.5h3v3h-3zM958.5 1756.5h3v3h-3zM958.5 1762.5h3v3h-3zM958.5 1765.5h3v3h-3zM958.5 1768.5h3v3h-3zM961.5 1756.5h3v3h-3zM961.5 1759.5h3v3h-3zM961.5 1762.5h3v3h-3zM964.5 1747.5h3v3h-3zM964.5 1753.5h3v3h-3zM967.5 1747.5h3v3h-3zM970.5 1741.5h3v3h-3zM973.5 1732.5h3v3h-3zM973.5 1735.5h3v3h-3zM973.5 1741.5h3v3h-3zM973.5 1744.5h3v3h-3zM976.5 1726.5h3v3h-3zM976.5 1732.5h3v3h-3zM976.5 1735.5h3v3h-3zM979.5 1726.5h3v3h-3zM979.5 1729.5h3v3h-3zM982.5 1717.5h3v3h-3zM982.5 1732.5h3v3h-3zM985.5 1717.5h3v3h-3zM985.5 1723.5h3v3h-3zM988.5 1720.5h3v3h-3z" fill="#0000ff"/>
<path d="M405 1673h42v42h-42zM547.9 1837.3h42v42h-42zM690.7 2080.7h42v42h-42zM833.6 2010h42v42h-42zM976.5 1694.5h42v42h-42zM1119.3 1858.7h42v42h-42zM1262.2 2097.7h42v42h-42zM1405.1 2027.2h42v42h-42zM1548 1707.3h42v42h-42zM1690.8 1872h42v42h-42zM1833.7 2112.4h42v42h-42zM1976.6 2040.3h42v42h-42z" stroke="#222" stroke-width="3.4" fill="none"/>
<path d="M284.3 2011L287.7 2011L287.7 2013.3L291 2013.3L291 2010.2L294.4 2010.2L294.4 2003.5L297.7 2003.5L297.7 1989.3L301.1 1989.3L301.1 1986L304.4 1986L304.4 1980.4L307.8 1980.4L307.8 1973.9L311.1 1973.9L311.1 1959.3L314.5 1959.3L314.5 1954.2L317.8 1954.2L317.8 1944.2L321.2 1944.2L321.2 1933.5L324.5 1933.5L324.5 1915.5L327.9 1915.5L327.9 1907.3L331.2 1907.3L331.2 1897.3L334.6 1897.3L334.6 1886.7L337.9 1886.7L337.9 1869.3L341.3 1869.3L341.3 1864.5L344.6 1864.5L344.6 1857.9L348 1857.9L348 1850.5L351.3 1850.5L351.3 1835.4L354.7 1835.4L354.7 1831L358 1831L358 1824.4L361.4 1824.4L361.4 1817.2L364.7 1817.2L364.7 1803.2L368.1 1803.2L368.1 1800.9L371.4 1800.9L371.4 1795.9L374.8 1795.9L374.8 1790.1L378.1 1790.1L378.1 1776.4L381.5 1776.4L381.5 1774.1L384.8 1774.1L384.8 1769.2L388.2 1769.2L388.2 1764.3L391.5 1764.3L391.5 1751.5L394.9 1751.5L394.9 1750.6L398.2 1750.6L398.2 1746.8L401.6 1746.8L401.6 1742.2L404.9 1742.2L404.9 1729.5L408.3 1729.5L408.3 1728.6L411.6 1728.6L411.6 1726.6L415 1726.6L415 1724.3L418.3 1724.3L418.3 1713.4L421.7 1713.4L421.7 1715.8L425 1715.8L425 1714.6L428.4 1714.6L428.4 1712.2L431.7 1712.2L431.7 1701.5L435.1 1701.5L435.1 1706L438.4 1706L438.4 1706.5L441.8 1706.5L441.8 1705.5L445.1 1705.5L445.1 1695.8L448.5 1695.8L448.5 1700.7L451.8 1700.7L451.8 1701.6L455.2 1701.6L455.2 1701.8L458.5 1701.8L458.5 1696.5L461.9 1696.5L461.9 1703.4L465.2 1703.4L465.2 1706L468.6 1706L468.6 1707.1L471.9 1707.1L471.9 1702.6L475.3 1702.6L475.3 1709.4L478.6 1709.4L478.6 1712.5L482 1712.5L482 1715.4L485.3 1715.4L485.3 1715.5L488.7 1715.5L488.7 1723L492 1723L492 1727.1L495.4 1727.1L495.4 1730.1L498.7 1730.1L498.7 1730.6L502.1 1730.6L502.1 1738.3L505.4 1738.3L505.4 1744.3L508.8 1744.3L508.8 1749.4L512.1 1749.4L512.1 1753.5L515.5 1753.5L515.5 1762.3L518.8 1762.3L518.8 1768.4L522.2 1768.4L522.2 1773.5L525.5 1773.5L525.5 1778L528.9 1778L528.9 1787.7L532.2 1787.7L532.2 1794.9L535.6 1794.9L535.6 1801.4L538.9 1801.4L538.9 1807.5L542.3 1807.5L542.3 1817.2L545.6 1817.2L545.6 1824.4L549 1824.4L549 1830.9L552.3 1830.9L552.3 1838.5L555.7 1838.5L555.7 1849.5L559 1849.5L559 1858.2L562.4 1858.2L562.4 1866.3L565.7 1866.3L565.7 1874.7L569.1 1874.7L569.1 1885.6L572.4 1885.6L572.4 1894.4L575.8 1894.4L575.8 1903L579.1 1903L579.1 1913.1L582.5 1913.1L582.5 1925.1L585.8 1925.1L585.8 1935.1L589.2 1935.1L589.2 1944.4L592.5 1944.4L592.5 1954.6L595.9 1954.6L595.9 1966.6L599.2 1966.6L599.2 1976.6L602.6 1976.6L602.6 1985.6L605.9 1985.6L605.9 1995.3L609.3 1995.3L609.3 2007.1L612.6 2007.1L612.6 2016.8L616 2016.8L616 2025.8L619.3 2025.8L619.3 2035.5L622.7 2035.5L622.7 2047.3L626 2047.3L626 2056L629.4 2056L629.4 2064L632.7 2064L632.7 2072.2L636.1 2072.2L636.1 2083.1L639.4 2083.1L639.4 2091L642.8 2091L642.8 2094.3L646.1 2101.9L646.1 2101.9L649.5 2109.5L649.5 2109.5L652.8 2117.1L652.8 2117.1L656.2 2124.8L656.2 2124.8L659.5 2132.4L659.5 2132.4L662.9 2140L662.9 2140L666.2 2147.6L666.2 2147.6L667.9 2151.5L667.9 2159L666.2 2156.8L666.2 2156.8L662.9 2152.4L662.9 2152.4L659.5 2148L659.5 2148L656.2 2143.6L656.2 2143.6L652.8 2139.2L652.8 2139.2L649.5 2134.8L649.5 2134.8L646.1 2130.3L646.1 2130.3L642.8 2125.9L642.8 2120.2L639.4 2120.2L639.4 2120.1L636.1 2120.1L636.1 2116.2L632.7 2116.2L632.7 2109.1L629.4 2109.1L629.4 2098.5L626 2098.5L626 2096.2L622.7 2096.2L622.7 2089.6L619.3 2089.6L619.3 2079.8L616 2079.8L616 2069L612.6 2069L612.6 2066.1L609.3 2066.1L609.3 2059.3L605.9 2059.3L605.9 2049.4L602.6 2049.4L602.6 2038.7L599.2 2038.7L599.2 2036.1L595.9 2036.1L595.9 2029.6L592.5 2029.6L592.5 2020.2L589.2 2020.2L589.2 2009.9L585.8 2009.9L585.8 2007.3L582.5 2007.3L582.5 2000.8L579.1 2000.8L579.1 1991.5L575.8 1991.5L575.8 1981.2L572.4 1981.2L572.4 1979.3L569.1 1979.3L569.1 1973.3L565.7 1973.3L565.7 1964.4L562.4 1964.4L562.4 1954.3L559 1954.3L559 1952.5L555.7 1952.5L555.7 1946.6L552.3 1946.6L552.3 1938.4L549 1938.4L549 1929.3L545.6 1929.3L545.6 1929.6L542.3 1929.6L542.3 1925.2L538.9 1925.2L538.9 1918.3L535.6 1918.3L535.6 1909.2L532.2 1909.2L532.2 1909.5L528.9 1909.5L528.9 1905.2L525.5 1905.2L525.5 1898.1L522.2 1898.1L522.2 1888.6L518.8 1888.6L518.8 1889.5L515.5 1889.5L515.5 1885.2L512.1 1885.2L512.1 1878L508.8 1878L508.8 1868.5L505.4 1868.5L505.4 1869.5L502.1 1869.5L502.1 1867.3L498.7 1867.3L498.7 1863.3L495.4 1863.3L495.4 1855L492 1855L492 1859.5L488.7 1859.5L488.7 1857.6L485.3 1857.6L485.3 1854L482 1854L482 1845.3L478.6 1845.3L478.6 1850.8L475.3 1850.8L475.3 1849.9L471.9 1849.9L471.9 1847.5L468.6 1847.5L468.6 1838.2L465.2 1838.2L465.2 1845.5L461.9 1845.5L461.9 1844.5L458.5 1844.5L458.5 1842.6L455.2 1842.6L455.2 1832.5L451.8 1832.5L451.8 1842.6L448.5 1842.6L448.5 1843.1L445.1 1843.1L445.1 1844.4L441.8 1844.4L441.8 1836.4L438.4 1836.4L438.4 1845.5L435.1 1845.5L435.1 1846L431.7 1846L431.7 1848.6L428.4 1848.6L428.4 1843.7L425 1843.7L425 1852.7L421.7 1852.7L421.7 1854.7L418.3 1854.7L418.3 1858.7L415 1858.7L415 1854.1L411.6 1854.1L411.6 1862.7L408.3 1862.7L408.3 1866.4L404.9 1866.4L404.9 1873.1L401.6 1873.1L401.6 1871.7L398.2 1871.7L398.2 1881.2L394.9 1881.2L394.9 1885.3L391.5 1885.3L391.5 1892.2L388.2 1892.2L388.2 1891.1L384.8 1891.1L384.8 1900.7L381.5 1900.7L381.5 1905.3L378.1 1905.3L378.1 1912.8L374.8 1912.8L374.8 1912.5L371.4 1912.5L371.4 1922.1L368.1 1922.1L368.1 1926.8L364.7 1926.8L364.7 1934.3L361.4 1934.3L361.4 1935.1L358 1935.1L358 1945.4L354.7 1945.4L354.7 1951.3L351.3 1951.3L351.3 1960.4L348 1960.4L348 1961.9L344.6 1961.9L344.6 1972.2L341.3 1972.2L341.3 1978.2L337.9 1978.2L337.9 1987.4L334.6 1987.4L334.6 1991.5L331.2 1991.5L331.2 2002.6L327.9 2002.6L327.9 2010.2L324.5 2010.2L324.5 2020.9L321.2 2020.9L321.2 2025L317.8 2025L317.8 2036.1L314.5 2036.1L314.5 2043.5L311.1 2043.5L311.1 2050.6L307.8 2050.6L307.8 2049.9L304.4 2049.9L304.4 2058.5L301.1 2058.5L301.1 2062.5L297.7 2062.5L297.7 2066L294.4 2066L294.4 2057.4L291 2057.4L291 2059.3L287.7 2059.3L287.7 2056.4L284.3 2056.4 Z" fill="#ff0000"/>
<path d="M829.7 2096.5L833.1 2090.4L833.1 2090.4L836.4 2084.2L836.4 2082.6L839.8 2082.6L839.8 2077.6L843.1 2077.6L843.1 2064.4L846.5 2064.4L846.5 2062.8L849.8 2062.8L849.8 2058.4L853.2 2058.4L853.2 2053.1L856.5 2053.1L856.5 2039.7L859.9 2039.7L859.9 2038L863.2 2038L863.2 2030.2L866.6 2030.2L866.6 2021.6L869.9 2021.6L869.9 2004.9L873.3 2004.9L873.3 1994.1L876.6 1994.1L876.6 1981.3L880 1981.3L880 1969.5L883.3 1969.5L883.3 1952.9L886.7 1952.9L886.7 1946.9L890 1946.9L890 1938.8L893.4 1938.8L893.4 1930L896.7 1930L896.7 1913.7L900.1 1913.7L900.1 1907.8L903.4 1907.8L903.4 1899.8L906.8 1899.8L906.8 1891.1L910.1 1891.1L910.1 1874.8L913.5 1874.8L913.5 1868.9L916.8 1868.9L916.8 1860.9L920.2 1860.9L920.2 1852.3L923.5 1852.3L923.5 1836.8L926.9 1836.8L926.9 1833L930.2 1833L930.2 1827.1L933.6 1827.1L933.6 1820.3L936.9 1820.3L936.9 1805.8L940.3 1805.8L940.3 1802.2L943.6 1802.2L943.6 1796.2L947 1796.2L947 1790L950.3 1790L950.3 1776.7L953.7 1776.7L953.7 1775.1L957 1775.1L957 1770.9L960.4 1770.9L960.4 1765.7L963.7 1765.7L963.7 1752.6L967.1 1752.6L967.1 1751L970.4 1751L970.4 1746.9L973.8 1746.9L973.8 1743.7L977.1 1743.7L977.1 1731.9L980.5 1731.9L980.5 1732.9L983.8 1732.9L983.8 1730.7L987.2 1730.7L987.2 1727.4L990.5 1727.4L990.5 1715.9L993.9 1715.9L993.9 1716.9L997.2 1716.9L997.2 1716.2L1000.6 1716.2L1000.6 1714.7L1003.9 1714.7L1003.9 1704.5L1007.3 1704.5L1007.3 1708.4L1010.6 1708.4L1010.6 1708.2L1014 1708.2L1014 1706.7L1017.3 1706.7L1017.3 1696.6L1020.7 1696.6L1020.7 1701.2L1024 1701.2L1024 1702.4L1027.4 1702.4L1027.4 1701.9L1030.7 1701.9L1030.7 1692.8L1034.1 1692.8L1034.1 1700.3L1037.4 1700.3L1037.4 1702.8L1040.8 1702.8L1040.8 1703.7L1044.1 1703.7L1044.1 1699.6L1047.5 1699.6L1047.5 1706.8L1050.8 1706.8L1050.8 1709.9L1054.2 1709.9L1054.2 1711.8L1057.5 1711.8L1057.5 1709.2L1060.9 1709.2L1060.9 1716.2L1064.2 1716.2L1064.2 1719.3L1067.6 1719.3L1067.6 1721L1070.9 1721L1070.9 1722.1L1074.3 1722.1L1074.3 1730L1077.6 1730L1077.6 1735L1081 1735L1081 1738.9L1084.3 1738.9L1084.3 1740.8L1087.7 1740.8L1087.7 1748.8L1091 1748.8L1091 1753.7L1094.4 1753.7L1094.4 1758.9L1097.7 1758.9L1097.7 1764.3L1101.1 1764.3L1101.1 1773.7L1104.4 1773.7L1104.4 1780.7L1107.8 1780.7L1107.8 1786.8L1111.1 1786.8L1111.1 1792.4L1114.5 1792.4L1114.5 1801.9L1117.8 1801.9L1117.8 1809.2L1121.2 1809.2L1121.2 1816.6L1124.5 1816.6L1124.5 1824.1L1127.9 1824.1L1127.9 1834.6L1131.2 1834.6L1131.2 1842.7L1134.6 1842.7L1134.6 1850.1L1137.9 1850.1L1137.9 1857.7L1141.3 1857.7L1141.3 1868.3L1144.6 1868.3L1144.6 1877.6L1148 1877.6L1148 1886.3L1151.3 1886.3L1151.3 1895.6L1154.7 1895.6L1154.7 1907.1L1158 1907.1L1158 1916.5L1161.4 1916.5L1161.4 1925.2L1164.7 1925.2L1164.7 1934.5L1168.1 1934.5L1168.1 1946.2L1171.4 1946.2L1171.4 1955.9L1174.8 1955.9L1174.8 1965L1178.1 1965L1178.1 1974.7L1181.5 1974.7L1181.5 1986.4L1184.8 1986.4L1184.8 1996.1L1188.2 1996.1L1188.2 2005.1L1191.5 2005.1L1191.5 2014.4L1194.9 2014.4L1194.9 2025.6L1198.2 2025.6L1198.2 2034.6L1201.6 2034.6L1201.6 2043L1204.9 2043L1204.9 2051.9L1208.3 2051.9L1208.3 2063.1L1211.6 2063.1L1211.6 2072.2L1215 2072.2L1215 2076.3L1218.3 2085.1L1218.3 2085.1L1221.7 2093.8L1221.7 2093.8L1225 2102.5L1225 2102.5L1228.4 2111.2L1228.4 2111.2L1231.7 2119.9L1231.7 2119.9L1235.1 2128.6L1235.1 2128.6L1238.4 2137.3L1238.4 2137.3L1239.5 2140.1L1239.5 2167L1238.4 2164.2L1238.4 2164.2L1235.1 2155.3L1235.1 2155.3L1231.7 2147.5L1231.7 2147.5L1228.4 2140.8L1228.4 2140.8L1225 2134.1L1225 2134.1L1221.7 2127.4L1221.7 2127.4L1218.3 2120.7L1218.3 2120.7L1215 2114L1215 2106.7L1211.6 2106.7L1211.6 2104.8L1208.3 2104.8L1208.3 2099.2L1204.9 2099.2L1204.9 2091.2L1201.6 2091.2L1201.6 2081.7L1198.2 2081.7L1198.2 2080.4L1194.9 2080.4L1194.9 2075L1191.5 2075L1191.5 2067.1L1188.2 2067.1L1188.2 2057.8L1184.8 2057.8L1184.8 2056L1181.5 2056L1181.5 2050L1178.1 2050L1178.1 2041.2L1174.8 2041.2L1174.8 2031.3L1171.4 2031.3L1171.4 2029.2L1168.1 2029.2L1168.1 2023.2L1164.7 2023.2L1164.7 2014.4L1161.4 2014.4L1161.4 2004.5L1158 2004.5L1158 2002.8L1154.7 2002.8L1154.7 1997.1L1151.3 1997.1L1151.3 1988.7L1148 1988.7L1148 1979.1L1144.6 1979.1L1144.6 1977.4L1141.3 1977.4L1141.3 1971.8L1137.9 1971.8L1137.9 1963.2L1134.6 1963.2L1134.6 1953.2L1131.2 1953.2L1131.2 1952L1127.9 1952L1127.9 1946.4L1124.5 1946.4L1124.5 1937.8L1121.2 1937.8L1121.2 1927.7L1117.8 1927.7L1117.8 1926.6L1114.5 1926.6L1114.5 1921.1L1111.1 1921.1L1111.1 1913.7L1107.8 1913.7L1107.8 1904.8L1104.4 1904.8L1104.4 1905.5L1101.1 1905.5L1101.1 1901.4L1097.7 1901.4L1097.7 1894.9L1094.4 1894.9L1094.4 1885.4L1091 1885.4L1091 1887L1087.7 1887L1087.7 1883.5L1084.3 1883.5L1084.3 1878.3L1081 1878.3L1081 1869.6L1077.6 1869.6L1077.6 1872.7L1074.3 1872.7L1074.3 1869.9L1070.9 1869.9L1070.9 1864.8L1067.6 1864.8L1067.6 1854.7L1064.2 1854.7L1064.2 1859.7L1060.9 1859.7L1060.9 1857.9L1057.5 1857.9L1057.5 1853.9L1054.2 1853.9L1054.2 1844.6L1050.8 1844.6L1050.8 1850.3L1047.5 1850.3L1047.5 1848.5L1044.1 1848.5L1044.1 1844.6L1040.8 1844.6L1040.8 1834.4L1037.4 1834.4L1037.4 1841.8L1034.1 1841.8L1034.1 1841.2L1030.7 1841.2L1030.7 1838.9L1027.4 1838.9L1027.4 1829.1L1024 1829.1L1024 1838.8L1020.7 1838.8L1020.7 1839.2L1017.3 1839.2L1017.3 1840.7L1014 1840.7L1014 1834.1L1010.6 1834.1L1010.6 1843.4L1007.3 1843.4L1007.3 1844.9L1003.9 1844.9L1003.9 1848.4L1000.6 1848.4L1000.6 1842.3L997.2 1842.3L997.2 1851.3L993.9 1851.3L993.9 1853L990.5 1853L990.5 1857.4L987.2 1857.4L987.2 1854.4L983.8 1854.4L983.8 1864L980.5 1864L980.5 1867.3L977.1 1867.3L977.1 1873.4L973.8 1873.4L973.8 1871L970.4 1871L970.4 1880L967.1 1880L967.1 1883.6L963.7 1883.6L963.7 1891L960.4 1891L960.4 1890.4L957 1890.4L957 1900.2L953.7 1900.2L953.7 1904.8L950.3 1904.8L950.3 1912.3L947 1912.3L947 1912.3L943.6 1912.3L943.6 1921.6L940.3 1921.6L940.3 1927L936.9 1927L936.9 1935.7L933.6 1935.7L933.6 1936.7L930.2 1936.7L930.2 1946.8L926.9 1946.8L926.9 1952.5L923.5 1952.5L923.5 1960.9L920.2 1960.9L920.2 1962.6L916.8 1962.6L916.8 1972.7L913.5 1972.7L913.5 1979L910.1 1979L910.1 1988.2L906.8 1988.2L906.8 1990.5L903.4 1990.5L903.4 2000.8L900.1 2000.8L900.1 2007.1L896.7 2007.1L896.7 2016.4L893.4 2016.4L893.4 2019L890 2019L890 2029.8L886.7 2029.8L886.7 2036.7L883.3 2036.7L883.3 2046.7L880 2046.7L880 2050.4L876.6 2050.4L876.6 2060.6L873.3 2060.6L873.3 2067.7L869.9 2067.7L869.9 2077L866.6 2077L866.6 2077.4L863.2 2077.4L863.2 2086L859.9 2086L859.9 2090.3L856.5 2090.3L856.5 2097.5L853.2 2097.5L853.2 2096.6L849.8 2096.6L849.8 2106.1L846.5 2106.1L846.5 2110.4L843.1 2110.4L843.1 2112.7L839.8 2112.7L839.8 2108.9L836.4 2108.9L836.4 2112.6L833.1 2113.1L833.1 2113.1L829.7 2113.5 Z" fill="#ff0000"/>
<path d="M1406.6 2101L1410 2094.5L1410 2094.5L1413.3 2088L1413.3 2086.1L1416.7 2086.1L1416.7 2079.8L1420 2079.8L1420 2063.6L1423.4 2063.6L1423.4 2057.4L1426.7 2057.4L1426.7 2048.6L1430.1 2048.6L1430.1 2039.1L1433.4 2039.1L1433.4 2022.2L1436.8 2022.2L1436.8 2016.2L1440.1 2016.2L1440.1 2008.4L1443.5 2008.4L1443.5 1999.6L1446.8 1999.6L1446.8 1980.4L1450.2 1980.4L1450.2 1970.3L1453.5 1970.3L1453.5 1960.7L1456.9 1960.7L1456.9 1950.6L1460.2 1950.6L1460.2 1933.2L1463.6 1933.2L1463.6 1925.9L1466.9 1925.9L1466.9 1918L1470.3 1918L1470.3 1909.4L1473.6 1909.4L1473.6 1893.4L1477 1893.4L1477 1888.2L1480.3 1888.2L1480.3 1880.9L1483.7 1880.9L1483.7 1872.9L1487 1872.9L1487 1857.3L1490.4 1857.3L1490.4 1852.2L1493.7 1852.2L1493.7 1845L1497.1 1845L1497.1 1837.6L1500.4 1837.6L1500.4 1822.8L1503.8 1822.8L1503.8 1818.8L1507.1 1818.8L1507.1 1812.5L1510.5 1812.5L1510.5 1805.4L1513.8 1805.4L1513.8 1790.6L1517.2 1790.6L1517.2 1786.6L1520.5 1786.6L1520.5 1781.4L1523.9 1781.4L1523.9 1777L1527.2 1777L1527.2 1764.3L1530.6 1764.3L1530.6 1763.6L1533.9 1763.6L1533.9 1760L1537.3 1760L1537.3 1755.5L1540.6 1755.5L1540.6 1743L1544 1743L1544 1742.5L1547.3 1742.5L1547.3 1740.6L1550.7 1740.6L1550.7 1737.6L1554 1737.6L1554 1726.3L1557.4 1726.3L1557.4 1727.8L1560.7 1727.8L1560.7 1725.9L1564.1 1725.9L1564.1 1722.9L1567.4 1722.9L1567.4 1711.6L1570.8 1711.6L1570.8 1714.6L1574.1 1714.6L1574.1 1714.5L1577.5 1714.5L1577.5 1712.9L1580.8 1712.9L1580.8 1702.7L1584.2 1702.7L1584.2 1706.6L1587.5 1706.6L1587.5 1706.4L1590.9 1706.4L1590.9 1705L1594.2 1705L1594.2 1695.2L1597.6 1695.2L1597.6 1700.4L1600.9 1700.4L1600.9 1702.4L1604.3 1702.4L1604.3 1703.6L1607.6 1703.6L1607.6 1699.5L1611 1699.5L1611 1706.4L1614.3 1706.4L1614.3 1709.1L1617.7 1709.1L1617.7 1710.3L1621 1710.3L1621 1706.2L1624.4 1706.2L1624.4 1713.1L1627.7 1713.1L1627.7 1715.9L1631.1 1715.9L1631.1 1719.4L1634.4 1719.4L1634.4 1720.6L1637.8 1720.6L1637.8 1728.4L1641.1 1728.4L1641.1 1733.1L1644.5 1733.1L1644.5 1736.7L1647.8 1736.7L1647.8 1738.3L1651.2 1738.3L1651.2 1745.9L1654.5 1745.9L1654.5 1752.7L1657.9 1752.7L1657.9 1758.8L1661.2 1758.8L1661.2 1764.5L1664.6 1764.5L1664.6 1773.9L1667.9 1773.9L1667.9 1780.9L1671.3 1780.9L1671.3 1787L1674.6 1787L1674.6 1792.8L1678 1792.8L1678 1802.8L1681.3 1802.8L1681.3 1810.6L1684.7 1810.6L1684.7 1817.7L1688 1817.7L1688 1824.7L1691.4 1824.7L1691.4 1834.9L1694.7 1834.9L1694.7 1842.8L1698.1 1842.8L1698.1 1849.9L1701.4 1849.9L1701.4 1857.8L1704.8 1857.8L1704.8 1869L1708.1 1869L1708.1 1878.1L1711.5 1878.1L1711.5 1886.5L1714.8 1886.5L1714.8 1895.4L1718.2 1895.4L1718.2 1906.6L1721.5 1906.6L1721.5 1915.6L1724.9 1915.6L1724.9 1924.1L1728.2 1924.1L1728.2 1933.8L1731.6 1933.8L1731.6 1945.6L1734.9 1945.6L1734.9 1955.2L1738.3 1955.2L1738.3 1964.3L1741.6 1964.3L1741.6 1974L1745 1974L1745 1985.8L1748.3 1985.8L1748.3 1995.4L1751.7 1995.4L1751.7 2004.5L1755 2004.5L1755 2014.2L1758.4 2014.2L1758.4 2026L1761.7 2026L1761.7 2035.6L1765.1 2035.6L1765.1 2044.7L1768.4 2044.7L1768.4 2050.2L1771.8 2060.3L1771.8 2060.3L1775.1 2070.1L1775.1 2070.1L1778.5 2079.2L1778.5 2079.2L1781.8 2088.2L1781.8 2088.2L1785.2 2097.3L1785.2 2097.3L1788.5 2106.3L1788.5 2106.3L1791.9 2115.4L1791.9 2115.4L1795.2 2124.4L1795.2 2124.4L1798.6 2133.4L1798.6 2133.4L1801.9 2141.9L1801.9 2141.9L1805.3 2150.2L1805.3 2150.2L1808.6 2158.5L1808.6 2158.5L1812 2163.2L1812 2163.2L1812.5 2164L1812.5 2171.5L1812 2170.9L1812 2170.9L1808.6 2167L1808.6 2167L1805.3 2161.6L1805.3 2161.6L1801.9 2156.1L1801.9 2156.1L1798.6 2150.6L1798.6 2150.6L1795.2 2143.9L1795.2 2143.9L1791.9 2137.2L1791.9 2137.2L1788.5 2130.5L1788.5 2130.5L1785.2 2123.8L1785.2 2123.8L1781.8 2117.1L1781.8 2117.1L1778.5 2110.4L1778.5 2110.4L1775.1 2103.7L1775.1 2103.7L1771.8 2097L1771.8 2097L1768.4 2090.3L1768.4 2086.4L1765.1 2086.4L1765.1 2076.5L1761.7 2076.5L1761.7 2074.4L1758.4 2074.4L1758.4 2068.4L1755 2068.4L1755 2059.6L1751.7 2059.6L1751.7 2049.6L1748.3 2049.6L1748.3 2046.9L1745 2046.9L1745 2040.3L1741.6 2040.3L1741.6 2030.7L1738.3 2030.7L1738.3 2020.2L1734.9 2020.2L1734.9 2017.5L1731.6 2017.5L1731.6 2010.8L1728.2 2010.8L1728.2 2001.3L1724.9 2001.3L1724.9 1991.1L1721.5 1991.1L1721.5 1989.2L1718.2 1989.2L1718.2 1983.2L1714.8 1983.2L1714.8 1974.3L1711.5 1974.3L1711.5 1964.3L1708.1 1964.3L1708.1 1962.4L1704.8 1962.4L1704.8 1956.4L1701.4 1956.4L1701.4 1948L1698.1 1948L1698.1 1938.2L1694.7 1938.2L1694.7 1937.3L1691.4 1937.3L1691.4 1932L1688 1932L1688 1923.8L1684.7 1923.8L1684.7 1914.1L1681.3 1914.1L1681.3 1913.2L1678 1913.2L1678 1908.4L1674.6 1908.4L1674.6 1902.1L1671.3 1902.1L1671.3 1893.5L1667.9 1893.5L1667.9 1894.6L1664.6 1894.6L1664.6 1890.8L1661.2 1890.8L1661.2 1884.7L1657.9 1884.7L1657.9 1876.1L1654.5 1876.1L1654.5 1877.3L1651.2 1877.3L1651.2 1874.6L1647.8 1874.6L1647.8 1869.5L1644.5 1869.5L1644.5 1860.7L1641.1 1860.7L1641.1 1863.9L1637.8 1863.9L1637.8 1861.1L1634.4 1861.1L1634.4 1856.2L1631.1 1856.2L1631.1 1846.8L1627.7 1846.8L1627.7 1852L1624.4 1852L1624.4 1850.8L1621 1850.8L1621 1847.8L1617.7 1847.8L1617.7 1838.4L1614.3 1838.4L1614.3 1845.3L1611 1845.3L1611 1844.1L1607.6 1844.1L1607.6 1841.5L1604.3 1841.5L1604.3 1832.8L1600.9 1832.8L1600.9 1841.2L1597.6 1841.2L1597.6 1841L1594.2 1841L1594.2 1841.1L1590.9 1841.1L1590.9 1833.3L1587.5 1833.3L1587.5 1842.2L1584.2 1842.2L1584.2 1843.5L1580.8 1843.5L1580.8 1846.4L1577.5 1846.4L1577.5 1839.9L1574.1 1839.9L1574.1 1848.9L1570.8 1848.9L1570.8 1850.2L1567.4 1850.2L1567.4 1853.1L1564.1 1853.1L1564.1 1848.7L1560.7 1848.7L1560.7 1857.6L1557.4 1857.6L1557.4 1860.1L1554 1860.1L1554 1864.8L1550.7 1864.8L1550.7 1860.8L1547.3 1860.8L1547.3 1869.6L1544 1869.6L1544 1872.1L1540.6 1872.1L1540.6 1877.8L1537.3 1877.8L1537.3 1876.6L1533.9 1876.6L1533.9 1886.3L1530.6 1886.3L1530.6 1890.6L1527.2 1890.6L1527.2 1897.9L1523.9 1897.9L1523.9 1897L1520.5 1897L1520.5 1906.4L1517.2 1906.4L1517.2 1910.9L1513.8 1910.9L1513.8 1918.5L1510.5 1918.5L1510.5 1919.1L1507.1 1919.1L1507.1 1928.6L1503.8 1928.6L1503.8 1933.6L1500.4 1933.6L1500.4 1941.3L1497.1 1941.3L1497.1 1942L1493.7 1942L1493.7 1951.3L1490.4 1951.3L1490.4 1957.2L1487 1957.2L1487 1966L1483.7 1966L1483.7 1967.8L1480.3 1967.8L1480.3 1978L1477 1978L1477 1983.9L1473.6 1983.9L1473.6 1992.8L1470.3 1992.8L1470.3 1994.8L1466.9 1994.8L1466.9 2006.3L1463.6 2006.3L1463.6 2014.8L1460.2 2014.8L1460.2 2026.9L1456.9 2026.9L1456.9 2031.7L1453.5 2031.7L1453.5 2043.9L1450.2 2043.9L1450.2 2052.5L1446.8 2052.5L1446.8 2064.1L1443.5 2064.1L1443.5 2067.6L1440.1 2067.6L1440.1 2077.4L1436.8 2077.4L1436.8 2083.1L1433.4 2083.1L1433.4 2091.3L1430.1 2091.3L1430.1 2093.3L1426.7 2093.3L1426.7 2102.8L1423.4 2102.8L1423.4 2108.5L1420 2108.5L1420 2115.5L1416.7 2115.5L1416.7 2113L1413.3 2113L1413.3 2117L1410 2118.5L1410 2118.5L1406.6 2120 Z" fill="#ff0000"/>
<path d="M663.9 2153L728.7 2133.6L822.2 2099.5L830.2 2096.5L830.2 2113.5L825.8 2110.5L730.2 2138.2L663.9 2160 Z" fill="#ff0000"/>
<path d="M1235.5 2161L1300.5 2141.6L1394.2 2107.5L1407.1 2101L1407.1 2120L1397.8 2118.5L1301.9 2146.2L1235.5 2168 Z" fill="#ff0000"/>
<path d="M1808.5 2165.5L1872.3 2146.9L1964.2 2114L1967.8 2125L1873.7 2151.5L1808.5 2172.5 Z" fill="#ff0000"/>
<path d="M1961 2121.1Q1994 2112 1998.2 2059" stroke="#ff0000" stroke-width="7.6" fill="none" stroke-linecap="butt"/>
<path d="M283.1 1504.7V2284M220.5 2221.8H2002.5M220.5 2079.6H283M220.5 1936.8H283M220.5 1794H283M220.5 1651.2H283M220.5 1508.4H283M250.3 2151H283M250.3 2008.2H283M250.3 1865.4H283M250.3 1722.6H283M250.3 1579.8H283M854.6 2221.8V2284M1426.1 2221.8V2284M1997.6 2221.8V2284M568.9 2221.8V2254M1140.3 2221.8V2254M1711.8 2221.8V2254" stroke="#000" stroke-width="7.4" fill="none"/>
<text x="195.5" y="2256.9" class="tk" text-anchor="end">-10</text>
<text x="195.5" y="2114.1" class="tk" text-anchor="end">0</text>
<text x="195.5" y="1971.3" class="tk" text-anchor="end">10</text>
<text x="195.5" y="1828.5" class="tk" text-anchor="end">20</text>
<text x="195.5" y="1685.7" class="tk" text-anchor="end">30</text>
<text x="195.5" y="1542.9" class="tk" text-anchor="end">40</text>
<text x="283.1" y="2389.5" class="tk" text-anchor="middle">0</text>
<text x="854.6" y="2389.5" class="tk" text-anchor="middle">20</text>
<text x="1426.1" y="2389.5" class="tk" text-anchor="middle">40</text>
<text x="1997.6" y="2389.5" class="tk" text-anchor="middle">60</text>
<text x="1139.6" y="2492" class="xl" text-anchor="middle">Time (ms)</text>
<path d="M285.6 1624.5H291.2L292 2010L293 2062H285.6Z" fill="#ff0000"/>
<path d="M285.6 1621.5h5.6v3h-5.6z" fill="#0000ff"/>
<ellipse cx="732.1" cy="2114.4" rx="96.5" ry="89.7" fill="#fff"/>
<path d="M643.5 2101.5h3v3h-3zM643.5 2104.5h3v3h-3zM643.5 2107.5h3v3h-3zM646.5 2098.5h3v3h-3zM646.5 2101.5h3v3h-3zM646.5 2104.5h3v3h-3zM646.5 2107.5h3v3h-3zM649.5 2098.5h3v3h-3zM649.5 2101.5h3v3h-3zM649.5 2104.5h3v3h-3zM649.5 2107.5h3v3h-3zM649.5 2113.5h3v3h-3zM652.5 2098.5h3v3h-3zM652.5 2101.5h3v3h-3zM652.5 2104.5h3v3h-3zM652.5 2107.5h3v3h-3zM652.5 2110.5h3v3h-3zM652.5 2113.5h3v3h-3zM655.5 2101.5h3v3h-3zM655.5 2104.5h3v3h-3zM655.5 2107.5h3v3h-3zM655.5 2110.5h3v3h-3zM655.5 2113.5h3v3h-3zM655.5 2116.5h3v3h-3zM658.5 2101.5h3v3h-3zM658.5 2104.5h3v3h-3zM658.5 2107.5h3v3h-3zM658.5 2110.5h3v3h-3zM658.5 2113.5h3v3h-3zM658.5 2116.5h3v3h-3zM658.5 2119.5h3v3h-3zM661.5 2101.5h3v3h-3zM661.5 2104.5h3v3h-3zM661.5 2107.5h3v3h-3zM661.5 2110.5h3v3h-3zM661.5 2113.5h3v3h-3zM661.5 2116.5h3v3h-3zM661.5 2119.5h3v3h-3zM664.5 2098.5h3v3h-3zM664.5 2104.5h3v3h-3zM664.5 2107.5h3v3h-3zM664.5 2110.5h3v3h-3zM664.5 2113.5h3v3h-3zM664.5 2116.5h3v3h-3zM664.5 2119.5h3v3h-3zM664.5 2122.5h3v3h-3zM664.5 2125.5h3v3h-3zM667.5 2098.5h3v3h-3zM667.5 2101.5h3v3h-3zM667.5 2107.5h3v3h-3zM667.5 2110.5h3v3h-3zM667.5 2113.5h3v3h-3zM667.5 2116.5h3v3h-3zM667.5 2119.5h3v3h-3zM667.5 2122.5h3v3h-3zM667.5 2125.5h3v3h-3zM670.5 2101.5h3v3h-3zM670.5 2104.5h3v3h-3zM670.5 2107.5h3v3h-3zM670.5 2110.5h3v3h-3zM670.5 2113.5h3v3h-3zM670.5 2116.5h3v3h-3zM670.5 2119.5h3v3h-3zM670.5 2122.5h3v3h-3zM670.5 2128.5h3v3h-3zM673.5 2101.5h3v3h-3zM673.5 2104.5h3v3h-3zM673.5 2107.5h3v3h-3zM673.5 2110.5h3v3h-3zM673.5 2113.5h3v3h-3zM673.5 2116.5h3v3h-3zM673.5 2119.5h3v3h-3zM673.5 2122.5h3v3h-3zM673.5 2125.5h3v3h-3zM673.5 2128.5h3v3h-3zM676.5 2101.5h3v3h-3zM676.5 2104.5h3v3h-3zM676.5 2107.5h3v3h-3zM676.5 2110.5h3v3h-3zM676.5 2113.5h3v3h-3zM676.5 2116.5h3v3h-3zM676.5 2119.5h3v3h-3zM676.5 2122.5h3v3h-3zM676.5 2125.5h3v3h-3zM676.5 2128.5h3v3h-3zM676.5 2134.5h3v3h-3zM679.5 2101.5h3v3h-3zM679.5 2104.5h3v3h-3zM679.5 2107.5h3v3h-3zM679.5 2110.5h3v3h-3zM679.5 2113.5h3v3h-3zM679.5 2116.5h3v3h-3zM679.5 2119.5h3v3h-3zM679.5 2122.5h3v3h-3zM679.5 2125.5h3v3h-3zM679.5 2128.5h3v3h-3zM679.5 2137.5h3v3h-3zM682.5 2101.5h3v3h-3zM682.5 2104.5h3v3h-3zM682.5 2107.5h3v3h-3zM682.5 2110.5h3v3h-3zM682.5 2113.5h3v3h-3zM682.5 2116.5h3v3h-3zM682.5 2119.5h3v3h-3zM682.5 2122.5h3v3h-3zM682.5 2125.5h3v3h-3zM682.5 2128.5h3v3h-3zM682.5 2131.5h3v3h-3zM682.5 2134.5h3v3h-3zM685.5 2098.5h3v3h-3zM685.5 2107.5h3v3h-3zM685.5 2110.5h3v3h-3zM685.5 2113.5h3v3h-3zM685.5 2116.5h3v3h-3zM685.5 2119.5h3v3h-3zM685.5 2122.5h3v3h-3zM685.5 2125.5h3v3h-3zM685.5 2128.5h3v3h-3zM685.5 2131.5h3v3h-3zM685.5 2134.5h3v3h-3zM688.5 2101.5h3v3h-3zM688.5 2107.5h3v3h-3zM688.5 2110.5h3v3h-3zM688.5 2113.5h3v3h-3zM688.5 2116.5h3v3h-3zM688.5 2119.5h3v3h-3zM688.5 2122.5h3v3h-3zM688.5 2125.5h3v3h-3zM688.5 2128.5h3v3h-3zM688.5 2131.5h3v3h-3zM688.5 2134.5h3v3h-3zM688.5 2137.5h3v3h-3zM688.5 2140.5h3v3h-3zM691.5 2101.5h3v3h-3zM691.5 2104.5h3v3h-3zM691.5 2107.5h3v3h-3zM691.5 2113.5h3v3h-3zM691.5 2116.5h3v3h-3zM691.5 2119.5h3v3h-3zM691.5 2122.5h3v3h-3zM691.5 2128.5h3v3h-3zM691.5 2131.5h3v3h-3zM691.5 2143.5h3v3h-3zM694.5 2104.5h3v3h-3zM694.5 2110.5h3v3h-3zM694.5 2113.5h3v3h-3zM694.5 2116.5h3v3h-3zM694.5 2119.5h3v3h-3zM694.5 2122.5h3v3h-3zM694.5 2125.5h3v3h-3zM694.5 2128.5h3v3h-3zM694.5 2131.5h3v3h-3zM694.5 2134.5h3v3h-3zM694.5 2137.5h3v3h-3zM694.5 2140.5h3v3h-3zM697.5 2104.5h3v3h-3zM697.5 2107.5h3v3h-3zM697.5 2110.5h3v3h-3zM697.5 2116.5h3v3h-3zM697.5 2125.5h3v3h-3zM697.5 2128.5h3v3h-3zM697.5 2131.5h3v3h-3zM697.5 2134.5h3v3h-3zM697.5 2137.5h3v3h-3zM697.5 2140.5h3v3h-3zM697.5 2143.5h3v3h-3zM697.5 2146.5h3v3h-3zM700.5 2113.5h3v3h-3zM700.5 2116.5h3v3h-3zM700.5 2119.5h3v3h-3zM700.5 2122.5h3v3h-3zM700.5 2128.5h3v3h-3zM700.5 2131.5h3v3h-3zM700.5 2134.5h3v3h-3zM700.5 2137.5h3v3h-3zM700.5 2140.5h3v3h-3zM700.5 2143.5h3v3h-3zM700.5 2146.5h3v3h-3zM703.5 2107.5h3v3h-3zM703.5 2110.5h3v3h-3zM703.5 2113.5h3v3h-3zM703.5 2116.5h3v3h-3zM703.5 2128.5h3v3h-3zM703.5 2131.5h3v3h-3zM703.5 2137.5h3v3h-3zM703.5 2140.5h3v3h-3zM703.5 2143.5h3v3h-3zM703.5 2146.5h3v3h-3zM703.5 2152.5h3v3h-3zM706.5 2104.5h3v3h-3zM706.5 2107.5h3v3h-3zM706.5 2110.5h3v3h-3zM706.5 2113.5h3v3h-3zM706.5 2116.5h3v3h-3zM706.5 2119.5h3v3h-3zM706.5 2122.5h3v3h-3zM706.5 2125.5h3v3h-3zM706.5 2128.5h3v3h-3zM706.5 2131.5h3v3h-3zM706.5 2134.5h3v3h-3zM706.5 2140.5h3v3h-3zM706.5 2143.5h3v3h-3zM706.5 2146.5h3v3h-3zM709.5 2101.5h3v3h-3zM709.5 2104.5h3v3h-3zM709.5 2107.5h3v3h-3zM709.5 2110.5h3v3h-3zM709.5 2113.5h3v3h-3zM709.5 2122.5h3v3h-3zM709.5 2125.5h3v3h-3zM709.5 2128.5h3v3h-3zM709.5 2131.5h3v3h-3zM709.5 2134.5h3v3h-3zM709.5 2137.5h3v3h-3zM709.5 2140.5h3v3h-3zM709.5 2143.5h3v3h-3zM712.5 2107.5h3v3h-3zM712.5 2110.5h3v3h-3zM712.5 2113.5h3v3h-3zM712.5 2116.5h3v3h-3zM712.5 2119.5h3v3h-3zM712.5 2122.5h3v3h-3zM712.5 2125.5h3v3h-3zM712.5 2128.5h3v3h-3zM712.5 2131.5h3v3h-3zM712.5 2134.5h3v3h-3zM712.5 2137.5h3v3h-3zM712.5 2140.5h3v3h-3zM712.5 2146.5h3v3h-3zM712.5 2152.5h3v3h-3zM715.5 2110.5h3v3h-3zM715.5 2113.5h3v3h-3zM715.5 2116.5h3v3h-3zM715.5 2122.5h3v3h-3zM715.5 2125.5h3v3h-3zM715.5 2128.5h3v3h-3zM715.5 2134.5h3v3h-3zM715.5 2137.5h3v3h-3zM715.5 2140.5h3v3h-3zM715.5 2146.5h3v3h-3zM715.5 2149.5h3v3h-3zM718.5 2104.5h3v3h-3zM718.5 2107.5h3v3h-3zM718.5 2110.5h3v3h-3zM718.5 2113.5h3v3h-3zM718.5 2116.5h3v3h-3zM718.5 2119.5h3v3h-3zM718.5 2122.5h3v3h-3zM718.5 2128.5h3v3h-3zM718.5 2137.5h3v3h-3zM718.5 2140.5h3v3h-3zM718.5 2143.5h3v3h-3zM718.5 2146.5h3v3h-3zM718.5 2152.5h3v3h-3zM718.5 2155.5h3v3h-3zM718.5 2158.5h3v3h-3zM721.5 2101.5h3v3h-3zM721.5 2104.5h3v3h-3zM721.5 2107.5h3v3h-3zM721.5 2110.5h3v3h-3zM721.5 2113.5h3v3h-3zM721.5 2116.5h3v3h-3zM721.5 2122.5h3v3h-3zM721.5 2131.5h3v3h-3zM721.5 2134.5h3v3h-3zM721.5 2137.5h3v3h-3zM721.5 2140.5h3v3h-3zM721.5 2143.5h3v3h-3zM721.5 2146.5h3v3h-3zM721.5 2149.5h3v3h-3zM721.5 2152.5h3v3h-3zM721.5 2161.5h3v3h-3zM724.5 2104.5h3v3h-3zM724.5 2107.5h3v3h-3zM724.5 2110.5h3v3h-3zM724.5 2113.5h3v3h-3zM724.5 2116.5h3v3h-3zM724.5 2119.5h3v3h-3zM724.5 2122.5h3v3h-3zM724.5 2125.5h3v3h-3zM724.5 2128.5h3v3h-3zM724.5 2134.5h3v3h-3zM724.5 2137.5h3v3h-3zM724.5 2140.5h3v3h-3zM724.5 2146.5h3v3h-3zM724.5 2155.5h3v3h-3zM727.5 2101.5h3v3h-3zM727.5 2104.5h3v3h-3zM727.5 2107.5h3v3h-3zM727.5 2110.5h3v3h-3zM727.5 2119.5h3v3h-3zM727.5 2122.5h3v3h-3zM727.5 2125.5h3v3h-3zM727.5 2128.5h3v3h-3zM727.5 2131.5h3v3h-3zM727.5 2134.5h3v3h-3zM727.5 2140.5h3v3h-3zM727.5 2146.5h3v3h-3zM727.5 2152.5h3v3h-3zM727.5 2155.5h3v3h-3zM727.5 2158.5h3v3h-3zM727.5 2161.5h3v3h-3zM730.5 2107.5h3v3h-3zM730.5 2110.5h3v3h-3zM730.5 2113.5h3v3h-3zM730.5 2116.5h3v3h-3zM730.5 2119.5h3v3h-3zM730.5 2122.5h3v3h-3zM730.5 2125.5h3v3h-3zM730.5 2128.5h3v3h-3zM730.5 2131.5h3v3h-3zM730.5 2134.5h3v3h-3zM730.5 2137.5h3v3h-3zM730.5 2140.5h3v3h-3zM730.5 2143.5h3v3h-3zM730.5 2146.5h3v3h-3zM730.5 2155.5h3v3h-3zM733.5 2101.5h3v3h-3zM733.5 2107.5h3v3h-3zM733.5 2110.5h3v3h-3zM733.5 2113.5h3v3h-3zM733.5 2116.5h3v3h-3zM733.5 2119.5h3v3h-3zM733.5 2122.5h3v3h-3zM733.5 2128.5h3v3h-3zM733.5 2131.5h3v3h-3zM733.5 2134.5h3v3h-3zM733.5 2137.5h3v3h-3zM733.5 2140.5h3v3h-3zM733.5 2146.5h3v3h-3zM733.5 2161.5h3v3h-3zM736.5 2104.5h3v3h-3zM736.5 2107.5h3v3h-3zM736.5 2110.5h3v3h-3zM736.5 2113.5h3v3h-3zM736.5 2116.5h3v3h-3zM736.5 2119.5h3v3h-3zM736.5 2122.5h3v3h-3zM736.5 2125.5h3v3h-3zM736.5 2128.5h3v3h-3zM736.5 2131.5h3v3h-3zM736.5 2134.5h3v3h-3zM736.5 2137.5h3v3h-3zM736.5 2140.5h3v3h-3zM736.5 2143.5h3v3h-3zM736.5 2149.5h3v3h-3zM736.5 2152.5h3v3h-3zM736.5 2155.5h3v3h-3zM739.5 2107.5h3v3h-3zM739.5 2110.5h3v3h-3zM739.5 2113.5h3v3h-3zM739.5 2116.5h3v3h-3zM739.5 2119.5h3v3h-3zM739.5 2122.5h3v3h-3zM739.5 2125.5h3v3h-3zM739.5 2128.5h3v3h-3zM739.5 2131.5h3v3h-3zM739.5 2137.5h3v3h-3zM739.5 2140.5h3v3h-3zM739.5 2143.5h3v3h-3zM739.5 2149.5h3v3h-3zM739.5 2155.5h3v3h-3zM739.5 2158.5h3v3h-3zM742.5 2104.5h3v3h-3zM742.5 2107.5h3v3h-3zM742.5 2110.5h3v3h-3zM742.5 2116.5h3v3h-3zM742.5 2122.5h3v3h-3zM742.5 2125.5h3v3h-3zM742.5 2128.5h3v3h-3zM742.5 2131.5h3v3h-3zM742.5 2134.5h3v3h-3zM742.5 2140.5h3v3h-3zM742.5 2143.5h3v3h-3zM742.5 2146.5h3v3h-3zM742.5 2149.5h3v3h-3zM742.5 2152.5h3v3h-3zM742.5 2155.5h3v3h-3zM745.5 2104.5h3v3h-3zM745.5 2107.5h3v3h-3zM745.5 2110.5h3v3h-3zM745.5 2113.5h3v3h-3zM745.5 2116.5h3v3h-3zM745.5 2119.5h3v3h-3zM745.5 2122.5h3v3h-3zM745.5 2128.5h3v3h-3zM745.5 2131.5h3v3h-3zM745.5 2137.5h3v3h-3zM745.5 2140.5h3v3h-3zM745.5 2143.5h3v3h-3zM745.5 2146.5h3v3h-3zM745.5 2149.5h3v3h-3zM745.5 2152.5h3v3h-3zM745.5 2155.5h3v3h-3zM748.5 2101.5h3v3h-3zM748.5 2104.5h3v3h-3zM748.5 2107.5h3v3h-3zM748.5 2110.5h3v3h-3zM748.5 2113.5h3v3h-3zM748.5 2116.5h3v3h-3zM748.5 2122.5h3v3h-3zM748.5 2125.5h3v3h-3zM748.5 2128.5h3v3h-3zM748.5 2131.5h3v3h-3zM748.5 2134.5h3v3h-3zM748.5 2137.5h3v3h-3zM748.5 2140.5h3v3h-3zM748.5 2143.5h3v3h-3zM748.5 2152.5h3v3h-3zM748.5 2158.5h3v3h-3zM751.5 2098.5h3v3h-3zM751.5 2101.5h3v3h-3zM751.5 2110.5h3v3h-3zM751.5 2113.5h3v3h-3zM751.5 2116.5h3v3h-3zM751.5 2119.5h3v3h-3zM751.5 2125.5h3v3h-3zM751.5 2131.5h3v3h-3zM751.5 2134.5h3v3h-3zM751.5 2140.5h3v3h-3zM751.5 2146.5h3v3h-3zM751.5 2149.5h3v3h-3zM751.5 2152.5h3v3h-3zM754.5 2107.5h3v3h-3zM754.5 2110.5h3v3h-3zM754.5 2113.5h3v3h-3zM754.5 2116.5h3v3h-3zM754.5 2119.5h3v3h-3zM754.5 2122.5h3v3h-3zM754.5 2125.5h3v3h-3zM754.5 2131.5h3v3h-3zM754.5 2134.5h3v3h-3zM754.5 2146.5h3v3h-3zM754.5 2149.5h3v3h-3zM757.5 2107.5h3v3h-3zM757.5 2113.5h3v3h-3zM757.5 2122.5h3v3h-3zM757.5 2125.5h3v3h-3zM757.5 2128.5h3v3h-3zM757.5 2131.5h3v3h-3zM757.5 2140.5h3v3h-3zM757.5 2149.5h3v3h-3zM757.5 2152.5h3v3h-3zM760.5 2101.5h3v3h-3zM760.5 2107.5h3v3h-3zM760.5 2110.5h3v3h-3zM760.5 2113.5h3v3h-3zM760.5 2116.5h3v3h-3zM760.5 2125.5h3v3h-3zM760.5 2128.5h3v3h-3zM760.5 2134.5h3v3h-3zM760.5 2140.5h3v3h-3zM760.5 2143.5h3v3h-3zM760.5 2149.5h3v3h-3zM763.5 2098.5h3v3h-3zM763.5 2101.5h3v3h-3zM763.5 2104.5h3v3h-3zM763.5 2110.5h3v3h-3zM763.5 2113.5h3v3h-3zM763.5 2116.5h3v3h-3zM763.5 2119.5h3v3h-3zM763.5 2122.5h3v3h-3zM763.5 2125.5h3v3h-3zM763.5 2128.5h3v3h-3zM763.5 2131.5h3v3h-3zM763.5 2134.5h3v3h-3zM763.5 2137.5h3v3h-3zM763.5 2140.5h3v3h-3zM763.5 2143.5h3v3h-3zM763.5 2146.5h3v3h-3zM766.5 2101.5h3v3h-3zM766.5 2107.5h3v3h-3zM766.5 2113.5h3v3h-3zM766.5 2116.5h3v3h-3zM766.5 2122.5h3v3h-3zM766.5 2125.5h3v3h-3zM766.5 2128.5h3v3h-3zM766.5 2134.5h3v3h-3zM766.5 2137.5h3v3h-3zM766.5 2140.5h3v3h-3zM766.5 2143.5h3v3h-3zM769.5 2104.5h3v3h-3zM769.5 2107.5h3v3h-3zM769.5 2110.5h3v3h-3zM769.5 2116.5h3v3h-3zM769.5 2119.5h3v3h-3zM769.5 2122.5h3v3h-3zM769.5 2125.5h3v3h-3zM769.5 2128.5h3v3h-3zM769.5 2131.5h3v3h-3zM769.5 2137.5h3v3h-3zM769.5 2140.5h3v3h-3zM769.5 2143.5h3v3h-3zM769.5 2146.5h3v3h-3zM772.5 2107.5h3v3h-3zM772.5 2113.5h3v3h-3zM772.5 2116.5h3v3h-3zM772.5 2119.5h3v3h-3zM772.5 2122.5h3v3h-3zM772.5 2125.5h3v3h-3zM772.5 2131.5h3v3h-3zM772.5 2134.5h3v3h-3zM772.5 2137.5h3v3h-3zM772.5 2140.5h3v3h-3zM772.5 2143.5h3v3h-3zM775.5 2104.5h3v3h-3zM775.5 2110.5h3v3h-3zM775.5 2113.5h3v3h-3zM775.5 2119.5h3v3h-3zM775.5 2122.5h3v3h-3zM775.5 2125.5h3v3h-3zM775.5 2128.5h3v3h-3zM775.5 2131.5h3v3h-3zM775.5 2134.5h3v3h-3zM775.5 2137.5h3v3h-3zM775.5 2140.5h3v3h-3zM778.5 2098.5h3v3h-3zM778.5 2101.5h3v3h-3zM778.5 2104.5h3v3h-3zM778.5 2107.5h3v3h-3zM778.5 2110.5h3v3h-3zM778.5 2116.5h3v3h-3zM778.5 2119.5h3v3h-3zM778.5 2122.5h3v3h-3zM778.5 2125.5h3v3h-3zM778.5 2128.5h3v3h-3zM778.5 2137.5h3v3h-3zM778.5 2140.5h3v3h-3zM778.5 2143.5h3v3h-3zM781.5 2104.5h3v3h-3zM781.5 2107.5h3v3h-3zM781.5 2110.5h3v3h-3zM781.5 2113.5h3v3h-3zM781.5 2116.5h3v3h-3zM781.5 2119.5h3v3h-3zM781.5 2122.5h3v3h-3zM781.5 2125.5h3v3h-3zM781.5 2128.5h3v3h-3zM781.5 2137.5h3v3h-3zM781.5 2140.5h3v3h-3zM784.5 2101.5h3v3h-3zM784.5 2104.5h3v3h-3zM784.5 2107.5h3v3h-3zM784.5 2113.5h3v3h-3zM784.5 2116.5h3v3h-3zM784.5 2119.5h3v3h-3zM784.5 2122.5h3v3h-3zM784.5 2125.5h3v3h-3zM784.5 2128.5h3v3h-3zM784.5 2131.5h3v3h-3zM787.5 2104.5h3v3h-3zM787.5 2107.5h3v3h-3zM787.5 2110.5h3v3h-3zM787.5 2113.5h3v3h-3zM787.5 2119.5h3v3h-3zM787.5 2125.5h3v3h-3zM787.5 2128.5h3v3h-3zM787.5 2134.5h3v3h-3zM790.5 2098.5h3v3h-3zM790.5 2101.5h3v3h-3zM790.5 2104.5h3v3h-3zM790.5 2107.5h3v3h-3zM790.5 2110.5h3v3h-3zM790.5 2113.5h3v3h-3zM790.5 2116.5h3v3h-3zM790.5 2119.5h3v3h-3zM790.5 2122.5h3v3h-3zM790.5 2125.5h3v3h-3zM790.5 2128.5h3v3h-3zM790.5 2134.5h3v3h-3zM793.5 2101.5h3v3h-3zM793.5 2104.5h3v3h-3zM793.5 2107.5h3v3h-3zM793.5 2110.5h3v3h-3zM793.5 2113.5h3v3h-3zM793.5 2116.5h3v3h-3zM793.5 2119.5h3v3h-3zM793.5 2122.5h3v3h-3zM793.5 2125.5h3v3h-3zM796.5 2101.5h3v3h-3zM796.5 2104.5h3v3h-3zM796.5 2107.5h3v3h-3zM796.5 2110.5h3v3h-3zM796.5 2113.5h3v3h-3zM796.5 2116.5h3v3h-3zM796.5 2119.5h3v3h-3zM796.5 2122.5h3v3h-3zM796.5 2128.5h3v3h-3zM799.5 2098.5h3v3h-3zM799.5 2104.5h3v3h-3zM799.5 2107.5h3v3h-3zM799.5 2110.5h3v3h-3zM799.5 2113.5h3v3h-3zM799.5 2116.5h3v3h-3zM799.5 2119.5h3v3h-3zM799.5 2122.5h3v3h-3zM802.5 2098.5h3v3h-3zM802.5 2101.5h3v3h-3zM802.5 2104.5h3v3h-3zM802.5 2107.5h3v3h-3zM802.5 2110.5h3v3h-3zM802.5 2113.5h3v3h-3zM802.5 2116.5h3v3h-3zM802.5 2119.5h3v3h-3zM802.5 2122.5h3v3h-3zM805.5 2101.5h3v3h-3zM805.5 2104.5h3v3h-3zM805.5 2107.5h3v3h-3zM805.5 2110.5h3v3h-3zM805.5 2113.5h3v3h-3zM805.5 2116.5h3v3h-3zM805.5 2119.5h3v3h-3zM805.5 2122.5h3v3h-3zM808.5 2101.5h3v3h-3zM808.5 2104.5h3v3h-3zM808.5 2107.5h3v3h-3zM808.5 2110.5h3v3h-3zM808.5 2113.5h3v3h-3zM808.5 2116.5h3v3h-3zM811.5 2098.5h3v3h-3zM811.5 2101.5h3v3h-3zM811.5 2104.5h3v3h-3zM811.5 2107.5h3v3h-3zM811.5 2110.5h3v3h-3zM811.5 2113.5h3v3h-3zM814.5 2101.5h3v3h-3zM814.5 2104.5h3v3h-3zM814.5 2107.5h3v3h-3zM814.5 2110.5h3v3h-3zM814.5 2113.5h3v3h-3zM817.5 2101.5h3v3h-3zM817.5 2104.5h3v3h-3zM817.5 2107.5h3v3h-3zM817.5 2110.5h3v3h-3zM820.5 2098.5h3v3h-3zM820.5 2101.5h3v3h-3zM820.5 2104.5h3v3h-3zM820.5 2107.5h3v3h-3zM820.5 2110.5h3v3h-3zM823.5 2101.5h3v3h-3zM823.5 2104.5h3v3h-3z" fill="#0000ff"/>
<path d="M690.7 2080.7h42v42h-42z" stroke="#222" stroke-width="3.4" fill="none"/>
<path d="M637.5 2089L665.9 2157.5" stroke="#ff0000" stroke-width="4.6" fill="none"/>
<path d="M663.9 2153L728.7 2133.6L822.3 2099.9L827.8 2095.3L832.2 2110.7L825.7 2110.1L730.2 2138.2L663.9 2160 Z" fill="#ff0000"/>
<ellipse cx="706.1" cy="1567.9" rx="194.7" ry="187.5" fill="#fff"/>
<path d="M516.9 1563h3v3h-3zM520.8 1546.5h3v3h-3zM520.8 1552.5h3v3h-3zM520.8 1555.5h3v3h-3zM520.8 1558.5h3v3h-3zM520.8 1560h3v3h-3zM520.8 1564.5h3v3h-3zM520.8 1567.5h3v3h-3zM520.8 1569h3v3h-3zM520.8 1570.5h3v3h-3zM522.3 1545h3v3h-3zM522.3 1546.5h3v3h-3zM522.3 1551h3v3h-3zM522.3 1552.5h3v3h-3zM522.3 1554h3v3h-3zM522.3 1555.5h3v3h-3zM522.3 1557h3v3h-3zM522.3 1558.5h3v3h-3zM522.3 1560h3v3h-3zM522.3 1564.5h3v3h-3zM522.3 1566h3v3h-3zM522.3 1567.5h3v3h-3zM522.3 1569h3v3h-3zM522.3 1570.5h3v3h-3zM522.3 1572h3v3h-3zM522.3 1573.5h3v3h-3zM523.8 1546.5h3v3h-3zM523.8 1555.5h3v3h-3zM523.8 1557h3v3h-3zM523.8 1561.5h3v3h-3zM523.8 1564.5h3v3h-3zM523.8 1566h3v3h-3zM526.2 1548h3v3h-3zM526.2 1551h3v3h-3zM526.2 1552.5h3v3h-3zM526.2 1554h3v3h-3zM526.2 1555.5h3v3h-3zM526.2 1558.5h3v3h-3zM526.2 1560h3v3h-3zM526.2 1561.5h3v3h-3zM526.2 1563h3v3h-3zM526.2 1566h3v3h-3zM526.2 1567.5h3v3h-3zM526.2 1575h3v3h-3zM526.2 1578h3v3h-3zM527.7 1546.5h3v3h-3zM527.7 1548h3v3h-3zM527.7 1549.5h3v3h-3zM527.7 1551h3v3h-3zM527.7 1554h3v3h-3zM527.7 1555.5h3v3h-3zM527.7 1557h3v3h-3zM527.7 1558.5h3v3h-3zM527.7 1560h3v3h-3zM527.7 1561.5h3v3h-3zM527.7 1563h3v3h-3zM527.7 1564.5h3v3h-3zM527.7 1566h3v3h-3zM527.7 1567.5h3v3h-3zM527.7 1569h3v3h-3zM527.7 1570.5h3v3h-3zM527.7 1573.5h3v3h-3zM529.2 1552.5h3v3h-3zM529.2 1554h3v3h-3zM529.2 1558.5h3v3h-3zM529.2 1561.5h3v3h-3zM529.2 1563h3v3h-3zM529.2 1566h3v3h-3zM529.2 1570.5h3v3h-3zM529.2 1579.5h3v3h-3zM531.6 1552.5h3v3h-3zM531.6 1557h3v3h-3zM531.6 1558.5h3v3h-3zM531.6 1561.5h3v3h-3zM531.6 1563h3v3h-3zM531.6 1566h3v3h-3zM531.6 1572h3v3h-3zM531.6 1573.5h3v3h-3zM531.6 1581h3v3h-3zM533.1 1548h3v3h-3zM533.1 1551h3v3h-3zM533.1 1552.5h3v3h-3zM533.1 1554h3v3h-3zM533.1 1557h3v3h-3zM533.1 1558.5h3v3h-3zM533.1 1560h3v3h-3zM533.1 1563h3v3h-3zM533.1 1564.5h3v3h-3zM533.1 1566h3v3h-3zM533.1 1567.5h3v3h-3zM533.1 1569h3v3h-3zM533.1 1570.5h3v3h-3zM533.1 1573.5h3v3h-3zM533.1 1575h3v3h-3zM533.1 1576.5h3v3h-3zM533.1 1584h3v3h-3zM534.6 1552.5h3v3h-3zM534.6 1554h3v3h-3zM534.6 1557h3v3h-3zM534.6 1558.5h3v3h-3zM534.6 1564.5h3v3h-3zM534.6 1566h3v3h-3zM534.6 1567.5h3v3h-3zM534.6 1569h3v3h-3zM534.6 1573.5h3v3h-3zM537 1548h3v3h-3zM537 1551h3v3h-3zM537 1555.5h3v3h-3zM537 1558.5h3v3h-3zM537 1560h3v3h-3zM537 1566h3v3h-3zM537 1578h3v3h-3zM537 1579.5h3v3h-3zM538.5 1549.5h3v3h-3zM538.5 1552.5h3v3h-3zM538.5 1554h3v3h-3zM538.5 1555.5h3v3h-3zM538.5 1557h3v3h-3zM538.5 1558.5h3v3h-3zM538.5 1561.5h3v3h-3zM538.5 1563h3v3h-3zM538.5 1564.5h3v3h-3zM538.5 1567.5h3v3h-3zM538.5 1570.5h3v3h-3zM538.5 1572h3v3h-3zM538.5 1575h3v3h-3zM538.5 1576.5h3v3h-3zM538.5 1582.5h3v3h-3zM538.5 1587h3v3h-3zM540 1549.5h3v3h-3zM540 1555.5h3v3h-3zM540 1558.5h3v3h-3zM540 1561.5h3v3h-3zM540 1569h3v3h-3zM540 1572h3v3h-3zM540 1575h3v3h-3zM542.4 1554h3v3h-3zM542.4 1555.5h3v3h-3zM542.4 1557h3v3h-3zM542.4 1563h3v3h-3zM542.4 1570.5h3v3h-3zM542.4 1572h3v3h-3zM542.4 1573.5h3v3h-3zM542.4 1581h3v3h-3zM543.9 1545h3v3h-3zM543.9 1546.5h3v3h-3zM543.9 1549.5h3v3h-3zM543.9 1551h3v3h-3zM543.9 1552.5h3v3h-3zM543.9 1554h3v3h-3zM543.9 1555.5h3v3h-3zM543.9 1560h3v3h-3zM543.9 1561.5h3v3h-3zM543.9 1563h3v3h-3zM543.9 1564.5h3v3h-3zM543.9 1566h3v3h-3zM543.9 1567.5h3v3h-3zM543.9 1569h3v3h-3zM543.9 1572h3v3h-3zM543.9 1575h3v3h-3zM543.9 1576.5h3v3h-3zM543.9 1581h3v3h-3zM543.9 1587h3v3h-3zM543.9 1590h3v3h-3zM545.4 1548h3v3h-3zM545.4 1554h3v3h-3zM545.4 1555.5h3v3h-3zM545.4 1558.5h3v3h-3zM545.4 1566h3v3h-3zM545.4 1567.5h3v3h-3zM545.4 1573.5h3v3h-3zM545.4 1575h3v3h-3zM545.4 1582.5h3v3h-3zM545.4 1588.5h3v3h-3zM547.8 1551h3v3h-3zM547.8 1561.5h3v3h-3zM547.8 1566h3v3h-3zM547.8 1570.5h3v3h-3zM547.8 1575h3v3h-3zM547.8 1579.5h3v3h-3zM547.8 1585.5h3v3h-3zM547.8 1590h3v3h-3zM549.3 1546.5h3v3h-3zM549.3 1548h3v3h-3zM549.3 1549.5h3v3h-3zM549.3 1551h3v3h-3zM549.3 1554h3v3h-3zM549.3 1557h3v3h-3zM549.3 1558.5h3v3h-3zM549.3 1560h3v3h-3zM549.3 1563h3v3h-3zM549.3 1564.5h3v3h-3zM549.3 1566h3v3h-3zM549.3 1567.5h3v3h-3zM549.3 1569h3v3h-3zM549.3 1570.5h3v3h-3zM549.3 1573.5h3v3h-3zM549.3 1576.5h3v3h-3zM549.3 1581h3v3h-3zM549.3 1582.5h3v3h-3zM549.3 1584h3v3h-3zM549.3 1585.5h3v3h-3zM549.3 1587h3v3h-3zM549.3 1590h3v3h-3zM549.3 1594.5h3v3h-3zM550.8 1554h3v3h-3zM550.8 1557h3v3h-3zM550.8 1558.5h3v3h-3zM550.8 1560h3v3h-3zM550.8 1561.5h3v3h-3zM550.8 1564.5h3v3h-3zM550.8 1567.5h3v3h-3zM550.8 1572h3v3h-3zM550.8 1573.5h3v3h-3zM550.8 1575h3v3h-3zM553.2 1546.5h3v3h-3zM553.2 1555.5h3v3h-3zM553.2 1558.5h3v3h-3zM553.2 1561.5h3v3h-3zM553.2 1563h3v3h-3zM553.2 1564.5h3v3h-3zM553.2 1567.5h3v3h-3zM553.2 1570.5h3v3h-3zM553.2 1576.5h3v3h-3zM553.2 1587h3v3h-3zM553.2 1588.5h3v3h-3zM554.7 1548h3v3h-3zM554.7 1551h3v3h-3zM554.7 1554h3v3h-3zM554.7 1555.5h3v3h-3zM554.7 1557h3v3h-3zM554.7 1558.5h3v3h-3zM554.7 1560h3v3h-3zM554.7 1563h3v3h-3zM554.7 1564.5h3v3h-3zM554.7 1566h3v3h-3zM554.7 1569h3v3h-3zM554.7 1572h3v3h-3zM554.7 1573.5h3v3h-3zM554.7 1579.5h3v3h-3zM554.7 1581h3v3h-3zM554.7 1593h3v3h-3zM554.7 1596h3v3h-3zM556.2 1549.5h3v3h-3zM556.2 1554h3v3h-3zM556.2 1558.5h3v3h-3zM556.2 1560h3v3h-3zM556.2 1564.5h3v3h-3zM556.2 1569h3v3h-3zM556.2 1581h3v3h-3zM556.2 1594.5h3v3h-3zM558.6 1552.5h3v3h-3zM558.6 1554h3v3h-3zM558.6 1557h3v3h-3zM558.6 1564.5h3v3h-3zM558.6 1569h3v3h-3zM558.6 1572h3v3h-3zM558.6 1579.5h3v3h-3zM558.6 1585.5h3v3h-3zM558.6 1596h3v3h-3zM560.1 1548h3v3h-3zM560.1 1551h3v3h-3zM560.1 1552.5h3v3h-3zM560.1 1554h3v3h-3zM560.1 1555.5h3v3h-3zM560.1 1558.5h3v3h-3zM560.1 1560h3v3h-3zM560.1 1566h3v3h-3zM560.1 1569h3v3h-3zM560.1 1570.5h3v3h-3zM560.1 1573.5h3v3h-3zM560.1 1575h3v3h-3zM560.1 1576.5h3v3h-3zM560.1 1578h3v3h-3zM560.1 1579.5h3v3h-3zM560.1 1587h3v3h-3zM560.1 1588.5h3v3h-3zM560.1 1591.5h3v3h-3zM560.1 1596h3v3h-3zM560.1 1605h3v3h-3zM561.6 1552.5h3v3h-3zM561.6 1573.5h3v3h-3zM561.6 1575h3v3h-3zM561.6 1588.5h3v3h-3zM561.6 1591.5h3v3h-3zM561.6 1593h3v3h-3zM561.6 1597.5h3v3h-3zM564 1551h3v3h-3zM564 1557h3v3h-3zM564 1558.5h3v3h-3zM564 1560h3v3h-3zM564 1561.5h3v3h-3zM564 1567.5h3v3h-3zM564 1572h3v3h-3zM564 1582.5h3v3h-3zM564 1594.5h3v3h-3zM564 1608h3v3h-3zM565.5 1543.5h3v3h-3zM565.5 1551h3v3h-3zM565.5 1554h3v3h-3zM565.5 1555.5h3v3h-3zM565.5 1557h3v3h-3zM565.5 1560h3v3h-3zM565.5 1561.5h3v3h-3zM565.5 1566h3v3h-3zM565.5 1570.5h3v3h-3zM565.5 1572h3v3h-3zM565.5 1573.5h3v3h-3zM565.5 1575h3v3h-3zM565.5 1576.5h3v3h-3zM565.5 1578h3v3h-3zM565.5 1581h3v3h-3zM565.5 1587h3v3h-3zM565.5 1588.5h3v3h-3zM565.5 1590h3v3h-3zM565.5 1594.5h3v3h-3zM565.5 1599h3v3h-3zM565.5 1600.5h3v3h-3zM565.5 1609.5h3v3h-3zM567 1554h3v3h-3zM567 1555.5h3v3h-3zM567 1557h3v3h-3zM567 1579.5h3v3h-3zM567 1581h3v3h-3zM567 1594.5h3v3h-3zM567 1602h3v3h-3zM569.4 1558.5h3v3h-3zM569.4 1563h3v3h-3zM569.4 1566h3v3h-3zM569.4 1575h3v3h-3zM569.4 1591.5h3v3h-3zM569.4 1603.5h3v3h-3zM570.9 1551h3v3h-3zM570.9 1552.5h3v3h-3zM570.9 1557h3v3h-3zM570.9 1558.5h3v3h-3zM570.9 1560h3v3h-3zM570.9 1563h3v3h-3zM570.9 1564.5h3v3h-3zM570.9 1566h3v3h-3zM570.9 1567.5h3v3h-3zM570.9 1569h3v3h-3zM570.9 1570.5h3v3h-3zM570.9 1572h3v3h-3zM570.9 1573.5h3v3h-3zM570.9 1575h3v3h-3zM570.9 1576.5h3v3h-3zM570.9 1582.5h3v3h-3zM570.9 1584h3v3h-3zM570.9 1585.5h3v3h-3zM570.9 1587h3v3h-3zM570.9 1588.5h3v3h-3zM570.9 1590h3v3h-3zM570.9 1591.5h3v3h-3zM570.9 1596h3v3h-3zM570.9 1597.5h3v3h-3zM570.9 1599h3v3h-3zM570.9 1603.5h3v3h-3zM572.4 1552.5h3v3h-3zM572.4 1557h3v3h-3zM572.4 1560h3v3h-3zM572.4 1561.5h3v3h-3zM572.4 1563h3v3h-3zM572.4 1569h3v3h-3zM572.4 1570.5h3v3h-3zM572.4 1572h3v3h-3zM572.4 1575h3v3h-3zM572.4 1578h3v3h-3zM572.4 1582.5h3v3h-3zM572.4 1605h3v3h-3zM574.8 1546.5h3v3h-3zM574.8 1551h3v3h-3zM574.8 1561.5h3v3h-3zM574.8 1567.5h3v3h-3zM574.8 1573.5h3v3h-3zM574.8 1582.5h3v3h-3zM574.8 1591.5h3v3h-3zM574.8 1596h3v3h-3zM574.8 1603.5h3v3h-3zM574.8 1609.5h3v3h-3zM576.3 1546.5h3v3h-3zM576.3 1548h3v3h-3zM576.3 1549.5h3v3h-3zM576.3 1558.5h3v3h-3zM576.3 1560h3v3h-3zM576.3 1561.5h3v3h-3zM576.3 1564.5h3v3h-3zM576.3 1567.5h3v3h-3zM576.3 1569h3v3h-3zM576.3 1570.5h3v3h-3zM576.3 1573.5h3v3h-3zM576.3 1575h3v3h-3zM576.3 1576.5h3v3h-3zM576.3 1582.5h3v3h-3zM576.3 1584h3v3h-3zM576.3 1585.5h3v3h-3zM576.3 1587h3v3h-3zM576.3 1588.5h3v3h-3zM576.3 1590h3v3h-3zM576.3 1591.5h3v3h-3zM576.3 1593h3v3h-3zM576.3 1597.5h3v3h-3zM576.3 1599h3v3h-3zM576.3 1603.5h3v3h-3zM576.3 1605h3v3h-3zM576.3 1606.5h3v3h-3zM576.3 1609.5h3v3h-3zM576.3 1612.5h3v3h-3zM577.8 1558.5h3v3h-3zM577.8 1561.5h3v3h-3zM577.8 1563h3v3h-3zM577.8 1567.5h3v3h-3zM577.8 1575h3v3h-3zM577.8 1579.5h3v3h-3zM577.8 1591.5h3v3h-3zM577.8 1593h3v3h-3zM577.8 1608h3v3h-3zM580.2 1554h3v3h-3zM580.2 1555.5h3v3h-3zM580.2 1558.5h3v3h-3zM580.2 1560h3v3h-3zM580.2 1569h3v3h-3zM580.2 1570.5h3v3h-3zM580.2 1575h3v3h-3zM580.2 1576.5h3v3h-3zM580.2 1596h3v3h-3zM580.2 1608h3v3h-3zM581.7 1545h3v3h-3zM581.7 1548h3v3h-3zM581.7 1551h3v3h-3zM581.7 1554h3v3h-3zM581.7 1557h3v3h-3zM581.7 1558.5h3v3h-3zM581.7 1560h3v3h-3zM581.7 1561.5h3v3h-3zM581.7 1564.5h3v3h-3zM581.7 1566h3v3h-3zM581.7 1567.5h3v3h-3zM581.7 1569h3v3h-3zM581.7 1570.5h3v3h-3zM581.7 1572h3v3h-3zM581.7 1573.5h3v3h-3zM581.7 1582.5h3v3h-3zM581.7 1591.5h3v3h-3zM581.7 1596h3v3h-3zM581.7 1600.5h3v3h-3zM581.7 1608h3v3h-3zM581.7 1612.5h3v3h-3zM581.7 1618.5h3v3h-3zM581.7 1623h3v3h-3zM583.2 1552.5h3v3h-3zM583.2 1560h3v3h-3zM583.2 1569h3v3h-3zM583.2 1570.5h3v3h-3zM583.2 1572h3v3h-3zM583.2 1575h3v3h-3zM583.2 1576.5h3v3h-3zM583.2 1581h3v3h-3zM583.2 1582.5h3v3h-3zM583.2 1590h3v3h-3zM583.2 1605h3v3h-3zM583.2 1606.5h3v3h-3zM583.2 1611h3v3h-3zM585.6 1561.5h3v3h-3zM585.6 1566h3v3h-3zM585.6 1567.5h3v3h-3zM585.6 1570.5h3v3h-3zM585.6 1573.5h3v3h-3zM585.6 1575h3v3h-3zM585.6 1578h3v3h-3zM585.6 1585.5h3v3h-3zM585.6 1588.5h3v3h-3zM585.6 1590h3v3h-3zM585.6 1593h3v3h-3zM585.6 1594.5h3v3h-3zM585.6 1602h3v3h-3zM585.6 1609.5h3v3h-3zM585.6 1617h3v3h-3zM585.6 1618.5h3v3h-3zM585.6 1620h3v3h-3zM587.1 1548h3v3h-3zM587.1 1552.5h3v3h-3zM587.1 1560h3v3h-3zM587.1 1564.5h3v3h-3zM587.1 1566h3v3h-3zM587.1 1569h3v3h-3zM587.1 1570.5h3v3h-3zM587.1 1572h3v3h-3zM587.1 1573.5h3v3h-3zM587.1 1576.5h3v3h-3zM587.1 1578h3v3h-3zM587.1 1579.5h3v3h-3zM587.1 1584h3v3h-3zM587.1 1587h3v3h-3zM587.1 1590h3v3h-3zM587.1 1591.5h3v3h-3zM587.1 1593h3v3h-3zM587.1 1599h3v3h-3zM587.1 1603.5h3v3h-3zM587.1 1606.5h3v3h-3zM587.1 1608h3v3h-3zM587.1 1609.5h3v3h-3zM587.1 1612.5h3v3h-3zM587.1 1627.5h3v3h-3zM588.6 1545h3v3h-3zM588.6 1548h3v3h-3zM588.6 1564.5h3v3h-3zM588.6 1569h3v3h-3zM588.6 1579.5h3v3h-3zM588.6 1582.5h3v3h-3zM588.6 1600.5h3v3h-3zM588.6 1603.5h3v3h-3zM588.6 1609.5h3v3h-3zM588.6 1612.5h3v3h-3zM588.6 1614h3v3h-3zM591 1554h3v3h-3zM591 1558.5h3v3h-3zM591 1572h3v3h-3zM591 1582.5h3v3h-3zM591 1600.5h3v3h-3zM591 1621.5h3v3h-3zM592.5 1546.5h3v3h-3zM592.5 1551h3v3h-3zM592.5 1554h3v3h-3zM592.5 1555.5h3v3h-3zM592.5 1560h3v3h-3zM592.5 1561.5h3v3h-3zM592.5 1563h3v3h-3zM592.5 1564.5h3v3h-3zM592.5 1567.5h3v3h-3zM592.5 1569h3v3h-3zM592.5 1570.5h3v3h-3zM592.5 1573.5h3v3h-3zM592.5 1575h3v3h-3zM592.5 1576.5h3v3h-3zM592.5 1578h3v3h-3zM592.5 1581h3v3h-3zM592.5 1584h3v3h-3zM592.5 1585.5h3v3h-3zM592.5 1587h3v3h-3zM592.5 1588.5h3v3h-3zM592.5 1590h3v3h-3zM592.5 1591.5h3v3h-3zM592.5 1594.5h3v3h-3zM592.5 1600.5h3v3h-3zM592.5 1605h3v3h-3zM592.5 1606.5h3v3h-3zM592.5 1608h3v3h-3zM592.5 1612.5h3v3h-3zM592.5 1618.5h3v3h-3zM594 1549.5h3v3h-3zM594 1557h3v3h-3zM594 1573.5h3v3h-3zM594 1575h3v3h-3zM594 1576.5h3v3h-3zM594 1578h3v3h-3zM594 1581h3v3h-3zM594 1593h3v3h-3zM594 1597.5h3v3h-3zM594 1600.5h3v3h-3zM594 1621.5h3v3h-3zM596.4 1545h3v3h-3zM596.4 1555.5h3v3h-3zM596.4 1557h3v3h-3zM596.4 1564.5h3v3h-3zM596.4 1576.5h3v3h-3zM596.4 1600.5h3v3h-3zM596.4 1611h3v3h-3zM596.4 1612.5h3v3h-3zM596.4 1614h3v3h-3zM597.9 1554h3v3h-3zM597.9 1557h3v3h-3zM597.9 1558.5h3v3h-3zM597.9 1566h3v3h-3zM597.9 1567.5h3v3h-3zM597.9 1569h3v3h-3zM597.9 1570.5h3v3h-3zM597.9 1572h3v3h-3zM597.9 1578h3v3h-3zM597.9 1582.5h3v3h-3zM597.9 1584h3v3h-3zM597.9 1587h3v3h-3zM597.9 1590h3v3h-3zM597.9 1591.5h3v3h-3zM597.9 1596h3v3h-3zM597.9 1602h3v3h-3zM597.9 1606.5h3v3h-3zM597.9 1608h3v3h-3zM597.9 1612.5h3v3h-3zM597.9 1617h3v3h-3zM597.9 1626h3v3h-3zM599.4 1558.5h3v3h-3zM599.4 1579.5h3v3h-3zM599.4 1603.5h3v3h-3zM599.4 1609.5h3v3h-3zM599.4 1612.5h3v3h-3zM601.8 1551h3v3h-3zM601.8 1555.5h3v3h-3zM601.8 1563h3v3h-3zM601.8 1566h3v3h-3zM601.8 1570.5h3v3h-3zM601.8 1573.5h3v3h-3zM601.8 1575h3v3h-3zM601.8 1581h3v3h-3zM601.8 1594.5h3v3h-3zM601.8 1597.5h3v3h-3zM601.8 1600.5h3v3h-3zM601.8 1602h3v3h-3zM603.3 1545h3v3h-3zM603.3 1554h3v3h-3zM603.3 1557h3v3h-3zM603.3 1561.5h3v3h-3zM603.3 1563h3v3h-3zM603.3 1564.5h3v3h-3zM603.3 1566h3v3h-3zM603.3 1569h3v3h-3zM603.3 1573.5h3v3h-3zM603.3 1576.5h3v3h-3zM603.3 1579.5h3v3h-3zM603.3 1581h3v3h-3zM603.3 1582.5h3v3h-3zM603.3 1584h3v3h-3zM603.3 1585.5h3v3h-3zM603.3 1597.5h3v3h-3zM603.3 1599h3v3h-3zM603.3 1602h3v3h-3zM603.3 1603.5h3v3h-3zM603.3 1608h3v3h-3zM603.3 1609.5h3v3h-3zM603.3 1612.5h3v3h-3zM603.3 1621.5h3v3h-3zM603.3 1624.5h3v3h-3zM603.3 1630.5h3v3h-3zM604.8 1554h3v3h-3zM604.8 1567.5h3v3h-3zM604.8 1570.5h3v3h-3zM604.8 1575h3v3h-3zM604.8 1576.5h3v3h-3zM604.8 1582.5h3v3h-3zM604.8 1588.5h3v3h-3zM604.8 1609.5h3v3h-3zM604.8 1611h3v3h-3zM607.2 1554h3v3h-3zM607.2 1561.5h3v3h-3zM607.2 1575h3v3h-3zM607.2 1582.5h3v3h-3zM607.2 1587h3v3h-3zM607.2 1591.5h3v3h-3zM607.2 1602h3v3h-3zM607.2 1605h3v3h-3zM607.2 1611h3v3h-3zM607.2 1633.5h3v3h-3zM608.7 1546.5h3v3h-3zM608.7 1548h3v3h-3zM608.7 1551h3v3h-3zM608.7 1558.5h3v3h-3zM608.7 1563h3v3h-3zM608.7 1566h3v3h-3zM608.7 1567.5h3v3h-3zM608.7 1569h3v3h-3zM608.7 1570.5h3v3h-3zM608.7 1572h3v3h-3zM608.7 1575h3v3h-3zM608.7 1578h3v3h-3zM608.7 1579.5h3v3h-3zM608.7 1582.5h3v3h-3zM608.7 1585.5h3v3h-3zM608.7 1588.5h3v3h-3zM608.7 1591.5h3v3h-3zM608.7 1593h3v3h-3zM608.7 1597.5h3v3h-3zM608.7 1605h3v3h-3zM608.7 1608h3v3h-3zM608.7 1611h3v3h-3zM608.7 1612.5h3v3h-3zM608.7 1618.5h3v3h-3zM608.7 1626h3v3h-3zM608.7 1627.5h3v3h-3zM608.7 1635h3v3h-3zM610.2 1552.5h3v3h-3zM610.2 1560h3v3h-3zM610.2 1566h3v3h-3zM610.2 1572h3v3h-3zM610.2 1584h3v3h-3zM610.2 1597.5h3v3h-3zM610.2 1605h3v3h-3zM610.2 1624.5h3v3h-3zM612.6 1545h3v3h-3zM612.6 1564.5h3v3h-3zM612.6 1582.5h3v3h-3zM612.6 1590h3v3h-3zM612.6 1593h3v3h-3zM612.6 1599h3v3h-3zM612.6 1603.5h3v3h-3zM612.6 1624.5h3v3h-3zM614.1 1546.5h3v3h-3zM614.1 1549.5h3v3h-3zM614.1 1551h3v3h-3zM614.1 1558.5h3v3h-3zM614.1 1561.5h3v3h-3zM614.1 1566h3v3h-3zM614.1 1573.5h3v3h-3zM614.1 1575h3v3h-3zM614.1 1579.5h3v3h-3zM614.1 1581h3v3h-3zM614.1 1582.5h3v3h-3zM614.1 1585.5h3v3h-3zM614.1 1590h3v3h-3zM614.1 1593h3v3h-3zM614.1 1594.5h3v3h-3zM614.1 1597.5h3v3h-3zM614.1 1603.5h3v3h-3zM614.1 1606.5h3v3h-3zM614.1 1608h3v3h-3zM614.1 1609.5h3v3h-3zM614.1 1614h3v3h-3zM614.1 1617h3v3h-3zM614.1 1618.5h3v3h-3zM614.1 1620h3v3h-3zM614.1 1624.5h3v3h-3zM614.1 1627.5h3v3h-3zM614.1 1630.5h3v3h-3zM614.1 1638h3v3h-3zM614.1 1644h3v3h-3zM615.6 1545h3v3h-3zM615.6 1576.5h3v3h-3zM615.6 1578h3v3h-3zM615.6 1597.5h3v3h-3zM615.6 1605h3v3h-3zM615.6 1614h3v3h-3zM615.6 1615.5h3v3h-3zM615.6 1623h3v3h-3zM615.6 1624.5h3v3h-3zM618 1545h3v3h-3zM618 1551h3v3h-3zM618 1552.5h3v3h-3zM618 1555.5h3v3h-3zM618 1561.5h3v3h-3zM618 1567.5h3v3h-3zM618 1569h3v3h-3zM618 1587h3v3h-3zM618 1602h3v3h-3zM618 1608h3v3h-3zM618 1614h3v3h-3zM618 1624.5h3v3h-3zM618 1630.5h3v3h-3zM618 1633.5h3v3h-3zM619.5 1546.5h3v3h-3zM619.5 1551h3v3h-3zM619.5 1554h3v3h-3zM619.5 1557h3v3h-3zM619.5 1561.5h3v3h-3zM619.5 1563h3v3h-3zM619.5 1564.5h3v3h-3zM619.5 1566h3v3h-3zM619.5 1573.5h3v3h-3zM619.5 1581h3v3h-3zM619.5 1585.5h3v3h-3zM619.5 1587h3v3h-3zM619.5 1591.5h3v3h-3zM619.5 1596h3v3h-3zM619.5 1602h3v3h-3zM619.5 1605h3v3h-3zM619.5 1614h3v3h-3zM619.5 1621.5h3v3h-3zM619.5 1630.5h3v3h-3zM619.5 1639.5h3v3h-3zM621 1551h3v3h-3zM621 1557h3v3h-3zM621 1566h3v3h-3zM621 1572h3v3h-3zM621 1575h3v3h-3zM621 1578h3v3h-3zM621 1579.5h3v3h-3zM621 1600.5h3v3h-3zM621 1602h3v3h-3zM621 1609.5h3v3h-3zM621 1612.5h3v3h-3zM621 1615.5h3v3h-3zM621 1630.5h3v3h-3zM623.4 1561.5h3v3h-3zM623.4 1566h3v3h-3zM623.4 1582.5h3v3h-3zM623.4 1593h3v3h-3zM623.4 1597.5h3v3h-3zM623.4 1602h3v3h-3zM623.4 1608h3v3h-3zM623.4 1629h3v3h-3zM624.9 1546.5h3v3h-3zM624.9 1552.5h3v3h-3zM624.9 1560h3v3h-3zM624.9 1561.5h3v3h-3zM624.9 1566h3v3h-3zM624.9 1567.5h3v3h-3zM624.9 1569h3v3h-3zM624.9 1572h3v3h-3zM624.9 1579.5h3v3h-3zM624.9 1581h3v3h-3zM624.9 1582.5h3v3h-3zM624.9 1588.5h3v3h-3zM624.9 1600.5h3v3h-3zM624.9 1602h3v3h-3zM624.9 1605h3v3h-3zM624.9 1609.5h3v3h-3zM624.9 1611h3v3h-3zM624.9 1624.5h3v3h-3zM624.9 1648.5h3v3h-3zM626.4 1557h3v3h-3zM626.4 1561.5h3v3h-3zM626.4 1597.5h3v3h-3zM626.4 1612.5h3v3h-3zM626.4 1626h3v3h-3zM626.4 1629h3v3h-3zM626.4 1642.5h3v3h-3zM628.8 1561.5h3v3h-3zM628.8 1572h3v3h-3zM628.8 1573.5h3v3h-3zM628.8 1578h3v3h-3zM628.8 1594.5h3v3h-3zM628.8 1603.5h3v3h-3zM628.8 1608h3v3h-3zM628.8 1627.5h3v3h-3zM628.8 1629h3v3h-3zM628.8 1632h3v3h-3zM628.8 1644h3v3h-3zM630.3 1554h3v3h-3zM630.3 1557h3v3h-3zM630.3 1558.5h3v3h-3zM630.3 1560h3v3h-3zM630.3 1563h3v3h-3zM630.3 1564.5h3v3h-3zM630.3 1566h3v3h-3zM630.3 1569h3v3h-3zM630.3 1572h3v3h-3zM630.3 1573.5h3v3h-3zM630.3 1575h3v3h-3zM630.3 1576.5h3v3h-3zM630.3 1578h3v3h-3zM630.3 1581h3v3h-3zM630.3 1584h3v3h-3zM630.3 1585.5h3v3h-3zM630.3 1587h3v3h-3zM630.3 1594.5h3v3h-3zM630.3 1602h3v3h-3zM630.3 1606.5h3v3h-3zM630.3 1608h3v3h-3zM630.3 1609.5h3v3h-3zM630.3 1614h3v3h-3zM630.3 1615.5h3v3h-3zM630.3 1620h3v3h-3zM630.3 1629h3v3h-3zM630.3 1630.5h3v3h-3zM630.3 1638h3v3h-3zM630.3 1642.5h3v3h-3zM631.8 1597.5h3v3h-3zM631.8 1602h3v3h-3zM631.8 1609.5h3v3h-3zM631.8 1632h3v3h-3zM631.8 1654.5h3v3h-3zM634.2 1548h3v3h-3zM634.2 1549.5h3v3h-3zM634.2 1569h3v3h-3zM634.2 1570.5h3v3h-3zM634.2 1572h3v3h-3zM634.2 1575h3v3h-3zM634.2 1581h3v3h-3zM634.2 1582.5h3v3h-3zM634.2 1585.5h3v3h-3zM634.2 1590h3v3h-3zM634.2 1597.5h3v3h-3zM634.2 1608h3v3h-3zM635.7 1546.5h3v3h-3zM635.7 1551h3v3h-3zM635.7 1554h3v3h-3zM635.7 1558.5h3v3h-3zM635.7 1561.5h3v3h-3zM635.7 1563h3v3h-3zM635.7 1564.5h3v3h-3zM635.7 1567.5h3v3h-3zM635.7 1570.5h3v3h-3zM635.7 1572h3v3h-3zM635.7 1573.5h3v3h-3zM635.7 1578h3v3h-3zM635.7 1579.5h3v3h-3zM635.7 1584h3v3h-3zM635.7 1587h3v3h-3zM635.7 1591.5h3v3h-3zM635.7 1597.5h3v3h-3zM635.7 1600.5h3v3h-3zM635.7 1605h3v3h-3zM635.7 1609.5h3v3h-3zM635.7 1612.5h3v3h-3zM635.7 1617h3v3h-3zM635.7 1623h3v3h-3zM635.7 1632h3v3h-3zM635.7 1638h3v3h-3zM635.7 1644h3v3h-3zM635.7 1645.5h3v3h-3zM635.7 1650h3v3h-3zM637.2 1549.5h3v3h-3zM637.2 1567.5h3v3h-3zM637.2 1597.5h3v3h-3zM637.2 1599h3v3h-3zM637.2 1600.5h3v3h-3zM637.2 1608h3v3h-3zM637.2 1612.5h3v3h-3zM637.2 1635h3v3h-3zM637.2 1636.5h3v3h-3zM639.6 1558.5h3v3h-3zM639.6 1560h3v3h-3zM639.6 1567.5h3v3h-3zM639.6 1578h3v3h-3zM639.6 1579.5h3v3h-3zM639.6 1588.5h3v3h-3zM639.6 1594.5h3v3h-3zM639.6 1600.5h3v3h-3zM639.6 1608h3v3h-3zM639.6 1609.5h3v3h-3zM639.6 1611h3v3h-3zM639.6 1614h3v3h-3zM639.6 1620h3v3h-3zM639.6 1629h3v3h-3zM641.1 1546.5h3v3h-3zM641.1 1563h3v3h-3zM641.1 1564.5h3v3h-3zM641.1 1569h3v3h-3zM641.1 1570.5h3v3h-3zM641.1 1572h3v3h-3zM641.1 1573.5h3v3h-3zM641.1 1576.5h3v3h-3zM641.1 1578h3v3h-3zM641.1 1588.5h3v3h-3zM641.1 1591.5h3v3h-3zM641.1 1600.5h3v3h-3zM641.1 1603.5h3v3h-3zM641.1 1606.5h3v3h-3zM641.1 1611h3v3h-3zM641.1 1614h3v3h-3zM641.1 1617h3v3h-3zM641.1 1618.5h3v3h-3zM641.1 1621.5h3v3h-3zM641.1 1623h3v3h-3zM641.1 1624.5h3v3h-3zM641.1 1627.5h3v3h-3zM641.1 1629h3v3h-3zM641.1 1630.5h3v3h-3zM642.6 1566h3v3h-3zM642.6 1587h3v3h-3zM642.6 1593h3v3h-3zM642.6 1596h3v3h-3zM642.6 1605h3v3h-3zM642.6 1627.5h3v3h-3zM645 1561.5h3v3h-3zM645 1596h3v3h-3zM645 1600.5h3v3h-3zM645 1603.5h3v3h-3zM645 1605h3v3h-3zM645 1614h3v3h-3zM645 1621.5h3v3h-3zM645 1623h3v3h-3zM645 1627.5h3v3h-3zM646.5 1552.5h3v3h-3zM646.5 1555.5h3v3h-3zM646.5 1557h3v3h-3zM646.5 1567.5h3v3h-3zM646.5 1569h3v3h-3zM646.5 1570.5h3v3h-3zM646.5 1576.5h3v3h-3zM646.5 1578h3v3h-3zM646.5 1579.5h3v3h-3zM646.5 1581h3v3h-3zM646.5 1582.5h3v3h-3zM646.5 1584h3v3h-3zM646.5 1585.5h3v3h-3zM646.5 1605h3v3h-3zM646.5 1608h3v3h-3zM646.5 1615.5h3v3h-3zM646.5 1617h3v3h-3zM646.5 1618.5h3v3h-3zM646.5 1620h3v3h-3zM646.5 1623h3v3h-3zM646.5 1626h3v3h-3zM646.5 1627.5h3v3h-3zM646.5 1630.5h3v3h-3zM646.5 1641h3v3h-3zM646.5 1642.5h3v3h-3zM646.5 1644h3v3h-3zM648 1551h3v3h-3zM648 1554h3v3h-3zM648 1560h3v3h-3zM648 1569h3v3h-3zM648 1575h3v3h-3zM648 1585.5h3v3h-3zM648 1588.5h3v3h-3zM648 1590h3v3h-3zM648 1594.5h3v3h-3zM648 1600.5h3v3h-3zM648 1612.5h3v3h-3zM648 1624.5h3v3h-3zM648 1641h3v3h-3zM650.4 1543.5h3v3h-3zM650.4 1552.5h3v3h-3zM650.4 1554h3v3h-3zM650.4 1560h3v3h-3zM650.4 1563h3v3h-3zM650.4 1567.5h3v3h-3zM650.4 1569h3v3h-3zM650.4 1581h3v3h-3zM650.4 1584h3v3h-3zM650.4 1597.5h3v3h-3zM650.4 1600.5h3v3h-3zM650.4 1605h3v3h-3zM650.4 1608h3v3h-3zM650.4 1612.5h3v3h-3zM650.4 1627.5h3v3h-3zM650.4 1629h3v3h-3zM650.4 1651.5h3v3h-3zM651.9 1560h3v3h-3zM651.9 1563h3v3h-3zM651.9 1564.5h3v3h-3zM651.9 1569h3v3h-3zM651.9 1573.5h3v3h-3zM651.9 1576.5h3v3h-3zM651.9 1578h3v3h-3zM651.9 1584h3v3h-3zM651.9 1585.5h3v3h-3zM651.9 1588.5h3v3h-3zM651.9 1600.5h3v3h-3zM651.9 1602h3v3h-3zM651.9 1603.5h3v3h-3zM651.9 1606.5h3v3h-3zM651.9 1608h3v3h-3zM651.9 1609.5h3v3h-3zM651.9 1611h3v3h-3zM651.9 1617h3v3h-3zM651.9 1618.5h3v3h-3zM651.9 1629h3v3h-3zM651.9 1633.5h3v3h-3zM651.9 1636.5h3v3h-3zM651.9 1641h3v3h-3zM651.9 1657.5h3v3h-3zM653.4 1548h3v3h-3zM653.4 1552.5h3v3h-3zM653.4 1566h3v3h-3zM653.4 1594.5h3v3h-3zM653.4 1599h3v3h-3zM653.4 1605h3v3h-3zM653.4 1606.5h3v3h-3zM653.4 1608h3v3h-3zM653.4 1611h3v3h-3zM653.4 1624.5h3v3h-3zM653.4 1633.5h3v3h-3zM653.4 1635h3v3h-3zM653.4 1641h3v3h-3zM653.4 1647h3v3h-3zM653.4 1656h3v3h-3zM655.8 1546.5h3v3h-3zM655.8 1549.5h3v3h-3zM655.8 1557h3v3h-3zM655.8 1566h3v3h-3zM655.8 1567.5h3v3h-3zM655.8 1569h3v3h-3zM655.8 1573.5h3v3h-3zM655.8 1575h3v3h-3zM655.8 1584h3v3h-3zM655.8 1588.5h3v3h-3zM655.8 1597.5h3v3h-3zM655.8 1617h3v3h-3zM655.8 1630.5h3v3h-3zM655.8 1632h3v3h-3zM657.3 1549.5h3v3h-3zM657.3 1554h3v3h-3zM657.3 1555.5h3v3h-3zM657.3 1560h3v3h-3zM657.3 1563h3v3h-3zM657.3 1567.5h3v3h-3zM657.3 1572h3v3h-3zM657.3 1576.5h3v3h-3zM657.3 1608h3v3h-3zM657.3 1609.5h3v3h-3zM657.3 1612.5h3v3h-3zM657.3 1617h3v3h-3zM657.3 1618.5h3v3h-3zM657.3 1624.5h3v3h-3zM657.3 1627.5h3v3h-3zM657.3 1635h3v3h-3zM657.3 1642.5h3v3h-3zM657.3 1645.5h3v3h-3zM657.3 1653h3v3h-3zM657.3 1665h3v3h-3zM658.8 1560h3v3h-3zM658.8 1563h3v3h-3zM658.8 1566h3v3h-3zM658.8 1567.5h3v3h-3zM658.8 1572h3v3h-3zM658.8 1573.5h3v3h-3zM658.8 1576.5h3v3h-3zM658.8 1587h3v3h-3zM658.8 1609.5h3v3h-3zM658.8 1614h3v3h-3zM658.8 1629h3v3h-3zM658.8 1651.5h3v3h-3zM661.2 1564.5h3v3h-3zM661.2 1570.5h3v3h-3zM661.2 1578h3v3h-3zM661.2 1590h3v3h-3zM661.2 1596h3v3h-3zM661.2 1600.5h3v3h-3zM661.2 1624.5h3v3h-3zM661.2 1630.5h3v3h-3zM661.2 1633.5h3v3h-3zM661.2 1642.5h3v3h-3zM661.2 1654.5h3v3h-3zM662.7 1552.5h3v3h-3zM662.7 1554h3v3h-3zM662.7 1558.5h3v3h-3zM662.7 1561.5h3v3h-3zM662.7 1570.5h3v3h-3zM662.7 1572h3v3h-3zM662.7 1576.5h3v3h-3zM662.7 1582.5h3v3h-3zM662.7 1584h3v3h-3zM662.7 1590h3v3h-3zM662.7 1591.5h3v3h-3zM662.7 1594.5h3v3h-3zM662.7 1608h3v3h-3zM662.7 1609.5h3v3h-3zM662.7 1624.5h3v3h-3zM662.7 1627.5h3v3h-3zM662.7 1630.5h3v3h-3zM662.7 1638h3v3h-3zM662.7 1639.5h3v3h-3zM662.7 1647h3v3h-3zM662.7 1648.5h3v3h-3zM662.7 1654.5h3v3h-3zM664.2 1551h3v3h-3zM664.2 1558.5h3v3h-3zM664.2 1578h3v3h-3zM664.2 1581h3v3h-3zM664.2 1584h3v3h-3zM664.2 1585.5h3v3h-3zM664.2 1590h3v3h-3zM664.2 1593h3v3h-3zM664.2 1603.5h3v3h-3zM664.2 1606.5h3v3h-3zM664.2 1620h3v3h-3zM664.2 1633.5h3v3h-3zM664.2 1656h3v3h-3zM664.2 1665h3v3h-3zM666.6 1591.5h3v3h-3zM666.6 1596h3v3h-3zM666.6 1600.5h3v3h-3zM666.6 1605h3v3h-3zM666.6 1612.5h3v3h-3zM666.6 1618.5h3v3h-3zM666.6 1623h3v3h-3zM666.6 1644h3v3h-3zM666.6 1647h3v3h-3zM666.6 1653h3v3h-3zM668.1 1543.5h3v3h-3zM668.1 1549.5h3v3h-3zM668.1 1552.5h3v3h-3zM668.1 1558.5h3v3h-3zM668.1 1560h3v3h-3zM668.1 1561.5h3v3h-3zM668.1 1563h3v3h-3zM668.1 1564.5h3v3h-3zM668.1 1566h3v3h-3zM668.1 1567.5h3v3h-3zM668.1 1573.5h3v3h-3zM668.1 1575h3v3h-3zM668.1 1576.5h3v3h-3zM668.1 1579.5h3v3h-3zM668.1 1582.5h3v3h-3zM668.1 1587h3v3h-3zM668.1 1594.5h3v3h-3zM668.1 1602h3v3h-3zM668.1 1603.5h3v3h-3zM668.1 1606.5h3v3h-3zM668.1 1608h3v3h-3zM668.1 1609.5h3v3h-3zM668.1 1612.5h3v3h-3zM668.1 1617h3v3h-3zM668.1 1620h3v3h-3zM668.1 1630.5h3v3h-3zM668.1 1638h3v3h-3zM668.1 1644h3v3h-3zM668.1 1654.5h3v3h-3zM669.6 1545h3v3h-3zM669.6 1569h3v3h-3zM669.6 1630.5h3v3h-3zM669.6 1648.5h3v3h-3zM669.6 1651.5h3v3h-3zM672 1548h3v3h-3zM672 1549.5h3v3h-3zM672 1561.5h3v3h-3zM672 1567.5h3v3h-3zM672 1570.5h3v3h-3zM672 1573.5h3v3h-3zM672 1581h3v3h-3zM672 1584h3v3h-3zM672 1599h3v3h-3zM672 1609.5h3v3h-3zM672 1611h3v3h-3zM672 1632h3v3h-3zM672 1656h3v3h-3zM673.5 1555.5h3v3h-3zM673.5 1566h3v3h-3zM673.5 1572h3v3h-3zM673.5 1584h3v3h-3zM673.5 1587h3v3h-3zM673.5 1593h3v3h-3zM673.5 1599h3v3h-3zM673.5 1600.5h3v3h-3zM673.5 1603.5h3v3h-3zM673.5 1611h3v3h-3zM673.5 1612.5h3v3h-3zM673.5 1617h3v3h-3zM673.5 1632h3v3h-3zM675 1588.5h3v3h-3zM675 1596h3v3h-3zM675 1642.5h3v3h-3zM677.4 1549.5h3v3h-3zM677.4 1552.5h3v3h-3zM677.4 1570.5h3v3h-3zM677.4 1582.5h3v3h-3zM677.4 1588.5h3v3h-3zM677.4 1594.5h3v3h-3zM677.4 1596h3v3h-3zM677.4 1603.5h3v3h-3zM677.4 1620h3v3h-3zM677.4 1629h3v3h-3zM678.9 1549.5h3v3h-3zM678.9 1552.5h3v3h-3zM678.9 1557h3v3h-3zM678.9 1558.5h3v3h-3zM678.9 1561.5h3v3h-3zM678.9 1563h3v3h-3zM678.9 1566h3v3h-3zM678.9 1567.5h3v3h-3zM678.9 1570.5h3v3h-3zM678.9 1573.5h3v3h-3zM678.9 1575h3v3h-3zM678.9 1578h3v3h-3zM678.9 1584h3v3h-3zM678.9 1591.5h3v3h-3zM678.9 1593h3v3h-3zM678.9 1603.5h3v3h-3zM678.9 1608h3v3h-3zM678.9 1612.5h3v3h-3zM678.9 1614h3v3h-3zM678.9 1620h3v3h-3zM678.9 1623h3v3h-3zM678.9 1624.5h3v3h-3zM678.9 1636.5h3v3h-3zM678.9 1645.5h3v3h-3zM678.9 1648.5h3v3h-3zM680.4 1549.5h3v3h-3zM680.4 1552.5h3v3h-3zM680.4 1554h3v3h-3zM680.4 1560h3v3h-3zM680.4 1569h3v3h-3zM680.4 1578h3v3h-3zM680.4 1588.5h3v3h-3zM680.4 1603.5h3v3h-3zM680.4 1614h3v3h-3zM680.4 1620h3v3h-3zM680.4 1624.5h3v3h-3zM680.4 1641h3v3h-3zM680.4 1642.5h3v3h-3zM680.4 1653h3v3h-3zM682.8 1552.5h3v3h-3zM682.8 1560h3v3h-3zM682.8 1564.5h3v3h-3zM682.8 1573.5h3v3h-3zM682.8 1609.5h3v3h-3zM682.8 1614h3v3h-3zM682.8 1617h3v3h-3zM682.8 1624.5h3v3h-3zM682.8 1633.5h3v3h-3zM684.3 1549.5h3v3h-3zM684.3 1555.5h3v3h-3zM684.3 1557h3v3h-3zM684.3 1560h3v3h-3zM684.3 1566h3v3h-3zM684.3 1569h3v3h-3zM684.3 1570.5h3v3h-3zM684.3 1572h3v3h-3zM684.3 1579.5h3v3h-3zM684.3 1581h3v3h-3zM684.3 1582.5h3v3h-3zM684.3 1588.5h3v3h-3zM684.3 1596h3v3h-3zM684.3 1599h3v3h-3zM684.3 1602h3v3h-3zM684.3 1609.5h3v3h-3zM684.3 1614h3v3h-3zM684.3 1617h3v3h-3zM684.3 1630.5h3v3h-3zM684.3 1636.5h3v3h-3zM684.3 1642.5h3v3h-3zM684.3 1650h3v3h-3zM684.3 1656h3v3h-3zM684.3 1657.5h3v3h-3zM684.3 1660.5h3v3h-3zM685.8 1558.5h3v3h-3zM685.8 1564.5h3v3h-3zM685.8 1578h3v3h-3zM685.8 1579.5h3v3h-3zM685.8 1608h3v3h-3zM685.8 1611h3v3h-3zM685.8 1614h3v3h-3zM685.8 1618.5h3v3h-3zM685.8 1620h3v3h-3zM685.8 1629h3v3h-3zM685.8 1650h3v3h-3zM688.2 1554h3v3h-3zM688.2 1560h3v3h-3zM688.2 1567.5h3v3h-3zM688.2 1570.5h3v3h-3zM688.2 1582.5h3v3h-3zM688.2 1588.5h3v3h-3zM688.2 1596h3v3h-3zM688.2 1609.5h3v3h-3zM688.2 1611h3v3h-3zM688.2 1612.5h3v3h-3zM688.2 1614h3v3h-3zM688.2 1657.5h3v3h-3zM689.7 1546.5h3v3h-3zM689.7 1548h3v3h-3zM689.7 1552.5h3v3h-3zM689.7 1557h3v3h-3zM689.7 1561.5h3v3h-3zM689.7 1567.5h3v3h-3zM689.7 1573.5h3v3h-3zM689.7 1579.5h3v3h-3zM689.7 1581h3v3h-3zM689.7 1590h3v3h-3zM689.7 1600.5h3v3h-3zM689.7 1603.5h3v3h-3zM689.7 1605h3v3h-3zM689.7 1609.5h3v3h-3zM689.7 1612.5h3v3h-3zM689.7 1617h3v3h-3zM689.7 1620h3v3h-3zM689.7 1623h3v3h-3zM689.7 1624.5h3v3h-3zM689.7 1627.5h3v3h-3zM689.7 1630.5h3v3h-3zM689.7 1633.5h3v3h-3zM689.7 1638h3v3h-3zM689.7 1639.5h3v3h-3zM691.2 1545h3v3h-3zM691.2 1581h3v3h-3zM691.2 1606.5h3v3h-3zM691.2 1609.5h3v3h-3zM691.2 1614h3v3h-3zM691.2 1620h3v3h-3zM691.2 1645.5h3v3h-3zM691.2 1653h3v3h-3zM693.6 1567.5h3v3h-3zM693.6 1569h3v3h-3zM693.6 1572h3v3h-3zM693.6 1576.5h3v3h-3zM693.6 1582.5h3v3h-3zM693.6 1587h3v3h-3zM693.6 1617h3v3h-3zM693.6 1633.5h3v3h-3zM693.6 1635h3v3h-3zM693.6 1647h3v3h-3zM693.6 1650h3v3h-3zM693.6 1654.5h3v3h-3zM695.1 1552.5h3v3h-3zM695.1 1555.5h3v3h-3zM695.1 1557h3v3h-3zM695.1 1558.5h3v3h-3zM695.1 1560h3v3h-3zM695.1 1561.5h3v3h-3zM695.1 1564.5h3v3h-3zM695.1 1567.5h3v3h-3zM695.1 1579.5h3v3h-3zM695.1 1581h3v3h-3zM695.1 1591.5h3v3h-3zM695.1 1594.5h3v3h-3zM695.1 1600.5h3v3h-3zM695.1 1602h3v3h-3zM695.1 1612.5h3v3h-3zM695.1 1617h3v3h-3zM695.1 1618.5h3v3h-3zM695.1 1621.5h3v3h-3zM695.1 1627.5h3v3h-3zM695.1 1635h3v3h-3zM695.1 1641h3v3h-3zM695.1 1644h3v3h-3zM695.1 1657.5h3v3h-3zM696.6 1566h3v3h-3zM696.6 1575h3v3h-3zM696.6 1578h3v3h-3zM696.6 1582.5h3v3h-3zM696.6 1588.5h3v3h-3zM696.6 1600.5h3v3h-3zM696.6 1617h3v3h-3zM696.6 1641h3v3h-3zM696.6 1651.5h3v3h-3zM696.6 1666.5h3v3h-3zM699 1560h3v3h-3zM699 1563h3v3h-3zM699 1569h3v3h-3zM699 1575h3v3h-3zM699 1576.5h3v3h-3zM699 1579.5h3v3h-3zM699 1587h3v3h-3zM699 1593h3v3h-3zM699 1600.5h3v3h-3zM699 1602h3v3h-3zM699 1635h3v3h-3zM699 1644h3v3h-3zM699 1645.5h3v3h-3zM700.5 1549.5h3v3h-3zM700.5 1554h3v3h-3zM700.5 1557h3v3h-3zM700.5 1558.5h3v3h-3zM700.5 1561.5h3v3h-3zM700.5 1563h3v3h-3zM700.5 1564.5h3v3h-3zM700.5 1567.5h3v3h-3zM700.5 1575h3v3h-3zM700.5 1578h3v3h-3zM700.5 1582.5h3v3h-3zM700.5 1585.5h3v3h-3zM700.5 1591.5h3v3h-3zM700.5 1596h3v3h-3zM700.5 1606.5h3v3h-3zM700.5 1609.5h3v3h-3zM700.5 1614h3v3h-3zM700.5 1617h3v3h-3zM700.5 1621.5h3v3h-3zM700.5 1626h3v3h-3zM700.5 1630.5h3v3h-3zM700.5 1633.5h3v3h-3zM700.5 1638h3v3h-3zM700.5 1639.5h3v3h-3zM700.5 1654.5h3v3h-3zM700.5 1656h3v3h-3zM702 1578h3v3h-3zM702 1597.5h3v3h-3zM702 1608h3v3h-3zM702 1623h3v3h-3zM702 1633.5h3v3h-3zM704.4 1543.5h3v3h-3zM704.4 1554h3v3h-3zM704.4 1557h3v3h-3zM704.4 1575h3v3h-3zM704.4 1593h3v3h-3zM704.4 1597.5h3v3h-3zM704.4 1605h3v3h-3zM704.4 1627.5h3v3h-3zM704.4 1636.5h3v3h-3zM704.4 1645.5h3v3h-3zM704.4 1653h3v3h-3zM704.4 1656h3v3h-3zM705.9 1545h3v3h-3zM705.9 1557h3v3h-3zM705.9 1558.5h3v3h-3zM705.9 1560h3v3h-3zM705.9 1561.5h3v3h-3zM705.9 1563h3v3h-3zM705.9 1564.5h3v3h-3zM705.9 1567.5h3v3h-3zM705.9 1569h3v3h-3zM705.9 1573.5h3v3h-3zM705.9 1579.5h3v3h-3zM705.9 1584h3v3h-3zM705.9 1585.5h3v3h-3zM705.9 1596h3v3h-3zM705.9 1605h3v3h-3zM705.9 1611h3v3h-3zM705.9 1614h3v3h-3zM705.9 1617h3v3h-3zM705.9 1629h3v3h-3zM705.9 1632h3v3h-3zM705.9 1636.5h3v3h-3zM705.9 1638h3v3h-3zM705.9 1645.5h3v3h-3zM705.9 1653h3v3h-3zM705.9 1654.5h3v3h-3zM705.9 1660.5h3v3h-3zM707.4 1563h3v3h-3zM707.4 1566h3v3h-3zM707.4 1575h3v3h-3zM707.4 1579.5h3v3h-3zM707.4 1581h3v3h-3zM707.4 1582.5h3v3h-3zM707.4 1585.5h3v3h-3zM707.4 1591.5h3v3h-3zM707.4 1615.5h3v3h-3zM707.4 1644h3v3h-3zM707.4 1647h3v3h-3zM709.8 1552.5h3v3h-3zM709.8 1576.5h3v3h-3zM709.8 1582.5h3v3h-3zM709.8 1591.5h3v3h-3zM709.8 1597.5h3v3h-3zM709.8 1602h3v3h-3zM709.8 1605h3v3h-3zM709.8 1608h3v3h-3zM709.8 1609.5h3v3h-3zM709.8 1629h3v3h-3zM709.8 1645.5h3v3h-3zM709.8 1651.5h3v3h-3zM711.3 1552.5h3v3h-3zM711.3 1554h3v3h-3zM711.3 1555.5h3v3h-3zM711.3 1557h3v3h-3zM711.3 1561.5h3v3h-3zM711.3 1566h3v3h-3zM711.3 1567.5h3v3h-3zM711.3 1569h3v3h-3zM711.3 1570.5h3v3h-3zM711.3 1572h3v3h-3zM711.3 1573.5h3v3h-3zM711.3 1576.5h3v3h-3zM711.3 1579.5h3v3h-3zM711.3 1587h3v3h-3zM711.3 1594.5h3v3h-3zM711.3 1602h3v3h-3zM711.3 1603.5h3v3h-3zM711.3 1606.5h3v3h-3zM711.3 1611h3v3h-3zM711.3 1612.5h3v3h-3zM711.3 1615.5h3v3h-3zM711.3 1620h3v3h-3zM711.3 1626h3v3h-3zM711.3 1633.5h3v3h-3zM711.3 1645.5h3v3h-3zM711.3 1648.5h3v3h-3zM711.3 1654.5h3v3h-3zM712.8 1555.5h3v3h-3zM712.8 1567.5h3v3h-3zM712.8 1569h3v3h-3zM712.8 1570.5h3v3h-3zM712.8 1582.5h3v3h-3zM712.8 1614h3v3h-3zM712.8 1638h3v3h-3zM715.2 1554h3v3h-3zM715.2 1572h3v3h-3zM715.2 1581h3v3h-3zM715.2 1584h3v3h-3zM715.2 1585.5h3v3h-3zM715.2 1597.5h3v3h-3zM715.2 1608h3v3h-3zM715.2 1632h3v3h-3zM716.7 1551h3v3h-3zM716.7 1557h3v3h-3zM716.7 1563h3v3h-3zM716.7 1569h3v3h-3zM716.7 1572h3v3h-3zM716.7 1576.5h3v3h-3zM716.7 1578h3v3h-3zM716.7 1581h3v3h-3zM716.7 1584h3v3h-3zM716.7 1585.5h3v3h-3zM716.7 1587h3v3h-3zM716.7 1588.5h3v3h-3zM716.7 1593h3v3h-3zM716.7 1594.5h3v3h-3zM716.7 1596h3v3h-3zM716.7 1599h3v3h-3zM716.7 1600.5h3v3h-3zM716.7 1605h3v3h-3zM716.7 1609.5h3v3h-3zM716.7 1612.5h3v3h-3zM716.7 1617h3v3h-3zM716.7 1618.5h3v3h-3zM716.7 1629h3v3h-3zM716.7 1632h3v3h-3zM716.7 1635h3v3h-3zM716.7 1636.5h3v3h-3zM716.7 1647h3v3h-3zM716.7 1648.5h3v3h-3zM716.7 1663.5h3v3h-3zM718.2 1546.5h3v3h-3zM718.2 1549.5h3v3h-3zM718.2 1564.5h3v3h-3zM718.2 1569h3v3h-3zM718.2 1581h3v3h-3zM718.2 1608h3v3h-3zM720.6 1552.5h3v3h-3zM720.6 1555.5h3v3h-3zM720.6 1569h3v3h-3zM720.6 1573.5h3v3h-3zM720.6 1593h3v3h-3zM720.6 1596h3v3h-3zM720.6 1614h3v3h-3zM720.6 1624.5h3v3h-3zM720.6 1638h3v3h-3zM720.6 1663.5h3v3h-3zM722.1 1551h3v3h-3zM722.1 1560h3v3h-3zM722.1 1564.5h3v3h-3zM722.1 1566h3v3h-3zM722.1 1567.5h3v3h-3zM722.1 1570.5h3v3h-3zM722.1 1584h3v3h-3zM722.1 1587h3v3h-3zM722.1 1591.5h3v3h-3zM722.1 1600.5h3v3h-3zM722.1 1614h3v3h-3zM722.1 1617h3v3h-3zM722.1 1621.5h3v3h-3zM722.1 1624.5h3v3h-3zM722.1 1627.5h3v3h-3zM722.1 1633.5h3v3h-3zM722.1 1635h3v3h-3zM722.1 1638h3v3h-3zM722.1 1650h3v3h-3zM722.1 1656h3v3h-3zM723.6 1555.5h3v3h-3zM723.6 1569h3v3h-3zM723.6 1578h3v3h-3zM723.6 1582.5h3v3h-3zM723.6 1585.5h3v3h-3zM723.6 1597.5h3v3h-3zM723.6 1602h3v3h-3zM723.6 1603.5h3v3h-3zM723.6 1606.5h3v3h-3zM723.6 1608h3v3h-3zM723.6 1633.5h3v3h-3zM723.6 1641h3v3h-3zM726 1567.5h3v3h-3zM726 1587h3v3h-3zM726 1597.5h3v3h-3zM726 1599h3v3h-3zM726 1608h3v3h-3zM726 1614h3v3h-3zM726 1615.5h3v3h-3zM726 1641h3v3h-3zM726 1651.5h3v3h-3zM727.5 1555.5h3v3h-3zM727.5 1557h3v3h-3zM727.5 1560h3v3h-3zM727.5 1561.5h3v3h-3zM727.5 1569h3v3h-3zM727.5 1572h3v3h-3zM727.5 1575h3v3h-3zM727.5 1579.5h3v3h-3zM727.5 1590h3v3h-3zM727.5 1599h3v3h-3zM727.5 1605h3v3h-3zM727.5 1608h3v3h-3zM727.5 1611h3v3h-3zM727.5 1612.5h3v3h-3zM727.5 1615.5h3v3h-3zM727.5 1617h3v3h-3zM727.5 1618.5h3v3h-3zM727.5 1623h3v3h-3zM727.5 1626h3v3h-3zM727.5 1629h3v3h-3zM727.5 1632h3v3h-3zM727.5 1647h3v3h-3zM729 1551h3v3h-3zM729 1566h3v3h-3zM729 1569h3v3h-3zM729 1570.5h3v3h-3zM729 1582.5h3v3h-3zM729 1584h3v3h-3zM729 1590h3v3h-3zM729 1599h3v3h-3zM729 1605h3v3h-3zM729 1609.5h3v3h-3zM729 1621.5h3v3h-3zM729 1648.5h3v3h-3zM731.4 1552.5h3v3h-3zM731.4 1554h3v3h-3zM731.4 1573.5h3v3h-3zM731.4 1623h3v3h-3zM731.4 1627.5h3v3h-3zM731.4 1636.5h3v3h-3zM731.4 1639.5h3v3h-3zM731.4 1648.5h3v3h-3zM732.9 1545h3v3h-3zM732.9 1552.5h3v3h-3zM732.9 1555.5h3v3h-3zM732.9 1557h3v3h-3zM732.9 1558.5h3v3h-3zM732.9 1566h3v3h-3zM732.9 1567.5h3v3h-3zM732.9 1569h3v3h-3zM732.9 1573.5h3v3h-3zM732.9 1581h3v3h-3zM732.9 1584h3v3h-3zM732.9 1587h3v3h-3zM732.9 1591.5h3v3h-3zM732.9 1599h3v3h-3zM732.9 1600.5h3v3h-3zM732.9 1603.5h3v3h-3zM732.9 1612.5h3v3h-3zM732.9 1615.5h3v3h-3zM732.9 1630.5h3v3h-3zM732.9 1632h3v3h-3zM732.9 1636.5h3v3h-3zM732.9 1642.5h3v3h-3zM732.9 1645.5h3v3h-3zM732.9 1656h3v3h-3zM734.4 1545h3v3h-3zM734.4 1551h3v3h-3zM734.4 1558.5h3v3h-3zM734.4 1561.5h3v3h-3zM734.4 1563h3v3h-3zM734.4 1569h3v3h-3zM734.4 1579.5h3v3h-3zM734.4 1591.5h3v3h-3zM734.4 1597.5h3v3h-3zM734.4 1599h3v3h-3zM734.4 1615.5h3v3h-3zM734.4 1629h3v3h-3zM734.4 1636.5h3v3h-3zM734.4 1645.5h3v3h-3zM736.8 1564.5h3v3h-3zM736.8 1567.5h3v3h-3zM736.8 1573.5h3v3h-3zM736.8 1575h3v3h-3zM736.8 1576.5h3v3h-3zM736.8 1585.5h3v3h-3zM736.8 1608h3v3h-3zM736.8 1614h3v3h-3zM736.8 1618.5h3v3h-3zM736.8 1620h3v3h-3zM736.8 1626h3v3h-3zM736.8 1627.5h3v3h-3zM736.8 1644h3v3h-3zM738.3 1545h3v3h-3zM738.3 1551h3v3h-3zM738.3 1552.5h3v3h-3zM738.3 1554h3v3h-3zM738.3 1555.5h3v3h-3zM738.3 1557h3v3h-3zM738.3 1560h3v3h-3zM738.3 1561.5h3v3h-3zM738.3 1564.5h3v3h-3zM738.3 1572h3v3h-3zM738.3 1573.5h3v3h-3zM738.3 1576.5h3v3h-3zM738.3 1584h3v3h-3zM738.3 1588.5h3v3h-3zM738.3 1590h3v3h-3zM738.3 1599h3v3h-3zM738.3 1600.5h3v3h-3zM738.3 1605h3v3h-3zM738.3 1608h3v3h-3zM738.3 1615.5h3v3h-3zM738.3 1626h3v3h-3zM738.3 1630.5h3v3h-3zM738.3 1642.5h3v3h-3zM738.3 1645.5h3v3h-3zM738.3 1648.5h3v3h-3zM739.8 1551h3v3h-3zM739.8 1555.5h3v3h-3zM739.8 1570.5h3v3h-3zM739.8 1573.5h3v3h-3zM739.8 1596h3v3h-3zM739.8 1606.5h3v3h-3zM739.8 1648.5h3v3h-3zM742.2 1548h3v3h-3zM742.2 1551h3v3h-3zM742.2 1560h3v3h-3zM742.2 1563h3v3h-3zM742.2 1567.5h3v3h-3zM742.2 1573.5h3v3h-3zM742.2 1588.5h3v3h-3zM742.2 1611h3v3h-3zM742.2 1632h3v3h-3zM742.2 1633.5h3v3h-3zM743.7 1558.5h3v3h-3zM743.7 1561.5h3v3h-3zM743.7 1563h3v3h-3zM743.7 1566h3v3h-3zM743.7 1570.5h3v3h-3zM743.7 1572h3v3h-3zM743.7 1573.5h3v3h-3zM743.7 1578h3v3h-3zM743.7 1581h3v3h-3zM743.7 1584h3v3h-3zM743.7 1588.5h3v3h-3zM743.7 1590h3v3h-3zM743.7 1593h3v3h-3zM743.7 1594.5h3v3h-3zM743.7 1597.5h3v3h-3zM743.7 1602h3v3h-3zM743.7 1608h3v3h-3zM743.7 1609.5h3v3h-3zM743.7 1620h3v3h-3zM743.7 1621.5h3v3h-3zM743.7 1623h3v3h-3zM743.7 1626h3v3h-3zM743.7 1627.5h3v3h-3zM743.7 1632h3v3h-3zM743.7 1633.5h3v3h-3zM743.7 1638h3v3h-3zM743.7 1639.5h3v3h-3zM743.7 1642.5h3v3h-3zM745.2 1548h3v3h-3zM745.2 1552.5h3v3h-3zM745.2 1554h3v3h-3zM745.2 1557h3v3h-3zM745.2 1560h3v3h-3zM745.2 1566h3v3h-3zM745.2 1569h3v3h-3zM745.2 1573.5h3v3h-3zM745.2 1584h3v3h-3zM745.2 1591.5h3v3h-3zM745.2 1594.5h3v3h-3zM745.2 1606.5h3v3h-3zM745.2 1618.5h3v3h-3zM745.2 1629h3v3h-3zM745.2 1651.5h3v3h-3zM747.6 1552.5h3v3h-3zM747.6 1555.5h3v3h-3zM747.6 1575h3v3h-3zM747.6 1578h3v3h-3zM747.6 1579.5h3v3h-3zM747.6 1582.5h3v3h-3zM747.6 1585.5h3v3h-3zM747.6 1617h3v3h-3zM747.6 1627.5h3v3h-3zM749.1 1546.5h3v3h-3zM749.1 1551h3v3h-3zM749.1 1554h3v3h-3zM749.1 1557h3v3h-3zM749.1 1560h3v3h-3zM749.1 1561.5h3v3h-3zM749.1 1564.5h3v3h-3zM749.1 1567.5h3v3h-3zM749.1 1569h3v3h-3zM749.1 1570.5h3v3h-3zM749.1 1573.5h3v3h-3zM749.1 1582.5h3v3h-3zM749.1 1584h3v3h-3zM749.1 1585.5h3v3h-3zM749.1 1587h3v3h-3zM749.1 1590h3v3h-3zM749.1 1596h3v3h-3zM749.1 1599h3v3h-3zM749.1 1602h3v3h-3zM749.1 1606.5h3v3h-3zM749.1 1608h3v3h-3zM749.1 1612.5h3v3h-3zM749.1 1614h3v3h-3zM749.1 1615.5h3v3h-3zM749.1 1618.5h3v3h-3zM749.1 1620h3v3h-3zM749.1 1624.5h3v3h-3zM749.1 1626h3v3h-3zM749.1 1629h3v3h-3zM749.1 1633.5h3v3h-3zM749.1 1648.5h3v3h-3zM750.6 1548h3v3h-3zM750.6 1563h3v3h-3zM750.6 1566h3v3h-3zM750.6 1572h3v3h-3zM750.6 1578h3v3h-3zM750.6 1611h3v3h-3zM750.6 1612.5h3v3h-3zM750.6 1615.5h3v3h-3zM750.6 1617h3v3h-3zM753 1564.5h3v3h-3zM753 1579.5h3v3h-3zM753 1602h3v3h-3zM753 1609.5h3v3h-3zM753 1620h3v3h-3zM753 1624.5h3v3h-3zM753 1633.5h3v3h-3zM753 1635h3v3h-3zM754.5 1545h3v3h-3zM754.5 1549.5h3v3h-3zM754.5 1552.5h3v3h-3zM754.5 1558.5h3v3h-3zM754.5 1560h3v3h-3zM754.5 1566h3v3h-3zM754.5 1567.5h3v3h-3zM754.5 1575h3v3h-3zM754.5 1579.5h3v3h-3zM754.5 1582.5h3v3h-3zM754.5 1585.5h3v3h-3zM754.5 1591.5h3v3h-3zM754.5 1594.5h3v3h-3zM754.5 1600.5h3v3h-3zM754.5 1602h3v3h-3zM754.5 1608h3v3h-3zM754.5 1611h3v3h-3zM754.5 1612.5h3v3h-3zM754.5 1614h3v3h-3zM754.5 1618.5h3v3h-3zM754.5 1620h3v3h-3zM754.5 1639.5h3v3h-3zM754.5 1644h3v3h-3zM754.5 1647h3v3h-3zM756 1545h3v3h-3zM756 1555.5h3v3h-3zM756 1579.5h3v3h-3zM756 1582.5h3v3h-3zM756 1593h3v3h-3zM756 1626h3v3h-3zM756 1635h3v3h-3zM756 1636.5h3v3h-3zM758.4 1564.5h3v3h-3zM758.4 1582.5h3v3h-3zM758.4 1588.5h3v3h-3zM758.4 1597.5h3v3h-3zM758.4 1612.5h3v3h-3zM759.9 1548h3v3h-3zM759.9 1549.5h3v3h-3zM759.9 1552.5h3v3h-3zM759.9 1554h3v3h-3zM759.9 1561.5h3v3h-3zM759.9 1563h3v3h-3zM759.9 1564.5h3v3h-3zM759.9 1566h3v3h-3zM759.9 1570.5h3v3h-3zM759.9 1572h3v3h-3zM759.9 1575h3v3h-3zM759.9 1576.5h3v3h-3zM759.9 1578h3v3h-3zM759.9 1579.5h3v3h-3zM759.9 1587h3v3h-3zM759.9 1588.5h3v3h-3zM759.9 1590h3v3h-3zM759.9 1596h3v3h-3zM759.9 1597.5h3v3h-3zM759.9 1602h3v3h-3zM759.9 1603.5h3v3h-3zM759.9 1605h3v3h-3zM759.9 1608h3v3h-3zM759.9 1629h3v3h-3zM759.9 1633.5h3v3h-3zM759.9 1635h3v3h-3zM759.9 1636.5h3v3h-3zM761.4 1549.5h3v3h-3zM761.4 1551h3v3h-3zM761.4 1560h3v3h-3zM761.4 1570.5h3v3h-3zM761.4 1585.5h3v3h-3zM761.4 1588.5h3v3h-3zM761.4 1590h3v3h-3zM761.4 1591.5h3v3h-3zM761.4 1599h3v3h-3zM761.4 1603.5h3v3h-3zM761.4 1608h3v3h-3zM761.4 1621.5h3v3h-3zM761.4 1624.5h3v3h-3zM761.4 1639.5h3v3h-3zM763.8 1572h3v3h-3zM763.8 1573.5h3v3h-3zM763.8 1578h3v3h-3zM763.8 1587h3v3h-3zM763.8 1590h3v3h-3zM763.8 1594.5h3v3h-3zM763.8 1599h3v3h-3zM763.8 1600.5h3v3h-3zM763.8 1602h3v3h-3zM763.8 1621.5h3v3h-3zM763.8 1641h3v3h-3zM765.3 1546.5h3v3h-3zM765.3 1548h3v3h-3zM765.3 1549.5h3v3h-3zM765.3 1560h3v3h-3zM765.3 1570.5h3v3h-3zM765.3 1572h3v3h-3zM765.3 1582.5h3v3h-3zM765.3 1584h3v3h-3zM765.3 1585.5h3v3h-3zM765.3 1588.5h3v3h-3zM765.3 1593h3v3h-3zM765.3 1594.5h3v3h-3zM765.3 1596h3v3h-3zM765.3 1603.5h3v3h-3zM765.3 1605h3v3h-3zM765.3 1609.5h3v3h-3zM765.3 1620h3v3h-3zM765.3 1621.5h3v3h-3zM765.3 1638h3v3h-3zM766.8 1545h3v3h-3zM766.8 1546.5h3v3h-3zM766.8 1555.5h3v3h-3zM766.8 1567.5h3v3h-3zM766.8 1594.5h3v3h-3zM766.8 1603.5h3v3h-3zM769.2 1552.5h3v3h-3zM769.2 1560h3v3h-3zM769.2 1561.5h3v3h-3zM769.2 1564.5h3v3h-3zM769.2 1576.5h3v3h-3zM769.2 1579.5h3v3h-3zM769.2 1605h3v3h-3zM769.2 1614h3v3h-3zM769.2 1618.5h3v3h-3zM769.2 1626h3v3h-3zM769.2 1630.5h3v3h-3zM770.7 1545h3v3h-3zM770.7 1548h3v3h-3zM770.7 1551h3v3h-3zM770.7 1557h3v3h-3zM770.7 1558.5h3v3h-3zM770.7 1560h3v3h-3zM770.7 1570.5h3v3h-3zM770.7 1575h3v3h-3zM770.7 1576.5h3v3h-3zM770.7 1596h3v3h-3zM770.7 1600.5h3v3h-3zM770.7 1605h3v3h-3zM770.7 1608h3v3h-3zM770.7 1632h3v3h-3zM772.2 1551h3v3h-3zM772.2 1555.5h3v3h-3zM772.2 1578h3v3h-3zM772.2 1585.5h3v3h-3zM772.2 1588.5h3v3h-3zM772.2 1593h3v3h-3zM772.2 1596h3v3h-3zM772.2 1597.5h3v3h-3zM772.2 1599h3v3h-3zM772.2 1614h3v3h-3zM772.2 1617h3v3h-3zM772.2 1623h3v3h-3zM772.2 1632h3v3h-3zM772.2 1635h3v3h-3zM774.6 1561.5h3v3h-3zM774.6 1566h3v3h-3zM774.6 1572h3v3h-3zM774.6 1585.5h3v3h-3zM774.6 1590h3v3h-3zM774.6 1591.5h3v3h-3zM774.6 1594.5h3v3h-3zM774.6 1615.5h3v3h-3zM774.6 1617h3v3h-3zM774.6 1627.5h3v3h-3zM776.1 1551h3v3h-3zM776.1 1557h3v3h-3zM776.1 1561.5h3v3h-3zM776.1 1563h3v3h-3zM776.1 1564.5h3v3h-3zM776.1 1570.5h3v3h-3zM776.1 1575h3v3h-3zM776.1 1578h3v3h-3zM776.1 1585.5h3v3h-3zM776.1 1587h3v3h-3zM776.1 1590h3v3h-3zM776.1 1591.5h3v3h-3zM776.1 1599h3v3h-3zM776.1 1602h3v3h-3zM776.1 1605h3v3h-3zM776.1 1609.5h3v3h-3zM776.1 1612.5h3v3h-3zM776.1 1621.5h3v3h-3zM776.1 1623h3v3h-3zM777.6 1557h3v3h-3zM777.6 1566h3v3h-3zM777.6 1573.5h3v3h-3zM777.6 1575h3v3h-3zM777.6 1576.5h3v3h-3zM777.6 1590h3v3h-3zM777.6 1591.5h3v3h-3zM777.6 1597.5h3v3h-3zM777.6 1608h3v3h-3zM777.6 1621.5h3v3h-3zM780 1543.5h3v3h-3zM780 1555.5h3v3h-3zM780 1564.5h3v3h-3zM780 1572h3v3h-3zM780 1573.5h3v3h-3zM780 1581h3v3h-3zM780 1585.5h3v3h-3zM780 1588.5h3v3h-3zM780 1605h3v3h-3zM780 1612.5h3v3h-3zM781.5 1548h3v3h-3zM781.5 1549.5h3v3h-3zM781.5 1552.5h3v3h-3zM781.5 1554h3v3h-3zM781.5 1558.5h3v3h-3zM781.5 1564.5h3v3h-3zM781.5 1566h3v3h-3zM781.5 1573.5h3v3h-3zM781.5 1582.5h3v3h-3zM781.5 1584h3v3h-3zM781.5 1590h3v3h-3zM781.5 1593h3v3h-3zM781.5 1594.5h3v3h-3zM781.5 1599h3v3h-3zM781.5 1600.5h3v3h-3zM781.5 1605h3v3h-3zM781.5 1606.5h3v3h-3zM781.5 1608h3v3h-3zM781.5 1609.5h3v3h-3zM781.5 1615.5h3v3h-3zM781.5 1621.5h3v3h-3zM781.5 1624.5h3v3h-3zM781.5 1630.5h3v3h-3zM783 1545h3v3h-3zM783 1552.5h3v3h-3zM783 1561.5h3v3h-3zM783 1569h3v3h-3zM783 1572h3v3h-3zM783 1579.5h3v3h-3zM783 1605h3v3h-3zM783 1615.5h3v3h-3zM785.4 1546.5h3v3h-3zM785.4 1554h3v3h-3zM785.4 1560h3v3h-3zM785.4 1561.5h3v3h-3zM785.4 1564.5h3v3h-3zM785.4 1573.5h3v3h-3zM785.4 1588.5h3v3h-3zM785.4 1591.5h3v3h-3zM785.4 1603.5h3v3h-3zM785.4 1605h3v3h-3zM785.4 1608h3v3h-3zM785.4 1614h3v3h-3zM785.4 1615.5h3v3h-3zM786.9 1543.5h3v3h-3zM786.9 1546.5h3v3h-3zM786.9 1548h3v3h-3zM786.9 1551h3v3h-3zM786.9 1552.5h3v3h-3zM786.9 1554h3v3h-3zM786.9 1557h3v3h-3zM786.9 1561.5h3v3h-3zM786.9 1564.5h3v3h-3zM786.9 1566h3v3h-3zM786.9 1573.5h3v3h-3zM786.9 1575h3v3h-3zM786.9 1579.5h3v3h-3zM786.9 1581h3v3h-3zM786.9 1584h3v3h-3zM786.9 1585.5h3v3h-3zM786.9 1588.5h3v3h-3zM786.9 1590h3v3h-3zM786.9 1594.5h3v3h-3zM786.9 1596h3v3h-3zM786.9 1600.5h3v3h-3zM786.9 1602h3v3h-3zM786.9 1608h3v3h-3zM786.9 1609.5h3v3h-3zM786.9 1621.5h3v3h-3zM788.4 1542h3v3h-3zM788.4 1549.5h3v3h-3zM788.4 1555.5h3v3h-3zM788.4 1557h3v3h-3zM788.4 1560h3v3h-3zM788.4 1570.5h3v3h-3zM788.4 1603.5h3v3h-3zM788.4 1611h3v3h-3zM788.4 1612.5h3v3h-3zM790.8 1545h3v3h-3zM790.8 1551h3v3h-3zM790.8 1558.5h3v3h-3zM790.8 1560h3v3h-3zM790.8 1566h3v3h-3zM790.8 1570.5h3v3h-3zM790.8 1579.5h3v3h-3zM790.8 1581h3v3h-3zM790.8 1599h3v3h-3zM790.8 1605h3v3h-3zM790.8 1627.5h3v3h-3zM792.3 1551h3v3h-3zM792.3 1554h3v3h-3zM792.3 1560h3v3h-3zM792.3 1563h3v3h-3zM792.3 1567.5h3v3h-3zM792.3 1569h3v3h-3zM792.3 1570.5h3v3h-3zM792.3 1572h3v3h-3zM792.3 1575h3v3h-3zM792.3 1576.5h3v3h-3zM792.3 1584h3v3h-3zM792.3 1587h3v3h-3zM792.3 1588.5h3v3h-3zM792.3 1591.5h3v3h-3zM792.3 1593h3v3h-3zM792.3 1594.5h3v3h-3zM792.3 1596h3v3h-3zM792.3 1597.5h3v3h-3zM792.3 1602h3v3h-3zM792.3 1621.5h3v3h-3zM793.8 1545h3v3h-3zM793.8 1557h3v3h-3zM793.8 1570.5h3v3h-3zM793.8 1576.5h3v3h-3zM793.8 1578h3v3h-3zM793.8 1584h3v3h-3zM793.8 1600.5h3v3h-3zM793.8 1606.5h3v3h-3zM793.8 1608h3v3h-3zM793.8 1611h3v3h-3zM796.2 1549.5h3v3h-3zM796.2 1557h3v3h-3zM796.2 1558.5h3v3h-3zM796.2 1561.5h3v3h-3zM796.2 1563h3v3h-3zM796.2 1564.5h3v3h-3zM796.2 1567.5h3v3h-3zM796.2 1573.5h3v3h-3zM796.2 1594.5h3v3h-3zM796.2 1597.5h3v3h-3zM797.7 1549.5h3v3h-3zM797.7 1552.5h3v3h-3zM797.7 1555.5h3v3h-3zM797.7 1560h3v3h-3zM797.7 1561.5h3v3h-3zM797.7 1566h3v3h-3zM797.7 1567.5h3v3h-3zM797.7 1570.5h3v3h-3zM797.7 1575h3v3h-3zM797.7 1579.5h3v3h-3zM797.7 1581h3v3h-3zM797.7 1587h3v3h-3zM797.7 1590h3v3h-3zM797.7 1591.5h3v3h-3zM797.7 1594.5h3v3h-3zM797.7 1603.5h3v3h-3zM797.7 1606.5h3v3h-3zM797.7 1611h3v3h-3zM797.7 1614h3v3h-3zM799.2 1560h3v3h-3zM799.2 1569h3v3h-3zM799.2 1570.5h3v3h-3zM799.2 1573.5h3v3h-3zM799.2 1576.5h3v3h-3zM799.2 1581h3v3h-3zM799.2 1590h3v3h-3zM799.2 1605h3v3h-3zM799.2 1617h3v3h-3zM801.6 1552.5h3v3h-3zM801.6 1554h3v3h-3zM801.6 1557h3v3h-3zM801.6 1564.5h3v3h-3zM801.6 1566h3v3h-3zM801.6 1569h3v3h-3zM801.6 1573.5h3v3h-3zM801.6 1582.5h3v3h-3zM801.6 1588.5h3v3h-3zM801.6 1609.5h3v3h-3zM803.1 1546.5h3v3h-3zM803.1 1548h3v3h-3zM803.1 1549.5h3v3h-3zM803.1 1555.5h3v3h-3zM803.1 1558.5h3v3h-3zM803.1 1560h3v3h-3zM803.1 1561.5h3v3h-3zM803.1 1566h3v3h-3zM803.1 1567.5h3v3h-3zM803.1 1570.5h3v3h-3zM803.1 1572h3v3h-3zM803.1 1573.5h3v3h-3zM803.1 1575h3v3h-3zM803.1 1576.5h3v3h-3zM803.1 1578h3v3h-3zM803.1 1579.5h3v3h-3zM803.1 1599h3v3h-3zM803.1 1605h3v3h-3zM803.1 1608h3v3h-3zM803.1 1609.5h3v3h-3zM803.1 1615.5h3v3h-3zM803.1 1620h3v3h-3zM804.6 1545h3v3h-3zM804.6 1551h3v3h-3zM804.6 1555.5h3v3h-3zM804.6 1569h3v3h-3zM804.6 1582.5h3v3h-3zM807 1555.5h3v3h-3zM807 1561.5h3v3h-3zM807 1564.5h3v3h-3zM807 1572h3v3h-3zM807 1585.5h3v3h-3zM807 1590h3v3h-3zM807 1594.5h3v3h-3zM808.5 1545h3v3h-3zM808.5 1551h3v3h-3zM808.5 1552.5h3v3h-3zM808.5 1557h3v3h-3zM808.5 1563h3v3h-3zM808.5 1566h3v3h-3zM808.5 1567.5h3v3h-3zM808.5 1570.5h3v3h-3zM808.5 1572h3v3h-3zM808.5 1573.5h3v3h-3zM808.5 1575h3v3h-3zM808.5 1576.5h3v3h-3zM808.5 1578h3v3h-3zM808.5 1579.5h3v3h-3zM808.5 1582.5h3v3h-3zM808.5 1585.5h3v3h-3zM808.5 1588.5h3v3h-3zM808.5 1590h3v3h-3zM808.5 1597.5h3v3h-3zM808.5 1605h3v3h-3zM810 1549.5h3v3h-3zM810 1551h3v3h-3zM810 1558.5h3v3h-3zM810 1567.5h3v3h-3zM810 1570.5h3v3h-3zM810 1588.5h3v3h-3zM810 1596h3v3h-3zM812.4 1545h3v3h-3zM812.4 1549.5h3v3h-3zM812.4 1551h3v3h-3zM812.4 1557h3v3h-3zM812.4 1558.5h3v3h-3zM812.4 1564.5h3v3h-3zM812.4 1572h3v3h-3zM812.4 1585.5h3v3h-3zM812.4 1597.5h3v3h-3zM813.9 1542h3v3h-3zM813.9 1543.5h3v3h-3zM813.9 1546.5h3v3h-3zM813.9 1549.5h3v3h-3zM813.9 1551h3v3h-3zM813.9 1554h3v3h-3zM813.9 1555.5h3v3h-3zM813.9 1557h3v3h-3zM813.9 1561.5h3v3h-3zM813.9 1563h3v3h-3zM813.9 1566h3v3h-3zM813.9 1567.5h3v3h-3zM813.9 1569h3v3h-3zM813.9 1570.5h3v3h-3zM813.9 1572h3v3h-3zM813.9 1573.5h3v3h-3zM813.9 1575h3v3h-3zM813.9 1576.5h3v3h-3zM813.9 1579.5h3v3h-3zM813.9 1581h3v3h-3zM813.9 1582.5h3v3h-3zM813.9 1584h3v3h-3zM813.9 1591.5h3v3h-3zM813.9 1594.5h3v3h-3zM815.4 1554h3v3h-3zM815.4 1555.5h3v3h-3zM815.4 1558.5h3v3h-3zM815.4 1561.5h3v3h-3zM815.4 1570.5h3v3h-3zM815.4 1572h3v3h-3zM815.4 1573.5h3v3h-3zM815.4 1578h3v3h-3zM815.4 1581h3v3h-3zM815.4 1603.5h3v3h-3zM817.8 1546.5h3v3h-3zM817.8 1549.5h3v3h-3zM817.8 1552.5h3v3h-3zM817.8 1554h3v3h-3zM817.8 1555.5h3v3h-3zM817.8 1558.5h3v3h-3zM817.8 1561.5h3v3h-3zM817.8 1564.5h3v3h-3zM817.8 1567.5h3v3h-3zM817.8 1569h3v3h-3zM817.8 1578h3v3h-3zM817.8 1591.5h3v3h-3zM817.8 1600.5h3v3h-3zM819.3 1543.5h3v3h-3zM819.3 1545h3v3h-3zM819.3 1548h3v3h-3zM819.3 1549.5h3v3h-3zM819.3 1554h3v3h-3zM819.3 1555.5h3v3h-3zM819.3 1557h3v3h-3zM819.3 1558.5h3v3h-3zM819.3 1560h3v3h-3zM819.3 1564.5h3v3h-3zM819.3 1566h3v3h-3zM819.3 1567.5h3v3h-3zM819.3 1569h3v3h-3zM819.3 1575h3v3h-3zM819.3 1576.5h3v3h-3zM819.3 1578h3v3h-3zM819.3 1579.5h3v3h-3zM819.3 1582.5h3v3h-3zM819.3 1585.5h3v3h-3zM819.3 1587h3v3h-3zM819.3 1588.5h3v3h-3zM819.3 1590h3v3h-3zM819.3 1593h3v3h-3zM820.8 1549.5h3v3h-3zM820.8 1554h3v3h-3zM820.8 1558.5h3v3h-3zM820.8 1560h3v3h-3zM820.8 1566h3v3h-3zM820.8 1567.5h3v3h-3zM820.8 1569h3v3h-3zM820.8 1582.5h3v3h-3zM820.8 1584h3v3h-3zM820.8 1587h3v3h-3zM823.2 1542h3v3h-3zM823.2 1551h3v3h-3zM823.2 1552.5h3v3h-3zM823.2 1554h3v3h-3zM823.2 1560h3v3h-3zM823.2 1563h3v3h-3zM823.2 1569h3v3h-3zM823.2 1575h3v3h-3zM823.2 1576.5h3v3h-3zM823.2 1579.5h3v3h-3zM823.2 1581h3v3h-3zM824.7 1542h3v3h-3zM824.7 1543.5h3v3h-3zM824.7 1545h3v3h-3zM824.7 1549.5h3v3h-3zM824.7 1552.5h3v3h-3zM824.7 1554h3v3h-3zM824.7 1555.5h3v3h-3zM824.7 1558.5h3v3h-3zM824.7 1560h3v3h-3zM824.7 1561.5h3v3h-3zM824.7 1563h3v3h-3zM824.7 1564.5h3v3h-3zM824.7 1566h3v3h-3zM824.7 1567.5h3v3h-3zM824.7 1570.5h3v3h-3zM824.7 1575h3v3h-3zM824.7 1578h3v3h-3zM824.7 1579.5h3v3h-3zM824.7 1582.5h3v3h-3zM824.7 1584h3v3h-3zM824.7 1596h3v3h-3zM826.2 1545h3v3h-3zM826.2 1554h3v3h-3zM826.2 1555.5h3v3h-3zM826.2 1560h3v3h-3zM826.2 1570.5h3v3h-3zM826.2 1576.5h3v3h-3zM826.2 1584h3v3h-3zM826.2 1599h3v3h-3zM828.6 1548h3v3h-3zM828.6 1561.5h3v3h-3zM828.6 1563h3v3h-3zM828.6 1566h3v3h-3zM828.6 1567.5h3v3h-3zM828.6 1570.5h3v3h-3zM828.6 1572h3v3h-3zM828.6 1573.5h3v3h-3zM828.6 1576.5h3v3h-3zM828.6 1588.5h3v3h-3zM830.1 1545h3v3h-3zM830.1 1549.5h3v3h-3zM830.1 1551h3v3h-3zM830.1 1555.5h3v3h-3zM830.1 1558.5h3v3h-3zM830.1 1561.5h3v3h-3zM830.1 1563h3v3h-3zM830.1 1566h3v3h-3zM830.1 1570.5h3v3h-3zM830.1 1573.5h3v3h-3zM830.1 1576.5h3v3h-3zM830.1 1579.5h3v3h-3zM830.1 1581h3v3h-3zM830.1 1582.5h3v3h-3zM830.1 1593h3v3h-3zM831.6 1543.5h3v3h-3zM831.6 1551h3v3h-3zM831.6 1552.5h3v3h-3zM831.6 1554h3v3h-3zM831.6 1555.5h3v3h-3zM831.6 1563h3v3h-3zM831.6 1564.5h3v3h-3zM831.6 1575h3v3h-3zM834 1552.5h3v3h-3zM834 1554h3v3h-3zM834 1557h3v3h-3zM834 1564.5h3v3h-3zM834 1567.5h3v3h-3zM834 1576.5h3v3h-3zM835.5 1540.5h3v3h-3zM835.5 1545h3v3h-3zM835.5 1548h3v3h-3zM835.5 1549.5h3v3h-3zM835.5 1551h3v3h-3zM835.5 1554h3v3h-3zM835.5 1557h3v3h-3zM835.5 1558.5h3v3h-3zM835.5 1560h3v3h-3zM835.5 1561.5h3v3h-3zM835.5 1563h3v3h-3zM835.5 1564.5h3v3h-3zM835.5 1569h3v3h-3zM835.5 1570.5h3v3h-3zM835.5 1572h3v3h-3zM835.5 1575h3v3h-3zM835.5 1576.5h3v3h-3zM835.5 1579.5h3v3h-3zM835.5 1587h3v3h-3zM837 1545h3v3h-3zM837 1548h3v3h-3zM837 1552.5h3v3h-3zM837 1557h3v3h-3zM837 1558.5h3v3h-3zM837 1560h3v3h-3zM837 1564.5h3v3h-3zM837 1567.5h3v3h-3zM837 1570.5h3v3h-3zM837 1572h3v3h-3zM837 1575h3v3h-3zM837 1579.5h3v3h-3zM839.4 1566h3v3h-3zM839.4 1570.5h3v3h-3zM839.4 1575h3v3h-3zM839.4 1578h3v3h-3zM840.9 1543.5h3v3h-3zM840.9 1545h3v3h-3zM840.9 1548h3v3h-3zM840.9 1549.5h3v3h-3zM840.9 1551h3v3h-3zM840.9 1552.5h3v3h-3zM840.9 1554h3v3h-3zM840.9 1555.5h3v3h-3zM840.9 1557h3v3h-3zM840.9 1563h3v3h-3zM840.9 1564.5h3v3h-3zM840.9 1566h3v3h-3zM840.9 1567.5h3v3h-3zM840.9 1569h3v3h-3zM840.9 1570.5h3v3h-3zM840.9 1575h3v3h-3zM840.9 1578h3v3h-3zM840.9 1584h3v3h-3zM842.4 1551h3v3h-3zM842.4 1552.5h3v3h-3zM842.4 1557h3v3h-3zM842.4 1558.5h3v3h-3zM842.4 1564.5h3v3h-3zM842.4 1572h3v3h-3zM842.4 1579.5h3v3h-3zM844.8 1546.5h3v3h-3zM844.8 1549.5h3v3h-3zM844.8 1552.5h3v3h-3zM844.8 1557h3v3h-3zM844.8 1560h3v3h-3zM844.8 1561.5h3v3h-3zM844.8 1566h3v3h-3zM846.3 1543.5h3v3h-3zM846.3 1546.5h3v3h-3zM846.3 1548h3v3h-3zM846.3 1549.5h3v3h-3zM846.3 1551h3v3h-3zM846.3 1552.5h3v3h-3zM846.3 1554h3v3h-3zM846.3 1555.5h3v3h-3zM846.3 1557h3v3h-3zM846.3 1558.5h3v3h-3zM846.3 1560h3v3h-3zM846.3 1561.5h3v3h-3zM846.3 1563h3v3h-3zM846.3 1564.5h3v3h-3zM846.3 1569h3v3h-3zM846.3 1570.5h3v3h-3zM846.3 1575h3v3h-3zM846.3 1579.5h3v3h-3zM847.8 1545h3v3h-3zM847.8 1551h3v3h-3zM847.8 1563h3v3h-3zM847.8 1572h3v3h-3zM850.2 1543.5h3v3h-3zM850.2 1545h3v3h-3zM850.2 1546.5h3v3h-3zM850.2 1554h3v3h-3zM850.2 1558.5h3v3h-3zM850.2 1560h3v3h-3zM850.2 1570.5h3v3h-3zM851.7 1540.5h3v3h-3zM851.7 1543.5h3v3h-3zM851.7 1545h3v3h-3zM851.7 1546.5h3v3h-3zM851.7 1548h3v3h-3zM851.7 1549.5h3v3h-3zM851.7 1552.5h3v3h-3zM851.7 1554h3v3h-3zM851.7 1555.5h3v3h-3zM851.7 1557h3v3h-3zM851.7 1558.5h3v3h-3zM851.7 1560h3v3h-3zM851.7 1563h3v3h-3zM851.7 1566h3v3h-3zM851.7 1569h3v3h-3zM851.7 1570.5h3v3h-3zM851.7 1573.5h3v3h-3zM853.2 1540.5h3v3h-3zM853.2 1543.5h3v3h-3zM853.2 1545h3v3h-3zM853.2 1549.5h3v3h-3zM853.2 1558.5h3v3h-3zM853.2 1560h3v3h-3zM855.6 1539h3v3h-3zM855.6 1540.5h3v3h-3zM855.6 1549.5h3v3h-3zM855.6 1552.5h3v3h-3zM855.6 1554h3v3h-3zM855.6 1555.5h3v3h-3zM855.6 1557h3v3h-3zM855.6 1558.5h3v3h-3zM855.6 1567.5h3v3h-3zM857.1 1537.5h3v3h-3zM857.1 1540.5h3v3h-3zM857.1 1543.5h3v3h-3zM857.1 1548h3v3h-3zM857.1 1551h3v3h-3zM857.1 1552.5h3v3h-3zM857.1 1557h3v3h-3zM857.1 1561.5h3v3h-3zM857.1 1563h3v3h-3zM857.1 1564.5h3v3h-3zM857.1 1572h3v3h-3zM858.6 1543.5h3v3h-3zM858.6 1546.5h3v3h-3zM858.6 1552.5h3v3h-3zM858.6 1554h3v3h-3zM858.6 1558.5h3v3h-3zM858.6 1564.5h3v3h-3zM858.6 1567.5h3v3h-3zM861 1540.5h3v3h-3zM861 1546.5h3v3h-3zM861 1548h3v3h-3zM861 1549.5h3v3h-3zM861 1551h3v3h-3zM861 1554h3v3h-3zM861 1557h3v3h-3zM861 1558.5h3v3h-3zM861 1563h3v3h-3zM862.5 1536h3v3h-3zM862.5 1537.5h3v3h-3zM862.5 1540.5h3v3h-3zM862.5 1542h3v3h-3zM862.5 1543.5h3v3h-3zM862.5 1545h3v3h-3zM862.5 1546.5h3v3h-3zM862.5 1549.5h3v3h-3zM862.5 1551h3v3h-3zM862.5 1552.5h3v3h-3zM862.5 1555.5h3v3h-3zM862.5 1557h3v3h-3zM862.5 1558.5h3v3h-3zM862.5 1560h3v3h-3zM862.5 1561.5h3v3h-3zM862.5 1563h3v3h-3zM862.5 1566h3v3h-3zM864 1543.5h3v3h-3zM864 1546.5h3v3h-3zM864 1548h3v3h-3zM864 1549.5h3v3h-3zM864 1551h3v3h-3zM864 1552.5h3v3h-3zM864 1555.5h3v3h-3zM864 1564.5h3v3h-3zM864 1570.5h3v3h-3zM866.4 1542h3v3h-3zM866.4 1543.5h3v3h-3zM866.4 1545h3v3h-3zM866.4 1546.5h3v3h-3zM866.4 1548h3v3h-3zM866.4 1552.5h3v3h-3zM866.4 1554h3v3h-3zM867.9 1537.5h3v3h-3zM867.9 1540.5h3v3h-3zM867.9 1543.5h3v3h-3zM867.9 1545h3v3h-3zM867.9 1546.5h3v3h-3zM867.9 1548h3v3h-3zM867.9 1549.5h3v3h-3zM867.9 1551h3v3h-3zM867.9 1552.5h3v3h-3zM867.9 1554h3v3h-3zM867.9 1555.5h3v3h-3zM867.9 1560h3v3h-3zM869.4 1540.5h3v3h-3zM869.4 1542h3v3h-3zM869.4 1543.5h3v3h-3zM869.4 1545h3v3h-3zM869.4 1548h3v3h-3zM869.4 1549.5h3v3h-3zM869.4 1551h3v3h-3zM869.4 1554h3v3h-3zM869.4 1555.5h3v3h-3zM871.8 1537.5h3v3h-3zM871.8 1542h3v3h-3zM871.8 1543.5h3v3h-3zM871.8 1545h3v3h-3zM871.8 1546.5h3v3h-3zM871.8 1548h3v3h-3zM871.8 1549.5h3v3h-3zM871.8 1551h3v3h-3zM871.8 1552.5h3v3h-3zM873.3 1536h3v3h-3zM873.3 1537.5h3v3h-3zM873.3 1539h3v3h-3zM873.3 1540.5h3v3h-3zM873.3 1543.5h3v3h-3zM873.3 1545h3v3h-3zM873.3 1546.5h3v3h-3zM873.3 1548h3v3h-3zM873.3 1549.5h3v3h-3zM873.3 1551h3v3h-3zM873.3 1552.5h3v3h-3zM873.3 1554h3v3h-3zM873.3 1555.5h3v3h-3zM873.3 1557h3v3h-3zM874.8 1539h3v3h-3zM874.8 1540.5h3v3h-3zM874.8 1545h3v3h-3zM874.8 1546.5h3v3h-3zM874.8 1548h3v3h-3zM877.2 1537.5h3v3h-3zM877.2 1540.5h3v3h-3zM877.2 1543.5h3v3h-3zM877.2 1545h3v3h-3zM877.2 1548h3v3h-3zM878.7 1537.5h3v3h-3zM878.7 1539h3v3h-3zM878.7 1540.5h3v3h-3zM878.7 1542h3v3h-3zM878.7 1543.5h3v3h-3zM878.7 1545h3v3h-3zM878.7 1546.5h3v3h-3zM878.7 1549.5h3v3h-3zM878.7 1552.5h3v3h-3zM878.7 1554h3v3h-3zM880.2 1537.5h3v3h-3zM880.2 1546.5h3v3h-3zM880.2 1548h3v3h-3zM882.6 1542h3v3h-3zM882.6 1543.5h3v3h-3zM882.6 1545h3v3h-3zM884.1 1536h3v3h-3zM884.1 1537.5h3v3h-3zM884.1 1539h3v3h-3zM884.1 1540.5h3v3h-3zM884.1 1542h3v3h-3zM884.1 1543.5h3v3h-3zM884.1 1545h3v3h-3zM884.1 1546.5h3v3h-3zM884.1 1548h3v3h-3zM885.6 1536h3v3h-3zM885.6 1540.5h3v3h-3zM885.6 1542h3v3h-3zM885.6 1543.5h3v3h-3zM885.6 1545h3v3h-3z" fill="#0000ff"/>
<rect x="597.9" y="1509.8" width="81.3" height="78.5" stroke="#000" stroke-width="5.6" fill="none"/>
<path d="M523.8 1596.8L548.9 1659.6L700 1617" stroke="#ff0000" stroke-width="4.2" fill="none" stroke-linejoin="miter"/>
<path d="M698 1615.2L750 1598L764 1589L770 1591L783 1579.5L790 1582L800 1571L808 1574L820 1563L828 1566L838 1558L848 1556L859 1549L872 1543.5L884 1539.5L884 1554L872 1555.5L866 1560L861 1576L855 1574L846 1578L838 1577L824 1582L810 1586L796 1589L783 1590L750 1602L698 1619.4 Z" fill="#ff0000"/>
<path d="M886.6 1531V1575.5" stroke="#ff0000" stroke-width="5" fill="none"/>
<ellipse cx="706.1" cy="1567.9" rx="194.7" ry="187.5" fill="none" stroke="#0c6b3c" stroke-width="7.8"/>
<ellipse cx="732.1" cy="2114.4" rx="96.5" ry="89.7" fill="none" stroke="#0c6b3c" stroke-width="8.6"/>
<path d="M1041.5 1429.4H952L905 1467" stroke="#000" stroke-width="8.5" fill="none" stroke-linejoin="miter"/>
<path d="M887.6 1482L898 1450.9L922.2 1478.5Z" fill="#000"/>
<text x="1045.6" y="1455.3" class="lw" textLength="319" lengthAdjust="spacingAndGlyphs">Figure 10i</text>
<text x="922" y="1551" class="lw b" textLength="298" lengthAdjust="spacingAndGlyphs">details of</text>
<text x="1240" y="1551" class="lw g" textLength="54" lengthAdjust="spacingAndGlyphs">A</text>
<text x="1296" y="1551" class="lw b">:</text>
<text x="920.5" y="1658.5" class="lw b" textLength="439" lengthAdjust="spacingAndGlyphs">ripples of DC</text>
<text x="1364" y="1636" class="sup2 b">2</text>
<text x="1417" y="1658.5" class="lw b" textLength="589" lengthAdjust="spacingAndGlyphs">and three-state PA</text>
<text x="845" y="2179" class="lw g">A</text>
<g transform="translate(72.5 1411.5) rotate(-90)"><text x="0" y="0" class="yl" textLength="521" lengthAdjust="spacingAndGlyphs">Output Current,</text><text x="537" y="0" class="yl it">i</text><text x="563" y="14.7" class="sub" textLength="101.5" lengthAdjust="spacingAndGlyphs">AMB</text><text x="690.5" y="0" class="yl" textLength="92" lengthAdjust="spacingAndGlyphs">(A)</text></g>
<g transform="translate(73.5 2173) rotate(-90)"><text x="0" y="0" class="yl" textLength="632" lengthAdjust="spacingAndGlyphs">Tracking Error (mA)</text></g>
</svg>
</body></html>
